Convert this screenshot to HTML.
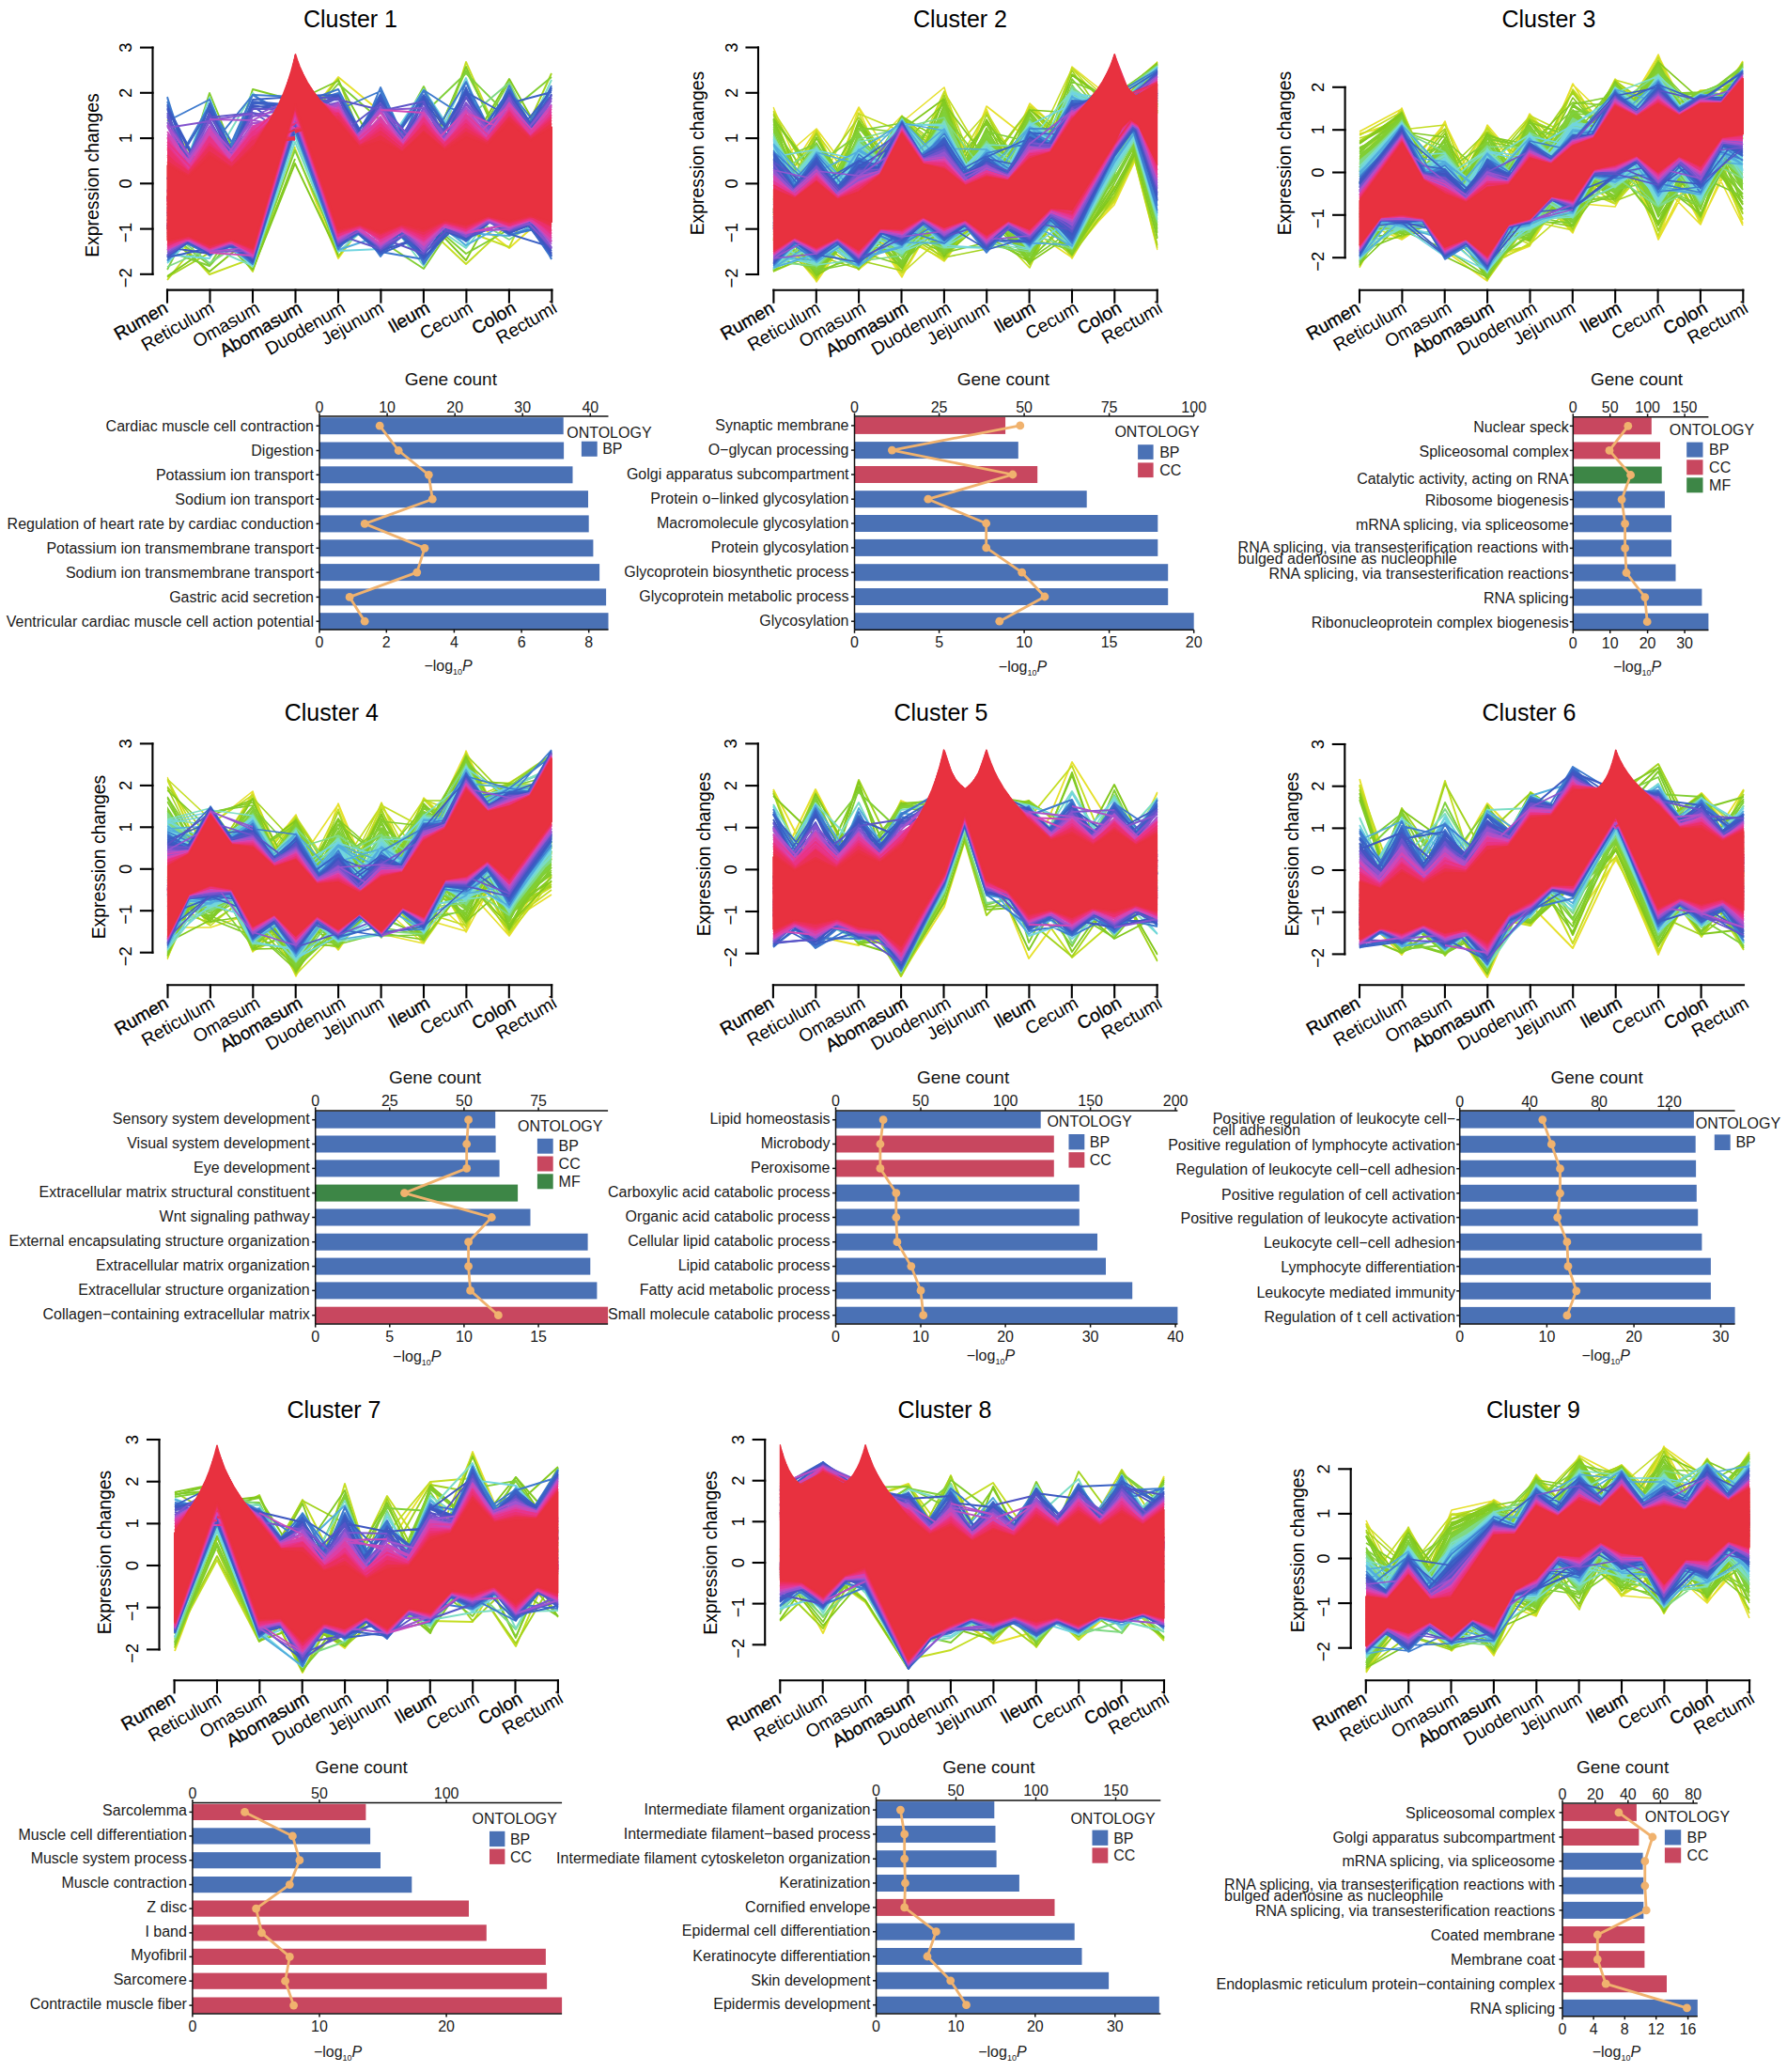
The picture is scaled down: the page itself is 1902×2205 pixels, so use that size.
<!DOCTYPE html>
<html lang="en"><head><meta charset="utf-8"><title>Clusters</title>
<style>html,body{margin:0;padding:0;background:#fff}body{width:1902px;height:2205px;overflow:hidden}svg{display:block}text{font-family:"Liberation Sans", sans-serif}</style></head><body>
<svg width="1902" height="2205" viewBox="0 0 1902 2205">
<rect width="1902" height="2205" fill="#fff"/>
<g id="line1">
<clipPath id="c1"><rect x="177.2" y="36.1" width="411" height="299.1"/></clipPath>
<g clip-path="url(#c1)" fill="none" stroke-width="1.9" stroke-linejoin="round">
<path d="M178 127L223 193M314 141L360 82L405 119M314 158L360 275L405 214M496 229L542 264L587 224" stroke="#e6e02c"/>
<path d="M451 211L496 66L542 170M178 298L223 242M178 243L223 292L269 275M223 228L269 289L314 156M451 239L496 281L542 238M496 246L542 263L587 169" stroke="#c4dd22"/>
<path d="M314 143L360 84L405 199M542 177L587 78M178 295L223 269M314 144L360 273L405 213" stroke="#a3d31e"/>
<path d="M496 162L542 84L587 163M178 294L223 263M178 251L223 289L269 251M269 287L314 174L360 271M451 230L496 277L542 194" stroke="#82c81c"/>
<path d="M223 240L269 95L314 107M314 108L360 86L405 168M451 178L496 71L542 174M223 242L269 287L314 169" stroke="#82ca24"/>
<path d="M178 243L223 99L269 211" stroke="#81cc2c"/>
<path d="M314 142L360 89L405 128M405 175L451 92L496 190M451 173L496 75L542 166M542 119L587 82M178 267L223 283L269 232M405 256L451 286L496 219M451 231L496 270L542 244" stroke="#81ce33"/>
<path d="M451 121L496 78L542 124M496 168L542 87L587 194M178 287L223 199M178 247L223 282L269 211M269 282L314 160L360 265" stroke="#80d03b"/>
<path d="M496 127L542 88L587 178M178 284L223 264M178 243L223 280L269 251M223 216L269 284L314 129M496 228L542 255L587 226" stroke="#7fd984"/>
<path d="M223 177L269 99L314 142M542 182L587 85M223 263L269 283L314 142M269 283L314 151L360 264M314 140L360 268L405 229M405 223L451 283L496 192M451 233L496 264L542 206" stroke="#7bddc4"/>
<path d="M178 228L223 104L269 220M405 164L451 95L496 163M451 178L496 83L542 204M178 280L223 234M178 271L223 275L269 201M223 246L269 283L314 131M269 282L314 145L360 263M314 130L360 267L405 265M451 218L496 262L542 169" stroke="#71d5e0"/>
<path d="M178 278L223 229M223 246L269 281L314 129M314 131L360 266L405 251M451 227L496 261L542 236M496 248L542 251L587 233" stroke="#51acdd"/>
<path d="M178 104L223 237M178 108L223 246M178 103L223 246M178 222L223 112L269 189M178 129L223 106L269 214M178 190L223 112L269 188M223 158L269 101L314 126M223 204L269 101L314 132M223 214L269 101L314 103M314 112L360 95L405 180M314 113L360 99L405 176M314 127L360 100L405 189M360 117L405 97L451 188M360 201L405 93L451 193M360 178L405 100L451 204M405 207L451 96L496 125M405 201L451 96L496 203M405 169L451 96L496 168M451 214L496 87L542 180M451 161L496 87L542 206M451 174L496 95L542 173M496 192L542 91L587 189M496 188L542 95L587 190M496 162L542 96L587 154M542 182L587 91M542 162L587 94M542 196L587 94M178 277L223 229M178 274L223 234M178 277L223 233M178 237L223 272L269 244M178 248L223 271L269 254M178 249L223 271L269 246M223 245L269 279L314 126M223 243L269 281L314 135M223 237L269 279L314 134M269 278L314 134L360 256M269 276L314 134L360 257M269 280L314 139L360 265M314 125L360 263L405 233M314 129L360 263L405 232M314 136L360 265L405 218M360 210L405 273L451 216M360 230L405 270L451 222M360 214L405 272L451 230M405 190L451 281L496 219M405 268L451 276L496 220M405 211L451 279L496 220M451 222L496 256L542 208M451 234L496 256L542 207M451 225L496 257L542 219M496 201L542 249L587 216M496 217L542 250L587 238M496 220L542 250L587 240M542 194L587 273M542 209L587 275M542 191L587 276" stroke="#3d7ace"/>
<path d="M178 112L223 200M178 111L223 224M178 113L223 198M178 191L223 116L269 226M178 244L223 110L269 217M178 241L223 112L269 224M223 231L269 108L314 112M223 233L269 110L314 113M223 217L269 106L314 103M314 130L360 101L405 179M314 129L360 101L405 178M314 102L360 101L405 185M360 187L405 101L451 195M360 199L405 104L451 191M360 193L405 102L451 212M405 207L451 103L496 163M405 169L451 101L496 165M405 170L451 103L496 196M451 180L496 95L542 198M451 200L496 98L542 124M451 211L496 93L542 203M496 166L542 96L587 173M496 176L542 97L587 164M496 189L542 96L587 179M542 152L587 96M542 172L587 93M542 110L587 98M178 274L223 232M178 274L223 264M178 273L223 239M178 241L223 271L269 241M178 247L223 270L269 246M178 243L223 270L269 250M223 236L269 279L314 134M223 237L269 278L314 123M223 246L269 278L314 125M269 275L314 133L360 259M269 274L314 134L360 257M269 277L314 134L360 260M314 131L360 262L405 233M314 124L360 262L405 219M314 131L360 262L405 233M360 228L405 269L451 220M360 229L405 270L451 251M360 217L405 270L451 221M405 225L451 276L496 221M405 229L451 276L496 215M405 224L451 275L496 225M451 227L496 254L542 235M451 236L496 256L542 205M451 218L496 256L542 221M496 216L542 248L587 178M496 218L542 249L587 263M496 215L542 248L587 221M542 214L587 272M542 190L587 273M542 199L587 271" stroke="#3a60c5"/>
<path d="M178 115L223 202M178 116L223 246M178 116L223 246M178 235L223 120L269 214M178 230L223 119L269 197M178 240L223 121L269 196M223 218L269 112L314 120M223 234L269 114L314 111M223 219L269 113L314 144M314 127L360 104L405 176M314 117L360 103L405 172M314 109L360 102L405 175M360 168L405 107L451 203M360 196L405 105L451 202M360 189L405 106L451 172M405 206L451 107L496 164M405 204L451 104L496 203M405 205L451 108L496 185M451 173L496 100L542 166M451 195L496 100L542 174M451 178L496 97L542 178M496 197L542 101L587 165M496 185L542 99L587 171M496 195L542 100L587 166M542 191L587 100M542 161L587 101M542 174L587 101M178 273L223 243M178 272L223 235M178 273L223 233M178 263L223 270L269 229M178 238L223 270L269 253M178 240L223 270L269 243M223 240L269 278L314 128M223 242L269 277L314 130M223 241L269 277L314 124M269 277L314 132L360 255M269 273L314 131L360 254M269 272L314 131L360 254M314 126L360 260L405 232M314 131L360 261L405 185M314 131L360 260L405 220M360 218L405 267L451 251M360 230L405 267L451 218M360 225L405 268L451 234M405 222L451 272L496 210M405 214L451 274L496 231M405 222L451 271L496 220M451 231L496 254L542 220M451 221L496 253L542 217M451 239L496 253L542 222M496 215L542 247L587 228M496 221L542 248L587 231M496 223L542 247L587 221M542 199L587 269M542 210L587 270M542 207L587 267" stroke="#3d56c1"/>
<path d="M178 120L223 225M178 124L223 242M178 122L223 213M178 213L223 121L269 198M178 210L223 123L269 195M178 227L223 127L269 209M223 223L269 116L314 116M223 204L269 120L314 146M223 125L269 120L314 129M314 102L360 105L405 182M314 124L360 104L405 200M314 109L360 106L405 117M360 145L405 110L451 163M360 188L405 110L451 181M360 182L405 111L451 198M405 118L451 108L496 202M405 177L451 110L496 201M405 183L451 110L496 172M451 195L496 104L542 165M451 207L496 103L542 174M451 172L496 104L542 177M496 186L542 104L587 171M496 201L542 101L587 178M496 199L542 102L587 166M542 164L587 102M542 180L587 101M542 183L587 104M178 272L223 240M178 271L223 236M178 272L223 234M178 242L223 269L269 252M178 237L223 269L269 244M178 240L223 269L269 244M223 237L269 275L314 126M223 239L269 275L314 126M223 245L269 274L314 125M269 275L314 129L360 255M269 275L314 131L360 260M269 271L314 128L360 253M314 125L360 257L405 229M314 122L360 260L405 227M314 123L360 259L405 231M360 222L405 266L451 238M360 250L405 265L451 237M360 227L405 265L451 239M405 232L451 267L496 210M405 253L451 270L496 224M405 213L451 268L496 208M451 238L496 252L542 220M451 182L496 252L542 215M451 232L496 252L542 236M496 218L542 246L587 218M496 218L542 246L587 221M496 216L542 246L587 229M542 202L587 264M542 216L587 264M542 214L587 265" stroke="#5d54c8"/>
<path d="M178 130L223 197M178 130L223 232M178 130L223 230M178 214L223 128L269 121M178 136L223 129L269 212M178 203L223 130L269 215M223 202L269 124L314 104M223 196L269 123L314 125M223 197L269 124L314 114M314 119L360 109L405 189M314 126L360 110L405 183M314 141L360 109L405 190M360 192L405 114L451 173M360 178L405 114L451 161M360 169L405 117L451 115M405 185L451 116L496 177M405 203L451 114L496 181M405 199L451 115L496 172M451 198L496 111L542 165M451 187L496 110L542 165M451 194L496 109L542 163M496 171L542 104L587 203M496 177L542 106L587 173M496 195L542 108L587 191M542 163L587 105M542 179L587 107M542 162L587 107M178 269L223 239M178 269L223 242M178 269L223 240M178 238L223 268L269 267M178 237L223 268L269 251M178 238L223 268L269 247M223 240L269 274L314 122M223 242L269 274L314 119M223 242L269 274L314 124M269 270L314 128L360 256M269 273L314 126L360 253M269 271L314 126L360 255M314 127L360 256L405 225M314 125L360 257L405 235M314 126L360 258L405 233M360 230L405 263L451 238M360 231L405 263L451 225M360 221L405 264L451 226M405 225L451 267L496 211M405 221L451 268L496 209M405 216L451 266L496 211M451 224L496 252L542 221M451 230L496 249L542 220M451 230L496 251L542 215M496 227L542 245L587 225M496 223L542 244L587 231M496 224L542 245L587 222M542 204L587 263M542 199L587 264M542 216L587 263" stroke="#8354ce"/>
<path d="M178 133L223 224M178 134L223 227M178 133L223 197M178 204L223 135L269 195M178 212L223 137L269 211M178 210L223 134L269 186M223 127L269 128L314 106M223 198L269 131L314 131M223 191L269 128L314 136M314 114L360 113L405 192M314 120L360 112L405 192M314 131L360 110L405 197M360 168L405 116L451 194M360 166L405 117L451 191M360 167L405 119L451 178M405 196L451 119L496 189M405 191L451 118L496 195M405 195L451 118L496 190M451 189L496 117L542 170M451 195L496 117L542 167M451 180L496 114L542 164M496 189L542 109L587 182M496 178L542 109L587 179M496 191L542 110L587 172M542 169L587 111M542 181L587 111M542 169L587 111M178 267L223 241M178 266L223 239M178 267L223 240M178 245L223 268L269 263M178 240L223 267L269 249M178 242L223 267L269 244M223 238L269 273L314 119M223 242L269 272L314 118M223 245L269 272L314 122M269 270L314 125L360 254M269 272L314 124L360 254M269 272L314 124L360 253M314 119L360 254L405 227M314 120L360 256L405 228M314 121L360 256L405 215M360 229L405 262L451 226M360 225L405 260L451 221M360 229L405 261L451 229M405 219L451 265L496 209M405 200L451 262L496 212M405 222L451 263L496 221M451 234L496 249L542 219M451 229L496 249L542 220M451 225L496 248L542 238M496 246L542 244L587 219M496 225L542 243L587 167M496 222L542 243L587 225M542 211L587 258M542 204L587 260M542 215L587 256" stroke="#aa51cb"/>
<path d="M178 142L201 176L223 140L246 169L269 133L274 133L280 131L285 128L289 124L296 112L302 100L306 87L310 76L312 67L314 58L317 65L319 71L323 79L327 88L333 96L339 105L344 109L349 111L354 113L360 115L383 149L405 125L428 153L451 121L474 151L496 120L519 146L542 113L565 142L587 115L587 254L565 233L542 242L519 233L496 247L474 239L451 260L428 244L405 258L383 242L360 253L314 123L269 271L246 257L223 266L201 254L178 265Z" fill="#d048b7" stroke="none"/>
<path d="M178 143L223 201M178 140L223 202M178 140L223 202M178 218L223 140L269 208M178 205L223 141L269 190M178 227L223 137L269 199M223 209L269 134L314 148M223 214L269 136L314 136M223 200L269 134L314 122M314 126L360 115L405 188M314 141L360 114L405 192M314 128L360 115L405 191M360 165L405 126L451 176M360 170L405 120L451 187M360 175L405 124L451 189M405 117L451 120L496 193M405 189L451 120L496 181M405 178L451 122L496 191M451 163L496 118L542 173M451 186L496 120L542 140M451 180L496 118L542 184M496 174L542 110L587 163M496 154L542 112L587 176M496 185L542 114L587 174M542 170L587 113M542 167L587 112M542 165L587 114M178 265L223 245M178 265L223 239M178 266L223 214M178 244L223 266L269 245M178 239L223 265L269 247M178 224L223 266L269 250M223 240L269 271L314 121M223 269L269 272L314 122M223 245L269 271L314 120M269 268L314 124L360 251M269 269L314 123L360 249M269 269L314 122L360 251M314 117L360 253L405 229M314 123L360 253L405 227M314 119L360 254L405 228M360 231L405 259L451 187M360 226L405 260L451 224M360 227L405 260L451 232M405 223L451 261L496 215M405 233L451 259L496 216M405 221L451 259L496 207M451 225L496 248L542 239M451 227L496 248L542 218M451 236L496 247L542 220M496 180L542 242L587 221M496 225L542 241L587 223M496 224L542 242L587 227M542 170L587 257M542 212L587 254M542 206L587 257" stroke="#d048b7"/>
<path d="M178 148L201 178L223 144L246 171L269 138L274 136L280 133L285 129L289 124L296 112L302 100L306 87L310 76L312 67L314 58L317 65L319 71L323 79L327 88L333 96L339 105L344 109L349 112L354 115L360 117L383 150L405 129L428 155L451 125L474 153L496 124L519 148L542 116L565 143L587 119L587 251L565 233L542 241L519 232L496 246L474 238L451 257L428 243L405 256L383 241L360 251L314 121L269 269L246 257L223 265L201 253L178 264Z" fill="#e03c9d" stroke="none"/>
<path d="M178 147L223 213M178 146L223 213M178 214L223 145L269 204M178 211L223 145L269 209M223 216L269 136L314 109M223 199L269 138L314 122M314 128L360 117L405 183M314 114L360 117L405 180M360 165L405 128L451 188M360 183L405 127L451 180M405 192L451 124L496 191M405 186L451 127L496 187M451 191L496 122L542 165M451 187L496 126L542 171M496 181L542 115L587 165M496 178L542 116L587 167M542 163L587 119M542 175L587 116M178 263L223 241M178 264L223 245M178 243L223 265L269 247M178 240L223 265L269 250M223 243L269 269L314 119M223 242L269 270L314 121M269 270L314 121L360 253M269 267L314 120L360 252M314 116L360 251L405 227M314 116L360 251L405 234M360 221L405 257L451 231M360 224L405 256L451 223M405 231L451 257L496 218M405 229L451 256L496 221M451 230L496 246L542 217M451 232L496 246L542 216M496 223L542 240L587 224M496 224L542 240L587 224M542 214L587 253M542 218L587 251" stroke="#e03c9d"/>
<path d="M178 154L201 180L223 149L246 173L269 142L274 139L280 134L285 130L289 124L296 112L302 100L306 87L310 76L312 67L314 58L317 65L319 71L323 79L327 88L333 96L339 105L344 109L349 113L354 117L360 120L383 152L405 133L428 157L451 128L474 154L496 129L519 149L542 119L565 145L587 122L587 248L565 232L542 239L519 232L496 244L474 237L451 254L428 242L405 254L383 241L360 250L314 119L269 268L246 256L223 264L201 253L178 262Z" fill="#e93384" stroke="none"/>
<path d="M178 154L223 215M178 151L223 199M178 218L223 149L269 205M178 224L223 146L269 203M223 196L269 141L314 101M223 204L269 140L314 149M314 137L360 120L405 181M314 131L360 120L405 187M360 170L405 132L451 175M360 172L405 133L451 187M405 186L451 126L496 187M405 184L451 129L496 176M451 176L496 128L542 177M451 183L496 130L542 169M496 173L542 119L587 172M496 186L542 118L587 174M542 170L587 122M542 167L587 123M178 261L223 243M178 262L223 241M178 241L223 264L269 248M178 241L223 264L269 247M223 243L269 268L314 117M223 246L269 269L314 118M269 266L314 119L360 247M269 267L314 119L360 249M314 116L360 251L405 230M314 117L360 250L405 234M360 229L405 254L451 231M360 227L405 254L451 231M405 231L451 253L496 217M405 230L451 255L496 219M451 230L496 244L542 220M451 230L496 245L542 221M496 222L542 239L587 224M496 222L542 240L587 226M542 210L587 249M542 214L587 248" stroke="#e93384"/>
<path d="M178 160L201 182L223 154L246 175L269 147L274 142L280 136L285 130L289 124L296 112L302 100L306 87L310 76L312 67L314 58L317 65L319 71L323 79L327 88L333 96L339 105L344 110L349 114L354 119L360 123L383 153L405 138L428 158L451 132L474 156L496 133L519 150L542 122L565 146L587 126L587 245L565 231L542 238L519 231L496 243L474 236L451 251L428 241L405 252L383 240L360 248L314 116L269 267L246 256L223 263L201 252L178 260Z" fill="#eb306e" stroke="none"/>
<path d="M178 159L223 211M178 157L223 210M178 215L223 153L269 193M178 211L223 154L269 191M223 205L269 146L314 132M223 202L269 148L314 110M314 140L360 121L405 182M314 111L360 122L405 188M360 174L405 136L451 174M360 165L405 138L451 183M405 182L451 133L496 184M405 189L451 131L496 183M451 174L496 132L542 174M451 179L496 133L542 169M496 185L542 121L587 175M496 180L542 120L587 173M542 171L587 125M542 167L587 125M178 260L223 246M178 261L223 242M178 243L223 263L269 246M178 242L223 263L269 249M223 243L269 266L314 115M223 243L269 267L314 116M269 265L314 116L360 247M269 266L314 116L360 246M314 114L360 248L405 233M314 114L360 248L405 230M360 227L405 253L451 229M360 227L405 252L451 226M405 232L451 251L496 223M405 230L451 252L496 222M451 229L496 242L542 218M451 228L496 243L542 220M496 224L542 238L587 220M496 223L542 239L587 223M542 215L587 246M542 218L587 245" stroke="#eb306e"/>
<path d="M178 166L201 184L223 158L246 177L269 151L274 145L280 137L285 131L289 124L296 112L302 100L306 87L310 76L312 67L314 58L317 65L319 71L323 79L327 88L333 96L339 105L344 110L349 115L354 121L360 126L383 155L405 142L428 160L451 135L474 158L496 138L519 152L542 125L565 147L587 129L587 242L565 230L542 237L519 231L496 241L474 235L451 248L428 240L405 250L383 239L360 246L314 114L269 265L246 255L223 262L201 252L178 259Z" fill="#eb3058" stroke="none"/>
<path d="M178 165L223 208M178 167L223 199M178 212L223 156L269 192M178 210L223 157L269 193M223 204L269 153L314 148M223 200L269 150L314 146M314 141L360 124L405 183M314 139L360 125L405 185M360 171L405 140L451 176M360 169L405 143L451 179M405 183L451 135L496 179M405 182L451 134L496 184M451 178L496 137L542 165M451 179L496 140L542 166M496 182L542 124L587 168M496 181L542 124L587 171M542 165L587 128M542 166L587 131M178 259L223 245M178 259L223 244M178 240L223 263L269 247M178 242L223 262L269 249M223 245L269 265L314 114M223 246L269 265L314 114M269 264L314 114L360 246M269 265L314 114L360 246M314 115L360 247L405 231M314 115L360 247L405 232M360 229L405 250L451 227M360 229L405 250L451 229M405 232L451 249L496 221M405 230L451 249L496 222M451 231L496 242L542 220M451 230L496 241L542 219M496 223L542 237L587 221M496 224L542 237L587 224M542 217L587 241M542 217L587 241" stroke="#eb3058"/>
<path d="M178 172L201 187L223 163L246 178L269 156L274 148L280 139L285 132L289 124L296 112L302 100L306 87L310 76L312 67L314 58L317 65L319 71L323 79L327 88L333 96L339 105L344 111L349 116L354 122L360 128L383 156L405 147L428 161L451 139L474 159L496 142L519 153L542 128L565 149L587 133L587 239L565 229L542 236L519 230L496 240L474 235L451 246L428 239L405 248L383 239L360 245L314 112L269 264L246 255L223 261L201 251L178 257Z" fill="#e93146" stroke="none"/>
<path d="M178 172L223 202M178 173L223 200M178 212L223 162L269 194M178 211L223 163L269 192M223 202L269 156L314 138M223 201L269 158L314 147M314 105L360 129L405 183M314 140L360 128L405 184M360 165L405 146L451 177M360 167L405 145L451 178M405 184L451 140L496 179M405 184L451 140L496 179M451 176L496 142L542 164M451 176L496 141L542 165M496 178L542 126L587 169M496 179L542 129L587 170M542 165L587 132M542 163L587 134M178 257L223 245M178 257L223 245M178 241L223 261L269 248M178 241L223 261L269 248M223 246L269 264L314 112M223 245L269 264L314 113M269 263L314 111L360 244M269 264L314 113L360 245M314 112L360 245L405 233M314 112L360 245L405 231M360 229L405 248L451 229M360 228L405 248L451 229M405 232L451 246L496 223M405 232L451 246L496 224M451 229L496 240L542 220M451 229L496 240L542 220M496 223L542 236L587 223M496 223L542 236L587 223M542 220L587 239M542 219L587 239" stroke="#e93146"/>
<polygon points="178,176 200.7,188.1 223.5,166.4 246.2,179.6 269,159.1 274.4,150 280.4,140.1 284.9,132.4 289.4,124.5 296.3,111.6 301.7,99.5 306.3,87.4 309.9,75.8 312.2,67.4 314.5,57.8 316.7,64.6 319,70.7 322.7,79 327.2,87.6 332.7,96.2 339.5,105.4 344,111.1 348.6,116.6 354.5,123.7 360,130.2 382.7,157 405.4,150 428.2,162.5 450.9,141.3 473.7,160.3 496.4,145.6 519.2,154.6 541.9,129.7 564.7,149.5 587.4,135.5 587.4,236.3 564.7,228.4 541.9,234.9 519.2,229.6 496.4,238.7 473.7,233.9 450.9,243.6 428.2,238 405.4,246.9 382.7,238 360,243.6 314.5,110.9 269,262.9 246.2,254.4 223.5,260.4 200.7,250.8 178,255.6" fill="#e8313f" stroke="#e8313f" stroke-width="1.5"/>
</g>
<g stroke="#000" stroke-width="2.1" fill="none" stroke-linecap="square">
<path d="M162.5 50.6V291.8"/>
<path d="M150 50.6H162.5"/>
<path d="M150 98.8H162.5"/>
<path d="M150 147.1H162.5"/>
<path d="M150 195.3H162.5"/>
<path d="M150 243.6H162.5"/>
<path d="M150 291.8H162.5"/>
<path d="M178 308.6H587.4"/>
<path d="M178 308.6V321.6"/>
<path d="M223.5 308.6V321.6"/>
<path d="M269 308.6V321.6"/>
<path d="M314.5 308.6V321.6"/>
<path d="M360 308.6V321.6"/>
<path d="M405.4 308.6V321.6"/>
<path d="M450.9 308.6V321.6"/>
<path d="M496.4 308.6V321.6"/>
<path d="M541.9 308.6V321.6"/>
<path d="M587.4 308.6V321.6"/>
</g>
<text transform="translate(140 50.6) rotate(-90)" text-anchor="middle" font-size="18.5">3</text>
<text transform="translate(140 98.8) rotate(-90)" text-anchor="middle" font-size="18.5">2</text>
<text transform="translate(140 147.1) rotate(-90)" text-anchor="middle" font-size="18.5">1</text>
<text transform="translate(140 195.3) rotate(-90)" text-anchor="middle" font-size="18.5">0</text>
<text transform="translate(140 247.6) rotate(-90)" text-anchor="middle" font-size="18.5">−1</text>
<text transform="translate(140 295.8) rotate(-90)" text-anchor="middle" font-size="18.5">−2</text>
<text transform="translate(104.7 186.5) rotate(-90)" text-anchor="middle" font-size="19.4">Expression changes</text>
<text x="373" y="29" text-anchor="middle" font-size="25">Cluster 1</text>
<text transform="translate(180.1 331.4) rotate(-30)" text-anchor="end" font-size="19.3" stroke="#000" stroke-width="0.35">Rumen</text>
<text transform="translate(229.4 331.4) rotate(-30)" text-anchor="end" font-size="19.3">Reticulum</text>
<text transform="translate(277.8 331.4) rotate(-30)" text-anchor="end" font-size="19.3">Omasum</text>
<text transform="translate(323 331.4) rotate(-30)" text-anchor="end" font-size="19.3" stroke="#000" stroke-width="0.35">Abomasum</text>
<text transform="translate(369 331.4) rotate(-30)" text-anchor="end" font-size="19.3">Duodenum</text>
<text transform="translate(409.9 331.4) rotate(-30)" text-anchor="end" font-size="19.3">Jejunum</text>
<text transform="translate(458.8 331.4) rotate(-30)" text-anchor="end" font-size="19.3" stroke="#000" stroke-width="0.35">Ileum</text>
<text transform="translate(504.6 331.4) rotate(-30)" text-anchor="end" font-size="19.3">Cecum</text>
<text transform="translate(550.7 331.4) rotate(-30)" text-anchor="end" font-size="19.3" stroke="#000" stroke-width="0.35">Colon</text>
<text transform="translate(594.1 331.4) rotate(-30)" text-anchor="end" font-size="19.3">Rectumi</text>
</g>
<g id="bar1">
<rect x="340" y="444.2" width="259.7" height="18" fill="#4a71b5"/>
<rect x="340" y="470.5" width="260.1" height="18" fill="#4a71b5"/>
<rect x="340" y="496.3" width="269.5" height="18" fill="#4a71b5"/>
<rect x="340" y="522.2" width="286" height="18" fill="#4a71b5"/>
<rect x="340" y="548.4" width="286.7" height="18" fill="#4a71b5"/>
<rect x="340" y="574.3" width="291.4" height="18" fill="#4a71b5"/>
<rect x="340" y="600.1" width="298.1" height="18" fill="#4a71b5"/>
<rect x="340" y="626.4" width="305.1" height="18" fill="#4a71b5"/>
<rect x="340" y="652.2" width="307.5" height="18" fill="#4a71b5"/>
<polyline points="404.2,453.2 424.2,479.5 456.3,505.3 460.3,531.2 388.2,557.4 452,583.3 443.8,609.1 372.1,635.4 388.2,661.2" fill="none" stroke="#f0b26e" stroke-width="2.8" stroke-linejoin="round"/>
<circle cx="404.2" cy="453.2" r="4.4" fill="#f0b26e"/>
<circle cx="424.2" cy="479.5" r="4.4" fill="#f0b26e"/>
<circle cx="456.3" cy="505.3" r="4.4" fill="#f0b26e"/>
<circle cx="460.3" cy="531.2" r="4.4" fill="#f0b26e"/>
<circle cx="388.2" cy="557.4" r="4.4" fill="#f0b26e"/>
<circle cx="452" cy="583.3" r="4.4" fill="#f0b26e"/>
<circle cx="443.8" cy="609.1" r="4.4" fill="#f0b26e"/>
<circle cx="372.1" cy="635.4" r="4.4" fill="#f0b26e"/>
<circle cx="388.2" cy="661.2" r="4.4" fill="#f0b26e"/>
<g stroke="#111" stroke-width="1.5" fill="none">
<path d="M340 443.1V669.9"/>
<path d="M340 443.1H647.5"/>
<path d="M340 669.9H647.5"/>
<path d="M336.5 453.2H340"/>
<path d="M336.5 479.5H340"/>
<path d="M336.5 505.3H340"/>
<path d="M336.5 531.2H340"/>
<path d="M336.5 557.4H340"/>
<path d="M336.5 583.3H340"/>
<path d="M336.5 609.1H340"/>
<path d="M336.5 635.4H340"/>
<path d="M336.5 661.2H340"/>
<path d="M340 439.6V443.1"/>
<path d="M412.1 439.6V443.1"/>
<path d="M484.2 439.6V443.1"/>
<path d="M556.2 439.6V443.1"/>
<path d="M628.3 439.6V443.1"/>
<path d="M340 669.9V673.4"/>
<path d="M411.3 669.9V673.4"/>
<path d="M483.4 669.9V673.4"/>
<path d="M555.1 669.9V673.4"/>
<path d="M626.7 669.9V673.4"/>
</g>
<g font-size="16" fill="#1a1a1a">
<text x="334" y="458.9" text-anchor="end">Cardiac muscle cell contraction</text>
<text x="334" y="485.2" text-anchor="end">Digestion</text>
<text x="334" y="511" text-anchor="end">Potassium ion transport</text>
<text x="334" y="536.9" text-anchor="end">Sodium ion transport</text>
<text x="334" y="563.1" text-anchor="end">Regulation of heart rate by cardiac conduction</text>
<text x="334" y="589" text-anchor="end">Potassium ion transmembrane transport</text>
<text x="334" y="614.8" text-anchor="end">Sodium ion transmembrane transport</text>
<text x="334" y="641.1" text-anchor="end">Gastric acid secretion</text>
<text x="334" y="666.9" text-anchor="end">Ventricular cardiac muscle cell action potential</text>
<text x="340" y="438.6" text-anchor="middle">0</text>
<text x="412.1" y="438.6" text-anchor="middle">10</text>
<text x="484.2" y="438.6" text-anchor="middle">20</text>
<text x="556.2" y="438.6" text-anchor="middle">30</text>
<text x="628.3" y="438.6" text-anchor="middle">40</text>
<text x="340" y="688.9" text-anchor="middle">0</text>
<text x="411.3" y="688.9" text-anchor="middle">2</text>
<text x="483.4" y="688.9" text-anchor="middle">4</text>
<text x="555.1" y="688.9" text-anchor="middle">6</text>
<text x="626.7" y="688.9" text-anchor="middle">8</text>
<text x="603.2" y="465.6">ONTOLOGY</text>
<rect x="618.9" y="469.7" width="16.8" height="16.1" fill="#4a71b5"/>
<text x="641.2" y="483.4">BP</text>
<text x="477.1" y="713.8" text-anchor="middle">−log<tspan font-size="9" dy="4">10</tspan><tspan dy="-4" font-style="italic">P</tspan></text>
</g>
<text x="479.8" y="409.5" text-anchor="middle" font-size="19" fill="#111">Gene count</text>
</g>
<g id="line2">
<clipPath id="c2"><rect x="822.6" y="36" width="409.9" height="299.5"/></clipPath>
<g clip-path="url(#c2)" fill="none" stroke-width="1.6" stroke-linejoin="round">
<path d="M823 114L869 223M823 210L869 137L914 197M823 238L869 137L914 257M823 177L869 137L914 238M869 203L914 114L960 186M869 253L914 115L960 228M914 227L960 123L1005 179M914 170L960 123L1005 215M960 130L1005 93L1050 241M1005 232L1050 113L1096 149M1005 232L1050 116L1096 233M1050 214L1096 110L1141 173M1050 241L1096 110L1141 151M1096 215L1141 71L1186 107M1186 106L1232 66M1186 142L1232 66M1186 116L1232 66M823 289L869 244M823 289L869 237M823 239L869 299L914 234M823 212L869 300L914 235M823 244L869 299L914 219M869 215L914 287L960 238M869 245L914 287L960 250M914 226L960 295L1005 210M914 213L960 294L1005 218M960 232L1005 278L1050 220M960 248L1005 278L1050 197M960 200L1005 277L1050 214M1096 209L1141 275L1186 198M1096 244L1141 274L1186 186M1141 265L1186 218L1232 120M1141 270L1186 215L1232 117M1186 84L1232 266" stroke="#e6e02c"/>
<path d="M823 118L869 189M823 118L869 253M823 229L869 141L914 204M823 256L869 139L914 254M869 232L914 121L960 140M869 253L914 120L960 228M914 236L960 124L1005 165M960 213L1005 98L1050 173M960 198L1005 97L1050 212M1005 171L1050 120L1096 224M1005 198L1050 119L1096 196M1050 241L1096 114L1141 159M1050 241L1096 113L1141 148M1096 231L1141 72L1186 112M1096 168L1141 73L1186 122M1186 121L1232 66M823 289L869 250M823 223L869 298L914 213M869 234L914 287L960 210M914 213L960 291L1005 250M914 224L960 291L1005 218M914 213L960 290L1005 189M960 215L1005 277L1050 218M960 253L1005 276L1050 218M1050 237L1096 285L1141 186M1096 215L1141 273L1186 168M1096 208L1141 273L1186 175M1096 194L1141 273L1186 177M1141 263L1186 214L1232 119M1141 270L1186 212L1232 112M1186 81L1232 263M1186 86L1232 264" stroke="#c4dd22"/>
<path d="M823 121L869 198M823 122L869 232M823 254L869 142L914 250M823 212L869 142L914 231M869 187L914 125L960 191M914 233L960 124L1005 196M914 201L960 124L1005 160M960 228L1005 101L1050 239M960 227L1005 101L1050 221M1005 232L1050 122L1096 200M1050 179L1096 116L1141 160M1050 175L1096 116L1141 166M1096 187L1141 75L1186 140M1186 104L1232 67M1186 109L1232 67M823 289L869 269M823 289L869 236M823 253L869 295L914 234M823 240L869 296L914 231M823 223L869 295L914 226M869 272L914 286L960 220M869 257L914 286L960 230M914 277L960 288L1005 194M960 213L1005 275L1050 214M960 223L1005 274L1050 265M960 247L1005 274L1050 224M1050 214L1096 282L1141 194M1050 219L1096 281L1141 184M1096 235L1141 272L1186 174M1096 218L1141 272L1186 199M1141 272L1186 210L1232 118M1141 263L1186 209L1232 117M1141 261L1186 208L1232 115M1186 87L1232 261M1186 81L1232 261M1186 86L1232 261" stroke="#a3d31e"/>
<path d="M823 127L869 253M823 126L869 230M823 126L869 185M869 253L914 128L960 194M869 253L914 128L960 209M869 251L914 129L960 215M914 207L960 124L1005 184M914 219L960 124L1005 216M960 213L1005 105L1050 241M960 138L1005 105L1050 241M1005 223L1050 127L1096 201M1005 203L1050 128L1096 225M1050 202L1096 117L1141 150M1050 222L1096 117L1141 120M1096 197L1141 80L1186 113M1096 217L1141 79L1186 111M1186 136L1232 68M1186 104L1232 67M823 288L869 225M823 288L869 231M823 225L869 293L914 267M823 222L869 293L914 228M869 229L914 286L960 210M869 233L914 286L960 217M914 234L960 286L1005 202M914 236L960 285L1005 218M960 217L1005 272L1050 209M960 202L1005 273L1050 215M960 214L1005 272L1050 233M1050 222L1096 280L1141 182M1050 225L1096 279L1141 249M1050 251L1096 279L1141 178M1096 220L1141 271L1186 186M1141 264L1186 205L1232 110M1141 266L1186 205L1232 119M1186 83L1232 254" stroke="#82c81c"/>
<path d="M823 129L869 253M823 127L869 188M823 127L869 253M823 256L869 147L914 226M823 229L869 147L914 214M823 241L869 146L914 233M869 253L914 133L960 197M869 247L914 131L960 215M914 225L960 124L1005 151M914 195L960 124L1005 202M960 218L1005 111L1050 241M960 185L1005 108L1050 236M960 154L1005 110L1050 170M1005 212L1050 130L1096 186M1005 188L1050 132L1096 212M1050 233L1096 119L1141 173M1050 193L1096 120L1141 169M1186 136L1232 68M1186 146L1232 68M823 288L869 269M823 288L869 228M823 243L869 291L914 233M823 221L869 292L914 237M823 228L869 292L914 240M869 228L914 286L960 206M869 242L914 285L960 210M869 248L914 286L960 175M914 268L960 282L1005 216M914 237L960 284L1005 215M914 217L960 283L1005 194M1050 215L1096 278L1141 173M1050 206L1096 277L1141 174M1050 219L1096 277L1141 229M1096 215L1141 269L1186 172M1096 183L1141 270L1186 195M1141 269L1186 200L1232 117M1141 266L1186 202L1232 110M1186 85L1232 253" stroke="#82ca24"/>
<path d="M823 132L869 253M869 207L914 136L960 193M869 243L914 136L960 141M914 200L960 125L1005 170M914 222L960 125L1005 176M914 210L960 125L1005 202M960 221L1005 113L1050 241M1005 227L1050 137L1096 184M1005 232L1050 136L1096 221M1050 241L1096 123L1141 171M1050 241L1096 121L1141 188M1096 229L1141 84L1186 136M1186 135L1232 69M1186 115L1232 69M1186 101L1232 69M823 288L869 226M823 288L869 229M823 230L869 290L914 233M823 233L869 291L914 243M823 234L869 289L914 273M869 247L914 285L960 225M869 236L914 285L960 249M869 241L914 285L960 215M914 217L960 279L1005 212M914 219L960 280L1005 237M914 238L960 281L1005 195M960 214L1005 269L1050 258M960 226L1005 270L1050 212M960 248L1005 269L1050 223M1050 232L1096 276L1141 191M1050 256L1096 275L1141 235M1050 215L1096 276L1141 245M1096 212L1141 269L1186 171M1096 205L1141 268L1186 176M1141 262L1186 195L1232 110M1186 79L1232 248M1186 82L1232 247M1186 80L1232 248" stroke="#81cc2c"/>
<path d="M823 137L846 190L869 152L891 192L914 142L937 171L960 126L982 159L1005 120L1028 176L1050 141L1073 174L1096 125L1118 146L1141 89L1146 96L1152 101L1157 103L1161 103L1168 95L1174 87L1178 78L1182 70L1184 64L1186 58L1187 62L1189 66L1190 72L1193 79L1195 85L1199 91L1201 94L1203 97L1206 100L1209 102L1232 70L1232 243L1212 158L1203 151L1194 161L1186 190L1141 267L1118 236L1096 272L1073 244L1050 269L1028 243L1005 267L982 242L960 275L937 253L914 285L891 261L869 287L846 261L823 287Z" fill="#81ce33" stroke="none"/>
<path d="M823 137L869 232M823 135L869 202M823 137L869 222M823 233L869 152L914 228M869 253L914 141L960 216M869 222L914 139L960 131M914 221L960 125L1005 178M914 234L960 125L1005 200M914 207L960 125L1005 184M960 205L1005 116L1050 241M960 212L1005 119L1050 241M1005 208L1050 140L1096 151M1005 213L1050 139L1096 213M1005 222L1050 139L1096 205M1050 239L1096 123L1141 184M1050 209L1096 123L1141 162M1096 168L1141 87L1186 105M1186 143L1232 69M1186 140L1232 69M823 287L869 228M823 287L869 236M823 226L869 288L914 228M823 246L869 288L914 279M823 222L869 288L914 238M869 233L914 285L960 210M869 242L914 285L960 215M914 254L960 277L1005 190M960 203L1005 268L1050 211M960 224L1005 268L1050 219M1050 253L1096 273L1141 184M1050 213L1096 273L1141 177M1096 191L1141 268L1186 185M1096 209L1141 267L1186 169M1141 264L1186 190L1232 107M1141 254L1186 192L1232 113M1186 77L1232 243M1186 78L1232 244" stroke="#81ce33"/>
<path d="M823 172L869 153L914 214M823 226L869 153L914 240M823 250L869 153L914 216M869 242L914 144L960 204M869 221L914 146L960 189M869 176L914 143L960 215M914 220L960 126L1005 203M914 219L960 126L1005 187M914 208L960 126L1005 203M960 215L1005 123L1050 241M960 213L1005 120L1050 241M960 166L1005 122L1050 179M1005 227L1050 145L1096 194M1005 200L1050 142L1096 217M1005 232L1050 144L1096 227M1186 103L1232 70M823 287L869 225M823 287L869 238M823 287L869 247M823 274L869 286L914 238M869 219L914 284L960 229M869 229L914 284L960 222M869 252L914 284L960 226M914 217L960 274L1005 223M960 218L1005 266L1050 218M960 228L1005 267L1050 224M1050 223L1096 272L1141 189M1050 223L1096 271L1141 202M1096 254L1141 266L1186 166M1096 194L1141 267L1186 167M1141 250L1186 189L1232 113M1186 78L1232 240M1186 77L1232 240" stroke="#80d03b"/>
<path d="M823 144L846 192L869 156L891 194L914 150L937 173L960 126L982 161L1005 128L1028 179L1050 149L1073 176L1096 129L1118 147L1141 95L1146 99L1152 103L1157 104L1161 103L1168 95L1174 87L1178 78L1182 70L1184 64L1186 58L1187 62L1189 66L1190 72L1193 79L1195 85L1199 91L1201 94L1203 97L1206 100L1209 102L1232 71L1232 236L1212 154L1203 147L1194 158L1186 183L1141 265L1118 234L1096 268L1073 243L1050 269L1028 242L1005 264L982 240L960 270L937 252L914 284L891 260L869 283L846 261L823 286Z" fill="#7fd984" stroke="none"/>
<path d="M823 142L869 243M823 213L869 156L914 233M823 212L869 155L914 233M823 189L869 156L914 216M869 246L914 148L960 191M869 237L914 148L960 136M914 211L960 126L1005 210M914 224L960 126L1005 202M960 136L1005 125L1050 212M960 208L1005 127L1050 186M960 191L1005 128L1050 220M1050 241L1096 129L1141 158M1050 217L1096 128L1141 174M1096 215L1141 92L1186 129M1096 218L1141 93L1186 129M1186 103L1232 70M1186 136L1232 71M1186 124L1232 70M823 286L869 223M823 286L869 258M823 286L869 249M823 223L869 284L914 243M823 279L869 283L914 232M869 242L914 284L960 227M869 267L914 284L960 219M869 228L914 284L960 224M914 278L960 272L1005 197M914 237L960 272L1005 203M914 235L960 272L1005 209M960 180L1005 264L1050 220M960 210L1005 264L1050 262M960 249L1005 264L1050 211M1050 261L1096 268L1141 194M1096 208L1141 265L1186 164M1096 248L1141 265L1186 179M1141 264L1186 184L1232 111M1141 264L1186 184L1232 106M1186 76L1232 237M1186 79L1232 237" stroke="#7fd984"/>
<path d="M823 147L869 233M823 145L869 253M823 146L869 218M823 234L869 157L914 253M823 215L869 157L914 214M823 218L869 159L914 216M869 253L914 152L960 190M869 253L914 154L960 185M869 236L914 151L960 141M914 207L960 127L1005 205M914 231L960 127L1005 202M914 225L960 127L1005 198M960 133L1005 132L1050 241M960 195L1005 129L1050 241M960 189L1005 132L1050 224M1005 206L1050 154L1096 156M1005 207L1050 154L1096 184M1005 201L1050 153L1096 211M1050 232L1096 131L1141 180M1050 226L1096 130L1141 183M1050 192L1096 131L1141 156M1096 150L1141 96L1186 116M1096 201L1141 96L1186 141M1096 174L1141 95L1186 144M1186 120L1232 71M1186 116L1232 71M1186 139L1232 71M823 286L869 223M823 286L869 260M823 286L869 238M823 240L869 282L914 239M823 271L869 282L914 276M823 258L869 282L914 229M869 230L914 283L960 226M869 238L914 283L960 212M869 225L914 284L960 247M914 250L960 270L1005 228M914 258L960 268L1005 250M914 232L960 268L1005 205M960 214L1005 263L1050 264M960 180L1005 263L1050 237M960 211L1005 263L1050 222M1050 211L1096 267L1141 184M1050 258L1096 266L1141 212M1050 209L1096 267L1141 189M1096 223L1141 264L1186 178M1096 194L1141 264L1186 164M1096 209L1141 264L1186 169M1141 249L1186 182L1232 109M1141 254L1186 181L1232 108M1141 262L1186 180L1232 104M1186 77L1232 233M1186 77L1232 234M1186 75L1232 233" stroke="#7bddc4"/>
<path d="M823 150L846 194L869 160L891 196L914 157L937 174L960 127L982 163L1005 135L1028 182L1050 157L1073 179L1096 134L1118 149L1141 100L1146 103L1152 105L1157 105L1161 103L1168 95L1174 87L1178 78L1182 70L1184 64L1186 58L1187 62L1189 66L1190 72L1193 79L1195 85L1199 91L1201 94L1203 97L1206 100L1209 102L1232 72L1232 229L1212 151L1203 144L1194 154L1186 175L1141 263L1118 233L1096 264L1073 243L1050 269L1028 241L1005 261L982 239L960 265L937 250L914 283L891 259L869 280L846 260L823 285Z" fill="#71d5e0" stroke="none"/>
<path d="M823 149L869 228M823 150L869 224M823 148L869 230M823 235L869 161L914 224M823 216L869 160L914 170M823 167L869 159L914 233M869 253L914 157L960 209M869 235L914 155L960 211M869 240L914 156L960 200M914 232L960 127L1005 209M914 224L960 127L1005 186M914 193L960 127L1005 184M960 187L1005 135L1050 223M960 202L1005 135L1050 230M960 132L1005 134L1050 215M1005 213L1050 157L1096 195M1005 196L1050 156L1096 199M1005 202L1050 156L1096 217M1050 225L1096 133L1141 159M1050 241L1096 133L1141 157M1050 232L1096 133L1141 111M1096 207L1141 100L1186 104M1096 211L1141 98L1186 114M1096 203L1141 99L1186 120M1186 143L1232 71M1186 107L1232 71M1186 149L1232 72M823 285L869 271M823 285L869 235M823 286L869 240M823 237L869 279L914 233M823 275L869 279L914 230M823 235L869 280L914 245M869 231L914 283L960 213M869 252L914 283L960 179M869 247L914 283L960 209M914 227L960 266L1005 245M914 247L960 265L1005 208M914 232L960 266L1005 204M960 212L1005 261L1050 264M960 214L1005 261L1050 214M960 203L1005 261L1050 229M1050 220L1096 264L1141 232M1050 215L1096 264L1141 211M1050 253L1096 265L1141 167M1096 204L1141 263L1186 165M1096 194L1141 262L1186 170M1096 197L1141 262L1186 171M1141 248L1186 174L1232 107M1141 260L1186 178L1232 107M1141 250L1186 175L1232 103M1186 74L1232 228M1186 72L1232 229M1186 77L1232 230" stroke="#71d5e0"/>
<path d="M823 154L869 235M823 153L869 202M823 154L869 218M823 233L869 162L914 208M823 238L869 162L914 175M823 238L869 162L914 249M869 183L914 161L960 184M869 227L914 160L960 131M869 228L914 159L960 185M914 174L960 128L1005 205M914 218L960 128L1005 192M914 235L960 128L1005 175M960 195L1005 139L1050 221M960 174L1005 137L1050 223M960 131L1005 139L1050 239M1005 226L1050 162L1096 201M1005 214L1050 160L1096 215M1005 158L1050 159L1096 193M1050 183L1096 135L1141 179M1050 238L1096 135L1141 156M1050 202L1096 135L1141 160M1096 201L1141 103L1186 140M1096 195L1141 103L1186 123M1096 200L1141 102L1186 148M1186 136L1232 72M1186 142L1232 72M1186 118L1232 72M823 285L869 230M823 285L869 270M823 285L869 256M823 237L869 279L914 249M823 242L869 279L914 230M823 273L869 277L914 243M869 266L914 283L960 219M869 235L914 283L960 193M869 233L914 283L960 250M914 242L960 262L1005 217M914 276L960 263L1005 204M914 274L960 262L1005 225M960 258L1005 259L1050 227M960 219L1005 259L1050 229M960 203L1005 259L1050 217M1050 218L1096 262L1141 213M1050 215L1096 263L1141 186M1050 216L1096 262L1141 204M1096 237L1141 262L1186 167M1096 258L1141 261L1186 168M1096 214L1141 262L1186 170M1141 253L1186 171L1232 107M1141 257L1186 173L1232 106M1141 254L1186 171L1232 106M1186 71L1232 227M1186 73L1232 226M1186 75L1232 225" stroke="#51acdd"/>
<path d="M823 160L846 197L869 167L891 200L914 168L937 177L960 129L982 165L1005 146L1028 186L1050 166L1073 182L1096 140L1118 152L1141 107L1146 108L1152 107L1157 106L1161 103L1168 95L1174 87L1178 78L1182 70L1184 64L1186 58L1187 62L1189 66L1190 72L1193 79L1195 85L1199 91L1201 94L1203 97L1206 100L1209 102L1232 74L1232 219L1212 146L1203 140L1194 150L1186 167L1141 257L1118 231L1096 259L1073 241L1050 267L1028 240L1005 257L982 237L960 259L937 249L914 281L891 258L869 275L846 258L823 283Z" fill="#3e7dd0" stroke="none"/>
<path d="M823 160L869 234M823 161L869 203M823 218L869 165L914 252M823 237L869 164L914 217M869 251L914 164L960 201M869 240L914 168L960 189M914 231L960 129L1005 211M914 216L960 129L1005 210M960 180L1005 146L1050 230M960 191L1005 142L1050 213M1005 208L1050 163L1096 152M1005 223L1050 164L1096 194M1050 236L1096 137L1141 137M1050 223L1096 140L1141 162M1096 174L1141 108L1186 127M1096 201L1141 107L1186 148M1186 127L1232 74M1186 101L1232 74M823 283L869 232M823 283L869 237M823 240L869 276L914 238M823 246L869 277L914 241M869 237L914 280L960 213M869 226L914 282L960 213M914 242L960 260L1005 234M914 241L960 261L1005 206M960 221L1005 256L1050 219M960 244L1005 259L1050 220M1005 213L1050 269L1096 218M1005 204L1050 269L1096 208M1050 215L1096 259L1141 192M1050 225L1096 261L1141 208M1096 208L1141 257L1186 167M1096 204L1141 259L1186 163M1141 243L1186 167L1232 102M1141 254L1186 166L1232 104M1186 73L1232 219M1186 73L1232 224" stroke="#3e7dd0"/>
<path d="M823 163L869 244M823 162L869 223M823 244L869 170L914 233M823 227L869 167L914 227M869 224L914 172L960 140M869 197L914 171L960 189M914 232L960 131L1005 205M914 237L960 130L1005 214M960 193L1005 147L1050 219M960 194L1005 149L1050 225M1005 212L1050 167L1096 147M1005 190L1050 166L1096 208M1050 229L1096 140L1141 172M1050 229L1096 141L1141 144M1096 195L1141 109L1186 127M1096 199L1141 107L1186 109M1186 105L1232 76M1186 133L1232 75M823 281L869 234M823 281L869 235M823 241L869 275L914 237M823 241L869 275L914 246M869 236L914 280L960 223M869 233L914 280L960 220M914 236L960 258L1005 217M914 233L960 260L1005 213M960 208L1005 256L1050 223M960 210L1005 255L1050 222M1005 211L1050 266L1096 252M1005 209L1050 266L1096 214M1050 256L1096 258L1141 199M1050 230L1096 259L1141 204M1096 214L1141 256L1186 164M1096 207L1141 255L1186 161M1141 245L1186 166L1232 104M1141 248L1186 165L1232 104M1186 71L1232 213M1186 71L1232 214" stroke="#3964c6"/>
<path d="M823 167L846 200L869 171L891 202L914 174L937 178L960 131L982 167L1005 152L1028 188L1050 170L1073 184L1096 145L1118 154L1141 111L1146 110L1152 109L1157 106L1161 103L1168 95L1174 87L1178 78L1182 70L1184 64L1186 58L1187 62L1189 66L1190 72L1193 79L1195 85L1199 91L1201 94L1203 97L1206 100L1209 102L1232 77L1232 211L1212 144L1203 137L1194 147L1186 164L1141 251L1118 229L1096 256L1073 240L1050 264L1028 239L1005 254L982 236L960 256L937 248L914 278L891 257L869 273L846 257L823 280Z" fill="#3b5dc3" stroke="none"/>
<path d="M823 164L869 213M823 165L869 236M823 243L869 172L914 224M823 232L869 169L914 246M869 233L914 172L960 178M869 204L914 171L960 195M914 228L960 131L1005 205M914 218L960 131L1005 213M960 179L1005 151L1050 236M960 186L1005 149L1050 212M1005 196L1050 169L1096 178M1005 215L1050 169L1096 206M1050 230L1096 147L1141 159M1050 233L1096 146L1141 165M1096 207L1141 110L1186 106M1096 189L1141 111L1186 148M1186 139L1232 76M1186 149L1232 76M823 280L869 229M823 281L869 227M823 237L869 274L914 235M823 241L869 274L914 238M869 271L914 279L960 247M869 240L914 279L960 212M914 237L960 257L1005 220M914 236L960 257L1005 217M960 218L1005 254L1050 223M960 216L1005 254L1050 219M1005 209L1050 265L1096 221M1005 238L1050 265L1096 218M1050 218L1096 257L1141 207M1050 254L1096 257L1141 183M1096 204L1141 254L1186 163M1096 205L1141 252L1186 159M1141 248L1186 164L1232 101M1141 250L1186 165L1232 99M1186 69L1232 211M1186 68L1232 213" stroke="#3b5dc3"/>
<path d="M823 169L869 247M823 170L869 243M823 227L869 171L914 246M823 240L869 172L914 229M869 219L914 179L960 176M869 235L914 177L960 150M914 222L960 132L1005 205M914 214L960 132L1005 203M960 180L1005 153L1050 227M960 187L1005 155L1050 226M1005 197L1050 172L1096 193M1005 200L1050 172L1096 207M1050 220L1096 146L1141 170M1050 216L1096 147L1141 163M1096 197L1141 112L1186 102M1096 190L1141 113L1186 133M1186 115L1232 78M1186 130L1232 77M823 279L869 234M823 280L869 232M823 243L869 272L914 241M823 243L869 272L914 240M869 234L914 277L960 221M869 230L914 278L960 211M914 236L960 256L1005 219M914 233L960 255L1005 216M960 217L1005 253L1050 228M960 219L1005 252L1050 218M1005 213L1050 263L1096 211M1005 217L1050 263L1096 219M1050 229L1096 257L1141 202M1050 225L1096 256L1141 197M1096 202L1141 250L1186 164M1096 201L1141 247L1186 163M1141 248L1186 163L1232 99M1141 243L1186 163L1232 101M1186 68L1232 208M1186 68L1232 206" stroke="#3e55c1"/>
<path d="M823 174L846 202L869 176L891 204L914 180L937 180L960 134L982 168L1005 157L1028 190L1050 174L1073 186L1096 150L1118 156L1141 114L1146 112L1152 110L1157 107L1161 103L1168 95L1174 87L1178 78L1182 70L1184 64L1186 58L1187 62L1189 66L1190 72L1193 79L1195 85L1199 91L1201 94L1203 97L1206 100L1209 102L1232 79L1232 204L1212 141L1203 135L1194 145L1186 162L1141 245L1118 228L1096 254L1073 239L1050 261L1028 238L1005 252L982 235L960 254L937 247L914 276L891 256L869 271L846 256L823 277Z" fill="#5654c6" stroke="none"/>
<path d="M823 172L869 203M823 173L869 240M823 231L869 176L914 236M823 237L869 176L914 221M869 232L914 180L960 185M869 234L914 180L960 183M914 227L960 133L1005 201M914 198L960 134L1005 201M960 186L1005 156L1050 232M960 176L1005 156L1050 227M1005 216L1050 173L1096 191M1005 218L1050 173L1096 201M1050 229L1096 150L1141 162M1050 215L1096 148L1141 172M1096 197L1141 114L1186 131M1096 186L1141 114L1186 107M1186 144L1232 78M1186 115L1232 79M823 278L869 235M823 277L869 235M823 239L869 271L914 238M823 242L869 271L914 225M869 235L914 276L960 200M869 240L914 276L960 216M914 234L960 254L1005 211M914 275L960 254L1005 220M960 206L1005 252L1050 218M960 216L1005 252L1050 238M1005 215L1050 261L1096 221M1005 218L1050 262L1096 219M1050 229L1096 254L1141 198M1050 227L1096 255L1141 199M1096 214L1141 247L1186 158M1096 236L1141 245L1186 161M1141 244L1186 161L1232 99M1141 242L1186 162L1232 100M1186 67L1232 205M1186 66L1232 205" stroke="#5654c6"/>
<path d="M823 175L869 231M823 179L869 237M823 223L869 177L914 226M823 225L869 179L914 237M869 234L914 182L960 178M869 238L914 183L960 184M914 235L960 134L1005 210M914 187L960 134L1005 207M960 179L1005 159L1050 217M960 176L1005 161L1050 217M1005 204L1050 175L1096 205M1005 202L1050 176L1096 195M1050 223L1096 152L1141 161M1050 227L1096 152L1141 156M1096 205L1141 115L1186 147M1096 202L1141 117L1186 138M1186 118L1232 81M1186 118L1232 81M823 276L869 238M823 276L869 235M823 238L869 270L914 241M823 244L869 270L914 242M869 235L914 275L960 218M869 232L914 274L960 218M914 239L960 253L1005 211M914 237L960 253L1005 213M960 219L1005 251L1050 224M960 214L1005 250L1050 224M1005 216L1050 260L1096 197M1005 218L1050 260L1096 228M1050 228L1096 253L1141 208M1050 225L1096 253L1141 200M1096 215L1141 243L1186 161M1096 210L1141 244L1186 160M1141 242L1186 160L1232 96M1141 236L1186 160L1232 98M1186 66L1232 200M1186 67L1232 201" stroke="#7354cc"/>
<path d="M823 181L846 204L869 180L891 206L914 186L937 182L960 136L982 170L1005 163L1028 192L1050 177L1073 187L1096 155L1118 157L1141 118L1146 115L1152 111L1157 108L1161 104L1168 95L1174 87L1178 78L1182 70L1184 64L1186 58L1187 62L1189 66L1190 72L1193 79L1195 85L1199 91L1201 94L1203 97L1206 100L1209 102L1232 82L1232 196L1212 139L1203 133L1194 142L1186 159L1141 240L1118 226L1096 251L1073 238L1050 258L1028 237L1005 249L982 234L960 251L937 246L914 273L891 255L869 269L846 255L823 274Z" fill="#9454cf" stroke="none"/>
<path d="M823 181L869 228M823 181L869 191M823 226L869 180L914 229M823 238L869 180L914 230M869 223L914 187L960 182M869 182L914 187L960 156M914 228L960 135L1005 203M914 223L960 135L1005 206M960 176L1005 163L1050 215M960 183L1005 162L1050 218M1005 194L1050 176L1096 200M1005 202L1050 177L1096 201M1050 215L1096 156L1141 188M1050 224L1096 153L1141 118M1096 195L1141 118L1186 109M1096 167L1141 118L1186 140M1186 140L1232 82M1186 116L1232 81M823 275L869 250M823 275L869 270M823 239L869 269L914 239M823 242L869 270L914 232M869 238L914 274L960 216M869 220L914 273L960 215M914 239L960 252L1005 217M914 241L960 252L1005 246M960 221L1005 249L1050 223M960 218L1005 250L1050 223M1005 211L1050 259L1096 216M1005 218L1050 258L1096 219M1050 255L1096 251L1141 200M1050 222L1096 251L1141 198M1096 216L1141 239L1186 157M1096 208L1141 240L1186 158M1141 235L1186 159L1232 97M1141 232L1186 159L1232 97M1186 65L1232 198M1186 63L1232 195" stroke="#9454cf"/>
<path d="M823 185L869 232M823 222L869 181L914 239M869 223L914 189L960 174M914 227L960 137L1005 203M960 173L1005 167L1050 224M1005 210L1050 179L1096 195M1050 218L1096 157L1141 165M1096 198L1141 118L1186 133M1186 126L1232 82M823 273L869 236M823 239L869 268L914 242M869 234L914 273L960 219M914 243L960 250L1005 217M960 217L1005 248L1050 226M1005 212L1050 258L1096 218M1050 226L1096 250L1141 202M1096 214L1141 236L1186 158M1141 230L1186 158L1232 95M1186 63L1232 192" stroke="#b64ec5"/>
<path d="M823 188L846 207L869 185L891 208L914 193L937 184L960 138L982 172L1005 169L1028 194L1050 181L1073 189L1096 160L1118 159L1141 121L1146 117L1152 112L1157 108L1161 104L1168 95L1174 87L1178 78L1182 70L1184 64L1186 58L1187 62L1189 66L1190 72L1193 79L1195 85L1199 91L1201 94L1203 97L1206 100L1209 102L1232 84L1232 189L1212 137L1203 131L1194 140L1186 157L1141 234L1118 224L1096 249L1073 237L1050 255L1028 236L1005 246L982 233L960 249L937 245L914 271L891 254L869 267L846 254L823 271Z" fill="#d745b2" stroke="none"/>
<path d="M823 187L869 227M823 224L869 184L914 236M869 222L914 194L960 174M914 234L960 137L1005 210M960 176L1005 169L1050 219M1005 208L1050 182L1096 197M1050 222L1096 160L1141 158M1096 197L1141 120L1186 119M1186 130L1232 84M823 271L869 236M823 244L869 267L914 241M869 236L914 271L960 216M914 239L960 249L1005 217M960 220L1005 246L1050 225M1005 218L1050 256L1096 219M1050 222L1096 249L1141 201M1096 218L1141 234L1186 155M1141 234L1186 157L1232 94M1186 61L1232 189" stroke="#d745b2"/>
<path d="M823 192L846 208L869 187L891 209L914 196L937 184L960 139L982 172L1005 172L1028 195L1050 183L1073 190L1096 163L1118 160L1141 123L1146 118L1152 113L1157 109L1161 104L1168 95L1174 87L1178 78L1182 70L1184 64L1186 58L1187 62L1189 66L1190 72L1193 79L1195 85L1199 91L1201 94L1203 97L1206 100L1209 102L1232 86L1232 185L1212 136L1203 130L1194 139L1186 155L1141 231L1118 224L1096 247L1073 236L1050 254L1028 235L1005 245L982 232L960 247L937 244L914 269L891 254L869 266L846 254L823 270Z" fill="#e43896" stroke="none"/>
<path d="M823 193L869 221M823 226L869 187L914 231M869 225L914 196L960 176M914 230L960 139L1005 203M960 173L1005 172L1050 221M1005 204L1050 182L1096 196M1050 220L1096 163L1141 154M1096 199L1141 123L1186 131M1186 132L1232 86M823 270L869 238M823 241L869 266L914 241M869 239L914 270L960 218M914 240L960 248L1005 216M960 218L1005 245L1050 223M1005 218L1050 254L1096 217M1050 224L1096 248L1141 198M1096 214L1141 232L1186 156M1141 230L1186 155L1232 92M1186 61L1232 186" stroke="#e43896"/>
<path d="M823 196L846 209L869 190L891 210L914 199L937 185L960 140L982 173L1005 175L1028 196L1050 185L1073 191L1096 165L1118 161L1141 125L1146 119L1152 114L1157 109L1161 104L1168 95L1174 87L1178 78L1182 70L1184 64L1186 58L1187 62L1189 66L1190 72L1193 79L1195 85L1199 91L1201 94L1203 97L1206 100L1209 102L1232 87L1232 181L1212 135L1203 129L1194 138L1186 154L1141 228L1118 223L1096 246L1073 236L1050 252L1028 235L1005 244L982 232L960 246L937 244L914 268L891 253L869 265L846 253L823 268Z" fill="#ea3279" stroke="none"/>
<path d="M823 197L869 222M823 231L869 189L914 230M869 224L914 198L960 173M914 229L960 140L1005 207M960 172L1005 174L1050 217M1005 205L1050 185L1096 197M1050 219L1096 164L1141 159M1096 195L1141 124L1186 131M1186 112L1232 87M823 268L869 237M823 242L869 265L914 242M869 238L914 269L960 220M914 240L960 246L1005 217M960 219L1005 244L1050 226M1005 216L1050 253L1096 218M1050 224L1096 246L1141 200M1096 215L1141 229L1186 153M1141 226L1186 154L1232 90M1186 59L1232 181" stroke="#ea3279"/>
<path d="M823 199L846 210L869 192L891 212L914 202L937 186L960 141L982 174L1005 178L1028 197L1050 187L1073 192L1096 168L1118 161L1141 127L1146 121L1152 114L1157 109L1161 104L1168 95L1174 87L1178 78L1182 70L1184 64L1186 58L1187 62L1189 66L1190 72L1193 79L1195 85L1199 91L1201 94L1203 97L1206 100L1209 102L1232 88L1232 177L1212 133L1203 128L1194 136L1186 153L1141 225L1118 222L1096 245L1073 235L1050 251L1028 234L1005 243L982 231L960 245L937 243L914 267L891 253L869 264L846 253L823 267Z" fill="#eb305b" stroke="none"/>
<path d="M823 197L869 222M823 229L869 192L914 231M869 222L914 201L960 170M914 231L960 141L1005 208M960 171L1005 178L1050 216M1005 207L1050 187L1096 197M1050 216L1096 167L1141 157M1096 197L1141 126L1186 103M1186 106L1232 88M823 268L869 237M823 242L869 264L914 242M869 239L914 267L960 219M914 242L960 245L1005 218M960 220L1005 242L1050 226M1005 217L1050 251L1096 219M1050 225L1096 244L1141 199M1096 217L1141 227L1186 153M1141 225L1186 153L1232 90M1186 58L1232 176" stroke="#eb305b"/>
<polygon points="823.4,201.7 846.1,211.1 868.8,193.5 891.5,212.3 914.1,204.1 936.8,186.7 959.5,142.3 982.2,174.6 1004.9,179.9 1027.5,197.6 1050.2,188.2 1072.9,192.3 1095.6,169.3 1118.3,162.1 1141,127.8 1146.4,121.5 1152.3,114.6 1156.8,109.3 1161.4,103.8 1168.2,94.9 1173.6,86.6 1178.2,78.2 1181.8,70.2 1184.1,64.3 1186.3,57.7 1187.5,62.2 1188.6,66.4 1190.4,72.3 1192.7,78.7 1195.4,84.9 1198.8,91 1201.1,94.1 1203.3,96.8 1206.3,99.7 1209,102.2 1231.7,89.1 1231.7,174.6 1211.7,132.6 1203.1,126.8 1194,135.5 1186.3,151.9 1141,222.9 1118.3,221.2 1095.6,243.7 1072.9,234.8 1050.2,250 1027.5,233.8 1004.9,241.8 982.2,230.7 959.5,243.7 936.8,242.7 914.1,265.9 891.5,252.4 868.8,263 846.1,252.4 823.4,265.9" fill="#e8313f" stroke="#e8313f" stroke-width="1.5"/>
</g>
<g stroke="#000" stroke-width="2.1" fill="none" stroke-linecap="square">
<path d="M807 50.5V292"/>
<path d="M794.5 50.5H807"/>
<path d="M794.5 98.8H807"/>
<path d="M794.5 147.1H807"/>
<path d="M794.5 195.4H807"/>
<path d="M794.5 243.7H807"/>
<path d="M794.5 292H807"/>
<path d="M823.4 308.7H1231.7"/>
<path d="M823.4 308.7V321.7"/>
<path d="M868.8 308.7V321.7"/>
<path d="M914.1 308.7V321.7"/>
<path d="M959.5 308.7V321.7"/>
<path d="M1004.9 308.7V321.7"/>
<path d="M1050.2 308.7V321.7"/>
<path d="M1095.6 308.7V321.7"/>
<path d="M1141 308.7V321.7"/>
<path d="M1186.3 308.7V321.7"/>
<path d="M1231.7 308.7V321.7"/>
</g>
<text transform="translate(784.5 50.5) rotate(-90)" text-anchor="middle" font-size="18.5">3</text>
<text transform="translate(784.5 98.8) rotate(-90)" text-anchor="middle" font-size="18.5">2</text>
<text transform="translate(784.5 147.1) rotate(-90)" text-anchor="middle" font-size="18.5">1</text>
<text transform="translate(784.5 195.4) rotate(-90)" text-anchor="middle" font-size="18.5">0</text>
<text transform="translate(784.5 247.7) rotate(-90)" text-anchor="middle" font-size="18.5">−1</text>
<text transform="translate(784.5 296) rotate(-90)" text-anchor="middle" font-size="18.5">−2</text>
<text transform="translate(749 163) rotate(-90)" text-anchor="middle" font-size="19.4">Expression changes</text>
<text x="1022" y="29" text-anchor="middle" font-size="25">Cluster 2</text>
<text transform="translate(825.5 331.5) rotate(-30)" text-anchor="end" font-size="19.3" stroke="#000" stroke-width="0.35">Rumen</text>
<text transform="translate(874.7 331.5) rotate(-30)" text-anchor="end" font-size="19.3">Reticulum</text>
<text transform="translate(922.9 331.5) rotate(-30)" text-anchor="end" font-size="19.3">Omasum</text>
<text transform="translate(968 331.5) rotate(-30)" text-anchor="end" font-size="19.3" stroke="#000" stroke-width="0.35">Abomasum</text>
<text transform="translate(1013.9 331.5) rotate(-30)" text-anchor="end" font-size="19.3">Duodenum</text>
<text transform="translate(1054.7 331.5) rotate(-30)" text-anchor="end" font-size="19.3">Jejunum</text>
<text transform="translate(1103.5 331.5) rotate(-30)" text-anchor="end" font-size="19.3" stroke="#000" stroke-width="0.35">Ileum</text>
<text transform="translate(1149.2 331.5) rotate(-30)" text-anchor="end" font-size="19.3">Cecum</text>
<text transform="translate(1195.1 331.5) rotate(-30)" text-anchor="end" font-size="19.3" stroke="#000" stroke-width="0.35">Colon</text>
<text transform="translate(1238.4 331.5) rotate(-30)" text-anchor="end" font-size="19.3">Rectumi</text>
</g>
<g id="bar2">
<rect x="909.5" y="443.9" width="160.6" height="18" fill="#c8475f"/>
<rect x="909.5" y="470.1" width="174.3" height="18" fill="#4a71b5"/>
<rect x="909.5" y="496" width="194.7" height="18" fill="#c8475f"/>
<rect x="909.5" y="522.2" width="247.2" height="18" fill="#4a71b5"/>
<rect x="909.5" y="548" width="322.8" height="18" fill="#4a71b5"/>
<rect x="909.5" y="573.9" width="322.8" height="18" fill="#4a71b5"/>
<rect x="909.5" y="600.2" width="333.7" height="18" fill="#4a71b5"/>
<rect x="909.5" y="626" width="333.7" height="18" fill="#4a71b5"/>
<rect x="909.5" y="652.2" width="361.2" height="18" fill="#4a71b5"/>
<polyline points="1085.8,452.9 949.4,479.1 1077.9,505 987.8,531.2 1049.7,557 1049.7,582.9 1087.7,609.2 1112,635 1063.8,661.2" fill="none" stroke="#f0b26e" stroke-width="2.8" stroke-linejoin="round"/>
<circle cx="1085.8" cy="452.9" r="4.4" fill="#f0b26e"/>
<circle cx="949.4" cy="479.1" r="4.4" fill="#f0b26e"/>
<circle cx="1077.9" cy="505" r="4.4" fill="#f0b26e"/>
<circle cx="987.8" cy="531.2" r="4.4" fill="#f0b26e"/>
<circle cx="1049.7" cy="557" r="4.4" fill="#f0b26e"/>
<circle cx="1049.7" cy="582.9" r="4.4" fill="#f0b26e"/>
<circle cx="1087.7" cy="609.2" r="4.4" fill="#f0b26e"/>
<circle cx="1112" cy="635" r="4.4" fill="#f0b26e"/>
<circle cx="1063.8" cy="661.2" r="4.4" fill="#f0b26e"/>
<g stroke="#111" stroke-width="1.5" fill="none">
<path d="M909.5 443V670.3"/>
<path d="M909.5 443H1270.7"/>
<path d="M909.5 670.3H1270.7"/>
<path d="M906 452.9H909.5"/>
<path d="M906 479.1H909.5"/>
<path d="M906 505H909.5"/>
<path d="M906 531.2H909.5"/>
<path d="M906 557H909.5"/>
<path d="M906 582.9H909.5"/>
<path d="M906 609.2H909.5"/>
<path d="M906 635H909.5"/>
<path d="M906 661.2H909.5"/>
<path d="M909.5 439.5V443"/>
<path d="M999.6 439.5V443"/>
<path d="M1090.1 439.5V443"/>
<path d="M1180.6 439.5V443"/>
<path d="M1270.7 439.5V443"/>
<path d="M909.5 670.3V673.8"/>
<path d="M999.6 670.3V673.8"/>
<path d="M1090.1 670.3V673.8"/>
<path d="M1180.6 670.3V673.8"/>
<path d="M1270.7 670.3V673.8"/>
</g>
<g font-size="16" fill="#1a1a1a">
<text x="903.5" y="457.6" text-anchor="end">Synaptic membrane</text>
<text x="903.5" y="483.8" text-anchor="end">O−glycan processing</text>
<text x="903.5" y="509.7" text-anchor="end">Golgi apparatus subcompartment</text>
<text x="903.5" y="535.9" text-anchor="end">Protein o−linked glycosylation</text>
<text x="903.5" y="561.7" text-anchor="end">Macromolecule glycosylation</text>
<text x="903.5" y="587.6" text-anchor="end">Protein glycosylation</text>
<text x="903.5" y="613.9" text-anchor="end">Glycoprotein biosynthetic process</text>
<text x="903.5" y="639.7" text-anchor="end">Glycoprotein metabolic process</text>
<text x="903.5" y="665.9" text-anchor="end">Glycosylation</text>
<text x="909.5" y="438.5" text-anchor="middle">0</text>
<text x="999.6" y="438.5" text-anchor="middle">25</text>
<text x="1090.1" y="438.5" text-anchor="middle">50</text>
<text x="1180.6" y="438.5" text-anchor="middle">75</text>
<text x="1270.7" y="438.5" text-anchor="middle">100</text>
<text x="909.5" y="689.3" text-anchor="middle">0</text>
<text x="999.6" y="689.3" text-anchor="middle">5</text>
<text x="1090.1" y="689.3" text-anchor="middle">10</text>
<text x="1180.6" y="689.3" text-anchor="middle">15</text>
<text x="1270.7" y="689.3" text-anchor="middle">20</text>
<text x="1186.4" y="465.2">ONTOLOGY</text>
<rect x="1211.1" y="473.2" width="16.5" height="15.7" fill="#4a71b5"/>
<text x="1234.2" y="486.8">BP</text>
<rect x="1211.1" y="492.4" width="16.5" height="15.7" fill="#c8475f"/>
<text x="1234.2" y="505.9">CC</text>
<text x="1088.5" y="714.5" text-anchor="middle">−log<tspan font-size="9" dy="4">10</tspan><tspan dy="-4" font-style="italic">P</tspan></text>
</g>
<text x="1067.8" y="409.5" text-anchor="middle" font-size="19" fill="#111">Gene count</text>
</g>
<g id="line3">
<clipPath id="c3"><rect x="1446.2" y="33.8" width="409.9" height="281.2"/></clipPath>
<g clip-path="url(#c3)" fill="none" stroke-width="1.6" stroke-linejoin="round">
<path d="M1447 143L1492 128M1447 140L1492 116M1447 142L1492 132M1447 181L1492 115L1538 235M1492 205L1538 129L1583 261M1492 217L1538 131L1583 223M1492 187L1538 131L1583 226M1538 229L1583 135L1628 201M1538 254L1583 133L1628 186M1538 210L1583 136L1628 200M1583 229L1628 121L1674 189M1583 220L1628 121L1674 172M1628 204L1674 90L1719 134M1628 196L1674 89L1719 161M1674 191L1719 84L1765 148M1674 175L1719 85L1765 131M1674 172L1719 84L1765 134M1719 136L1765 59L1810 148M1719 149L1765 58L1810 166M1765 131L1810 96L1855 114M1765 141L1810 96L1855 107M1765 155L1810 96L1855 95M1810 141L1855 65M1810 128L1855 66M1447 285L1492 200M1447 285L1492 199M1447 235L1492 255L1538 225M1447 227L1492 254L1538 216M1538 267L1583 299L1628 194M1583 280L1628 262L1674 184M1583 276L1628 261L1674 191M1628 198L1674 247L1719 136M1628 199L1674 248L1719 134M1628 196L1674 247L1719 160M1674 216L1719 220L1765 138M1719 134L1765 253L1810 165M1719 122L1765 255L1810 125M1719 122L1765 255L1810 171M1765 193L1810 239L1855 93M1765 159L1810 237L1855 146M1765 146L1810 239L1855 134M1810 120L1855 238M1810 149L1855 240" stroke="#e6e02c"/>
<path d="M1447 144L1492 119M1447 147L1492 133M1447 169L1492 117L1538 218M1492 138L1538 133L1583 239M1538 223L1583 137L1628 218M1538 201L1583 136L1628 185M1583 254L1628 123L1674 145M1583 174L1628 124L1674 180M1583 206L1628 124L1674 165M1628 210L1674 95L1719 147M1628 189L1674 96L1719 158M1674 162L1719 86L1765 143M1674 171L1719 86L1765 125M1674 183L1719 85L1765 98M1719 166L1765 61L1810 156M1719 151L1765 61L1810 166M1765 154L1810 97L1855 113M1765 124L1810 97L1855 88M1810 156L1855 66M1810 143L1855 66M1447 284L1492 190M1447 255L1492 253L1538 227M1447 228L1492 253L1538 229M1538 222L1583 298L1628 236M1583 273L1628 261L1674 182M1583 238L1628 260L1674 220M1583 284L1628 259L1674 180M1628 197L1674 245L1719 129M1628 235L1674 245L1719 123M1628 204L1674 246L1719 159M1674 183L1719 217L1765 165M1674 198L1719 217L1765 156M1719 148L1765 251L1810 121M1765 154L1810 235L1855 93M1810 139L1855 233M1810 120L1855 234" stroke="#c4dd22"/>
<path d="M1447 150L1492 122M1447 151L1492 125M1447 175L1492 119L1538 232M1447 188L1492 119L1538 216M1447 182L1492 119L1538 231M1492 176L1538 137L1583 261M1492 193L1538 139L1583 261M1538 184L1583 140L1628 176M1538 238L1583 140L1628 223M1583 219L1628 127L1674 148M1583 180L1628 126L1674 190M1628 164L1674 99L1719 157M1628 182L1674 97L1719 166M1674 165L1719 86L1765 119M1674 197L1719 87L1765 150M1719 166L1765 64L1810 166M1765 144L1810 97L1855 104M1765 141L1810 97L1855 103M1765 146L1810 97L1855 119M1810 144L1855 67M1810 134L1855 67M1810 129L1855 67M1447 283L1492 206M1447 283L1492 178M1447 283L1492 197M1447 221L1492 252L1538 225M1447 230L1492 252L1538 228M1447 230L1492 252L1538 225M1538 229L1583 297L1628 219M1538 231L1583 297L1628 188M1538 223L1583 297L1628 232M1583 239L1628 257L1674 186M1628 180L1674 244L1719 154M1674 171L1719 215L1765 157M1674 176L1719 214L1765 143M1674 172L1719 214L1765 196M1719 122L1765 245L1810 143M1719 131L1765 246L1810 155M1765 164L1810 232L1855 93M1765 170L1810 231L1855 125M1810 136L1855 228M1810 120L1855 227" stroke="#a3d31e"/>
<path d="M1447 152L1492 126M1447 153L1492 122M1447 153L1492 120L1538 246M1447 178L1492 121L1538 242M1492 202L1538 142L1583 261M1538 218L1583 143L1628 208M1538 237L1583 143L1628 160M1538 217L1583 142L1628 221M1583 234L1628 129L1674 174M1583 228L1628 128L1674 194M1628 194L1674 104L1719 155M1674 183L1719 87L1765 150M1674 170L1719 88L1765 129M1674 162L1719 88L1765 135M1719 166L1765 67L1810 166M1719 137L1765 66L1810 106M1765 121L1810 98L1855 114M1810 139L1855 68M1447 282L1492 187M1447 282L1492 204M1447 268L1492 250L1538 245M1538 273L1583 295L1628 223M1538 230L1583 296L1628 192M1583 231L1628 256L1674 178M1583 232L1628 255L1674 179M1628 233L1674 241L1719 139M1628 233L1674 241L1719 151M1628 203L1674 241L1719 140M1674 179L1719 212L1765 135M1674 212L1719 212L1765 154M1719 122L1765 240L1810 160M1719 122L1765 239L1810 134M1719 149L1765 240L1810 150M1765 151L1810 228L1855 133M1765 136L1810 230L1855 130M1765 146L1810 230L1855 134M1810 150L1855 223M1810 149L1855 218" stroke="#82c81c"/>
<path d="M1447 157L1492 134M1447 158L1492 128M1447 183L1492 123L1538 242M1447 175L1492 123L1538 218M1492 212L1538 147L1583 219M1492 140L1538 146L1583 261M1492 214L1538 147L1583 261M1538 233L1583 147L1628 222M1538 243L1583 144L1628 204M1538 249L1583 145L1628 154M1583 240L1628 130L1674 146M1583 224L1628 130L1674 188M1628 154L1674 109L1719 113M1674 179L1719 89L1765 160M1674 185L1719 88L1765 140M1719 163L1765 69L1810 151M1719 146L1765 70L1810 154M1719 146L1765 67L1810 155M1765 100L1810 98L1855 82M1765 129L1810 98L1855 113M1765 129L1810 98L1855 82M1810 133L1855 69M1810 139L1855 69M1447 281L1492 237M1447 231L1492 249L1538 235M1538 224L1583 295L1628 233M1583 244L1628 253L1674 179M1583 248L1628 254L1674 183M1628 197L1674 240L1719 136M1628 196L1674 240L1719 181M1628 205L1674 240L1719 143M1674 175L1719 210L1765 132M1674 179L1719 209L1765 142M1719 179L1765 237L1810 146M1719 178L1765 236L1810 143M1765 193L1810 228L1855 122M1765 121L1810 228L1855 124M1810 120L1855 212M1810 163L1855 215M1810 120L1855 217" stroke="#82ca24"/>
<path d="M1447 162L1492 125M1447 159L1492 124M1447 161L1492 125M1447 186L1492 123L1538 215M1447 163L1492 124L1538 230M1492 217L1538 149L1583 189M1492 186L1538 151L1583 259M1538 231L1583 147L1628 157M1538 244L1583 148L1628 157M1538 227L1583 147L1628 202M1583 218L1628 134L1674 204M1583 177L1628 133L1674 197M1628 199L1674 113L1719 142M1628 207L1674 111L1719 102M1628 210L1674 111L1719 142M1674 147L1719 89L1765 141M1674 189L1719 90L1765 130M1674 180L1719 89L1765 137M1719 122L1765 70L1810 134M1765 106L1810 98L1855 115M1765 118L1810 98L1855 124M1765 108L1810 98L1855 110M1810 137L1855 70M1810 105L1855 70M1447 280L1492 193M1447 280L1492 189M1447 280L1492 188M1447 227L1492 248L1538 226M1538 265L1583 294L1628 205M1538 220L1583 294L1628 198M1538 221L1583 294L1628 225M1583 283L1628 251L1674 180M1583 250L1628 253L1674 177M1583 283L1628 251L1674 179M1628 203L1674 237L1719 146M1628 196L1674 237L1719 151M1628 229L1674 239L1719 130M1674 221L1719 208L1765 132M1674 217L1719 207L1765 165M1719 122L1765 231L1810 165M1765 132L1810 223L1855 98M1810 162L1855 207M1810 149L1855 210M1810 188L1855 209" stroke="#81cc2c"/>
<path d="M1447 165L1492 125L1515 176L1538 154L1560 195L1583 151L1606 180L1628 136L1651 160L1674 116L1697 135L1719 90L1742 113L1765 73L1787 113L1810 99L1833 105L1855 71L1855 203L1833 167L1810 221L1787 184L1765 229L1742 181L1719 205L1697 191L1674 236L1651 217L1628 250L1606 246L1583 293L1560 260L1538 276L1515 238L1492 247L1470 238L1447 279Z" fill="#81ce33" stroke="none"/>
<path d="M1447 167L1492 135M1447 164L1492 135M1447 194L1492 125L1538 242M1492 217L1538 154L1583 229M1492 217L1538 153L1583 242M1492 169L1538 155L1583 232M1538 254L1583 151L1628 159M1538 183L1583 151L1628 217M1538 217L1583 151L1628 223M1583 237L1628 136L1674 186M1583 243L1628 136L1674 181M1628 160L1674 117L1719 166M1628 190L1674 118L1719 122M1674 184L1719 90L1765 127M1674 192L1719 90L1765 130M1719 166L1765 72L1810 154M1719 146L1765 73L1810 150M1719 133L1765 73L1810 120M1765 139L1810 99L1855 106M1765 105L1810 99L1855 117M1765 100L1810 99L1855 91M1810 145L1855 71M1447 278L1492 229M1447 279L1492 197M1447 254L1492 247L1538 223M1447 224L1492 247L1538 226M1447 230L1492 247L1538 235M1538 231L1583 293L1628 236M1538 236L1583 292L1628 200M1583 243L1628 251L1674 190M1583 281L1628 250L1674 179M1583 246L1628 249L1674 214M1628 190L1674 236L1719 133M1628 237L1674 236L1719 140M1674 175L1719 206L1765 161M1674 181L1719 205L1765 165M1674 186L1719 205L1765 148M1719 143L1765 228L1810 151M1719 133L1765 229L1810 120M1765 201L1810 220L1855 129M1810 146L1855 202M1810 157L1855 206M1810 120L1855 202" stroke="#81ce33"/>
<path d="M1447 170L1492 137M1447 178L1492 127L1538 227M1447 173L1492 127L1538 242M1492 139L1538 156L1583 228M1538 235L1583 152L1628 197M1538 204L1583 154L1628 223M1583 211L1628 138L1674 187M1583 215L1628 138L1674 196M1583 242L1628 138L1674 147M1628 172L1674 120L1719 127M1628 188L1674 121L1719 104M1674 175L1719 91L1765 135M1719 150L1765 76L1810 122M1765 141L1810 99L1855 101M1765 135L1810 99L1855 79M1810 107L1855 71M1447 278L1492 197M1447 278L1492 204M1447 278L1492 202M1447 225L1492 245L1538 265M1447 233L1492 245L1538 229M1447 227L1492 245L1538 234M1538 223L1583 292L1628 194M1538 249L1583 291L1628 197M1538 229L1583 292L1628 199M1583 245L1628 247L1674 191M1628 187L1674 235L1719 136M1674 183L1719 202L1765 192M1674 213L1719 202L1765 157M1719 150L1765 225L1810 127M1719 141L1765 224L1810 161M1719 155L1765 223L1810 123M1765 199L1810 218L1855 118M1765 153L1810 218L1855 100M1765 159L1810 218L1855 103M1810 123L1855 196" stroke="#80d03b"/>
<path d="M1447 173L1492 128L1515 178L1538 161L1560 198L1583 156L1606 182L1628 140L1651 163L1674 125L1697 137L1719 92L1742 114L1765 78L1787 115L1810 99L1833 105L1855 72L1855 192L1833 163L1810 215L1787 181L1765 220L1742 178L1719 200L1697 189L1674 233L1651 215L1628 246L1606 245L1583 291L1560 260L1538 276L1515 238L1492 244L1470 237L1447 277Z" fill="#7fd984" stroke="none"/>
<path d="M1447 173L1492 133M1447 171L1492 134M1447 179L1492 129L1538 187M1447 194L1492 128L1538 229M1447 195L1492 128L1538 237M1492 213L1538 162L1583 254M1492 139L1538 162L1583 218M1538 202L1583 155L1628 207M1538 229L1583 156L1628 157M1583 214L1628 141L1674 164M1628 209L1674 126L1719 153M1719 152L1765 79L1810 147M1719 112L1765 79L1810 134M1765 158L1810 100L1855 113M1765 127L1810 99L1855 84M1810 142L1855 72M1447 277L1492 201M1447 277L1492 233M1447 277L1492 191M1447 233L1492 245L1538 232M1447 234L1492 244L1538 237M1447 234L1492 244L1538 251M1538 226L1583 290L1628 204M1583 242L1628 245L1674 220M1583 273L1628 246L1674 183M1583 262L1628 247L1674 191M1628 198L1674 232L1719 185M1628 199L1674 232L1719 186M1628 200L1674 232L1719 135M1674 180L1719 200L1765 161M1719 188L1765 220L1810 148M1719 176L1765 220L1810 197M1719 128L1765 220L1810 187M1765 140L1810 217L1855 147M1765 162L1810 214L1855 109M1810 167L1855 190M1810 147L1855 189" stroke="#7fd984"/>
<path d="M1447 177L1492 141M1447 177L1492 139M1447 177L1492 131M1447 188L1492 130L1538 245M1447 183L1492 131L1538 190M1447 195L1492 130L1538 217M1492 166L1538 163L1583 248M1492 190L1538 165L1583 218M1492 186L1538 166L1583 251M1538 197L1583 160L1628 206M1538 240L1583 158L1628 216M1538 188L1583 160L1628 205M1583 172L1628 143L1674 191M1583 234L1628 143L1674 190M1583 235L1628 142L1674 196M1628 213L1674 131L1719 148M1628 191L1674 132L1719 108M1628 181L1674 131L1719 143M1674 176L1719 93L1765 130M1674 186L1719 93L1765 128M1674 188L1719 94L1765 131M1719 99L1765 81L1810 119M1719 142L1765 80L1810 124M1719 149L1765 81L1810 155M1765 160L1810 100L1855 115M1765 131L1810 100L1855 111M1765 136L1810 100L1855 114M1810 141L1855 73M1810 140L1855 73M1810 141L1855 73M1447 276L1492 219M1447 276L1492 190M1447 276L1492 198M1447 263L1492 242L1538 229M1447 266L1492 243L1538 228M1447 247L1492 243L1538 227M1538 226L1583 289L1628 235M1538 235L1583 289L1628 196M1538 224L1583 290L1628 193M1583 247L1628 244L1674 218M1583 249L1628 243L1674 181M1583 244L1628 243L1674 180M1628 234L1674 231L1719 137M1628 204L1674 231L1719 140M1628 195L1674 230L1719 147M1674 167L1719 199L1765 151M1674 220L1719 198L1765 169M1674 166L1719 198L1765 161M1719 132L1765 218L1810 155M1719 143L1765 215L1810 129M1719 125L1765 215L1810 155M1765 153L1810 212L1855 117M1765 150L1810 214L1855 123M1765 137L1810 213L1855 131M1810 128L1855 184M1810 128L1855 184M1810 120L1855 189" stroke="#7bddc4"/>
<path d="M1447 181L1492 132L1515 180L1538 169L1560 201L1583 162L1606 184L1628 145L1651 166L1674 134L1697 139L1719 94L1742 115L1765 83L1787 116L1810 100L1833 106L1855 74L1855 180L1833 160L1810 210L1787 179L1765 212L1742 175L1719 196L1697 187L1674 229L1651 214L1628 242L1606 244L1583 288L1560 260L1538 276L1515 237L1492 242L1470 236L1447 275Z" fill="#71d5e0" stroke="none"/>
<path d="M1447 182L1492 137M1447 181L1492 139M1447 180L1492 137M1447 195L1492 131L1538 246M1447 199L1492 132L1538 231M1447 180L1492 131L1538 210M1492 194L1538 168L1583 245M1492 182L1538 170L1583 207M1492 204L1538 170L1583 249M1538 228L1583 162L1628 216M1538 235L1583 161L1628 167M1538 232L1583 162L1628 172M1583 234L1628 145L1674 186M1583 245L1628 145L1674 186M1583 193L1628 145L1674 155M1628 192L1674 132L1719 132M1628 160L1674 133L1719 103M1628 196L1674 133L1719 140M1674 176L1719 94L1765 140M1674 159L1719 95L1765 147M1674 178L1719 94L1765 137M1719 151L1765 84L1810 158M1719 157L1765 83L1810 142M1719 150L1765 82L1810 151M1765 129L1810 100L1855 111M1765 135L1810 100L1855 114M1765 126L1810 100L1855 107M1810 144L1855 74M1810 137L1855 74M1810 137L1855 74M1447 275L1492 200M1447 275L1492 197M1447 275L1492 234M1447 230L1492 241L1538 252M1447 236L1492 241L1538 273M1447 241L1492 242L1538 230M1538 252L1583 289L1628 196M1538 236L1583 289L1628 196M1538 266L1583 288L1628 229M1583 259L1628 242L1674 180M1583 274L1628 242L1674 216M1583 233L1628 243L1674 222M1628 189L1674 228L1719 153M1628 234L1674 229L1719 137M1628 192L1674 229L1719 146M1674 173L1719 195L1765 170M1674 170L1719 195L1765 161M1674 182L1719 195L1765 174M1719 160L1765 211L1810 155M1719 139L1765 213L1810 150M1719 145L1765 212L1810 149M1765 192L1810 209L1855 115M1765 138L1810 211L1855 127M1765 145L1810 211L1855 115M1810 147L1855 180M1810 124L1855 181M1810 129L1855 182" stroke="#71d5e0"/>
<path d="M1447 184L1492 134M1447 186L1492 135M1447 183L1492 140M1447 195L1492 133L1538 182M1447 185L1492 133L1538 232M1447 195L1492 134L1538 220M1492 166L1538 172L1583 230M1492 194L1538 174L1583 206M1492 192L1538 172L1583 210M1538 214L1583 164L1628 223M1538 216L1583 163L1628 203M1538 254L1583 163L1628 212M1583 240L1628 148L1674 188M1583 234L1628 147L1674 197M1583 195L1628 147L1674 195M1628 205L1674 140L1719 142M1628 203L1674 138L1719 142M1628 202L1674 138L1719 149M1674 180L1719 95L1765 134M1674 183L1719 95L1765 109M1674 183L1719 95L1765 142M1719 127L1765 87L1810 142M1719 129L1765 85L1810 148M1719 141L1765 87L1810 155M1765 131L1810 101L1855 113M1765 137L1810 101L1855 99M1765 142L1810 101L1855 109M1810 134L1855 75M1810 141L1855 75M1810 142L1855 75M1447 274L1492 234M1447 274L1492 220M1447 273L1492 202M1447 231L1492 241L1538 232M1447 229L1492 241L1538 244M1447 231L1492 241L1538 255M1538 225L1583 288L1628 202M1538 245L1583 287L1628 218M1538 231L1583 287L1628 200M1583 237L1628 239L1674 188M1583 247L1628 239L1674 219M1583 249L1628 240L1674 186M1628 196L1674 227L1719 145M1628 236L1674 226L1719 138M1628 195L1674 227L1719 146M1674 183L1719 194L1765 166M1674 179L1719 193L1765 143M1674 171L1719 194L1765 146M1719 130L1765 209L1810 146M1719 133L1765 207L1810 168M1719 148L1765 206L1810 167M1765 137L1810 205L1855 144M1765 198L1810 207L1855 134M1765 201L1810 207L1855 114M1810 144L1855 175M1810 170L1855 175M1810 152L1855 175" stroke="#51acdd"/>
<path d="M1447 190L1492 136L1515 183L1538 179L1560 204L1583 170L1606 187L1628 151L1651 169L1674 144L1697 142L1719 98L1742 117L1765 90L1787 117L1810 102L1833 107L1855 76L1855 167L1833 156L1810 202L1787 175L1765 202L1742 172L1719 190L1697 185L1674 224L1651 212L1628 237L1606 242L1583 285L1560 259L1538 274L1515 236L1492 238L1470 235L1447 272Z" fill="#3e7dd0" stroke="none"/>
<path d="M1447 188L1492 141M1447 190L1492 140M1447 196L1492 135L1538 206M1447 199L1492 134L1538 222M1492 196L1538 176L1583 223M1492 187L1538 180L1583 228M1538 253L1583 169L1628 196M1538 250L1583 169L1628 210M1583 219L1628 150L1674 160M1583 233L1628 152L1674 190M1628 191L1674 144L1719 135M1628 190L1674 143L1719 146M1674 149L1719 97L1765 139M1674 186L1719 96L1765 160M1719 137L1765 89L1810 148M1719 153L1765 87L1810 151M1765 128L1810 101L1855 109M1765 156L1810 102L1855 112M1810 109L1855 75M1810 138L1855 75M1447 273L1492 199M1447 272L1492 197M1447 227L1492 239L1538 239M1447 226L1492 238L1538 231M1492 194L1538 276L1583 248M1492 194L1538 276L1583 243M1538 236L1583 285L1628 200M1538 230L1583 287L1628 193M1583 245L1628 238L1674 186M1583 246L1628 238L1674 188M1628 195L1674 225L1719 138M1628 196L1674 225L1719 143M1674 175L1719 190L1765 150M1674 185L1719 190L1765 184M1719 134L1765 205L1810 136M1719 132L1765 204L1810 199M1765 195L1810 205L1855 105M1765 152L1810 205L1855 103M1810 154L1855 170M1810 139L1855 171" stroke="#3e7dd0"/>
<path d="M1447 191L1492 139M1447 193L1492 143M1447 194L1492 136L1538 229M1447 196L1492 138L1538 233M1492 196L1538 180L1583 229M1492 173L1538 180L1583 237M1538 232L1583 172L1628 207M1538 249L1583 170L1628 205M1583 234L1628 153L1674 188M1583 235L1628 152L1674 181M1628 199L1674 144L1719 144M1628 191L1674 145L1719 146M1674 193L1719 98L1765 145M1674 180L1719 99L1765 132M1719 111L1765 90L1810 108M1719 150L1765 92L1810 140M1765 141L1810 102L1855 110M1765 132L1810 102L1855 116M1810 141L1855 76M1810 134L1855 77M1447 271L1492 200M1447 272L1492 199M1447 230L1492 237L1538 230M1447 232L1492 237L1538 272M1492 200L1538 274L1583 237M1492 194L1538 274L1583 244M1538 233L1583 285L1628 196M1538 229L1583 285L1628 199M1583 245L1628 237L1674 186M1583 243L1628 237L1674 185M1628 201L1674 224L1719 151M1628 202L1674 223L1719 146M1674 222L1719 188L1765 151M1674 177L1719 189L1765 145M1719 136L1765 202L1810 138M1719 142L1765 200L1810 138M1765 143L1810 200L1855 153M1765 156L1810 200L1855 107M1810 136L1855 166M1810 131L1855 166" stroke="#3964c6"/>
<path d="M1447 194L1492 139L1515 185L1538 184L1560 206L1583 175L1606 189L1628 154L1651 170L1674 146L1697 142L1719 100L1742 119L1765 93L1787 118L1810 103L1833 107L1855 78L1855 163L1833 154L1810 197L1787 173L1765 199L1742 171L1719 187L1697 184L1674 222L1651 212L1628 237L1606 242L1583 283L1560 258L1538 272L1515 235L1492 236L1470 234L1447 270Z" fill="#3b5dc3" stroke="none"/>
<path d="M1447 195L1492 144M1447 192L1492 142M1447 197L1492 138L1538 224M1447 195L1492 138L1538 232M1492 192L1538 182L1583 238M1492 143L1538 182L1583 218M1538 227L1583 174L1628 195M1538 232L1583 174L1628 199M1583 216L1628 153L1674 185M1583 233L1628 153L1674 190M1628 199L1674 146L1719 142M1628 199L1674 145L1719 140M1674 166L1719 99L1765 142M1674 180L1719 99L1765 140M1719 148L1765 91L1810 142M1719 102L1765 93L1810 142M1765 140L1810 103L1855 113M1765 129L1810 103L1855 112M1810 106L1855 77M1810 134L1855 77M1447 270L1492 193M1447 270L1492 200M1447 227L1492 237L1538 229M1447 242L1492 237L1538 230M1492 195L1538 273L1583 247M1492 193L1538 272L1583 244M1538 230L1583 283L1628 197M1538 230L1583 283L1628 203M1583 249L1628 236L1674 183M1583 245L1628 236L1674 188M1628 203L1674 222L1719 142M1628 198L1674 222L1719 150M1674 185L1719 188L1765 155M1674 206L1719 188L1765 159M1719 142L1765 200L1810 140M1719 138L1765 201L1810 154M1765 139L1810 198L1855 138M1765 139L1810 198L1855 119M1810 140L1855 163M1810 142L1855 165" stroke="#3b5dc3"/>
<path d="M1447 196L1492 144M1447 194L1492 139M1447 200L1492 139L1538 239M1447 195L1492 140L1538 232M1492 191L1538 185L1583 231M1492 187L1538 184L1583 224M1538 234L1583 178L1628 198M1538 229L1583 176L1628 197M1583 222L1628 156L1674 190M1583 230L1628 155L1674 185M1628 194L1674 147L1719 139M1628 197L1674 147L1719 141M1674 187L1719 101L1765 140M1674 150L1719 101L1765 141M1719 149L1765 95L1810 142M1719 145L1765 95L1810 142M1765 134L1810 104L1855 103M1765 131L1810 104L1855 114M1810 134L1855 78M1810 136L1855 78M1447 269L1492 196M1447 269L1492 200M1447 231L1492 236L1538 247M1447 228L1492 236L1538 229M1492 232L1538 271L1583 240M1492 195L1538 271L1583 246M1538 234L1583 283L1628 215M1538 232L1583 282L1628 228M1583 245L1628 236L1674 184M1583 244L1628 236L1674 185M1628 226L1674 222L1719 146M1628 201L1674 221L1719 146M1674 221L1719 186L1765 149M1674 180L1719 186L1765 149M1719 142L1765 197L1810 152M1719 147L1765 199L1810 167M1765 191L1810 196L1855 108M1765 152L1810 196L1855 103M1810 138L1855 161M1810 148L1855 162" stroke="#3e55c1"/>
<path d="M1447 198L1492 142L1515 186L1538 188L1560 208L1583 180L1606 190L1628 157L1651 171L1674 148L1697 143L1719 103L1742 120L1765 97L1787 119L1810 105L1833 108L1855 79L1855 159L1833 152L1810 193L1787 172L1765 196L1742 170L1719 185L1697 183L1674 220L1651 211L1628 236L1606 241L1583 281L1560 257L1538 270L1515 235L1492 235L1470 233L1447 268Z" fill="#5654c6" stroke="none"/>
<path d="M1447 198L1492 142M1447 198L1492 146M1447 198L1492 141L1538 238M1447 204L1492 142L1538 239M1492 178L1538 189L1583 249M1492 179L1538 189L1583 226M1538 235L1583 179L1628 204M1538 247L1583 180L1628 195M1583 230L1628 158L1674 182M1583 230L1628 156L1674 186M1628 197L1674 147L1719 142M1628 190L1674 148L1719 108M1674 182L1719 102L1765 139M1674 187L1719 102L1765 138M1719 139L1765 96L1810 107M1719 149L1765 96L1810 143M1765 132L1810 104L1855 111M1765 138L1810 104L1855 113M1810 138L1855 78M1810 135L1855 78M1447 268L1492 202M1447 268L1492 201M1447 235L1492 235L1538 232M1447 229L1492 235L1538 231M1492 201L1538 271L1583 245M1492 195L1538 270L1583 245M1538 229L1583 281L1628 203M1538 232L1583 281L1628 200M1583 245L1628 236L1674 184M1583 245L1628 236L1674 216M1628 203L1674 220L1719 143M1628 202L1674 220L1719 145M1674 184L1719 184L1765 176M1674 186L1719 185L1765 151M1719 176L1765 195L1810 147M1719 185L1765 197L1810 151M1765 149L1810 193L1855 105M1765 157L1810 193L1855 113M1810 195L1855 158M1810 146L1855 159" stroke="#5654c6"/>
<path d="M1447 200L1492 143M1447 199L1492 144M1447 202L1492 143L1538 236M1447 203L1492 143L1538 233M1492 183L1538 189L1583 227M1492 179L1538 191L1583 229M1538 238L1583 182L1628 207M1538 229L1583 183L1628 161M1583 222L1628 158L1674 188M1583 225L1628 159L1674 183M1628 198L1674 149L1719 140M1628 196L1674 149L1719 143M1674 152L1719 103L1765 154M1674 186L1719 104L1765 140M1719 155L1765 98L1810 141M1719 141L1765 98L1810 141M1765 138L1810 105L1855 113M1765 138L1810 106L1855 113M1810 138L1855 79M1810 135L1855 79M1447 267L1492 197M1447 267L1492 197M1447 233L1492 234L1538 235M1447 229L1492 234L1538 231M1492 201L1538 270L1583 246M1492 198L1538 270L1583 243M1538 236L1583 279L1628 203M1538 233L1583 281L1628 203M1583 236L1628 236L1674 217M1583 246L1628 235L1674 194M1628 202L1674 219L1719 146M1628 203L1674 220L1719 142M1674 179L1719 183L1765 153M1674 181L1719 183L1765 156M1719 148L1765 195L1810 146M1719 144L1765 194L1810 152M1765 152L1810 192L1855 110M1765 155L1810 192L1855 118M1810 162L1855 157M1810 146L1855 156" stroke="#7354cc"/>
<path d="M1447 202L1492 144L1515 188L1538 193L1560 210L1583 185L1606 192L1628 160L1651 172L1674 150L1697 144L1719 106L1742 121L1765 100L1787 120L1810 106L1833 108L1855 80L1855 155L1833 151L1810 189L1787 170L1765 192L1742 169L1719 182L1697 183L1674 218L1651 210L1628 235L1606 240L1583 278L1560 256L1538 268L1515 234L1492 233L1470 233L1447 266Z" fill="#9454cf" stroke="none"/>
<path d="M1447 202L1492 146M1447 202L1492 146M1447 205L1492 144L1538 229M1447 207L1492 144L1538 237M1492 187L1538 193L1583 233M1492 157L1538 193L1583 222M1538 236L1583 184L1628 202M1538 236L1583 183L1628 196M1583 221L1628 160L1674 185M1583 228L1628 160L1674 182M1628 193L1674 149L1719 138M1628 195L1674 149L1719 141M1674 182L1719 105L1765 140M1674 185L1719 105L1765 134M1719 141L1765 100L1810 143M1719 138L1765 100L1810 141M1765 136L1810 106L1855 92M1765 138L1810 106L1855 112M1810 138L1855 80M1810 140L1855 80M1447 266L1492 201M1447 267L1492 198M1447 230L1492 233L1538 234M1447 233L1492 233L1538 237M1492 200L1538 269L1583 240M1492 196L1538 269L1583 243M1538 236L1583 278L1628 202M1538 233L1583 279L1628 201M1583 246L1628 235L1674 223M1583 247L1628 235L1674 188M1628 235L1674 218L1719 149M1628 202L1674 218L1719 148M1674 181L1719 182L1765 153M1674 183L1719 182L1765 157M1719 143L1765 192L1810 147M1719 139L1765 194L1810 150M1765 179L1810 190L1855 111M1765 145L1810 191L1855 106M1810 141L1855 154M1810 150L1855 154" stroke="#9454cf"/>
<path d="M1447 204L1492 146M1447 203L1492 145L1538 235M1492 179L1538 193L1583 232M1538 239L1583 187L1628 203M1583 221L1628 161L1674 182M1628 192L1674 150L1719 141M1674 184L1719 106L1765 141M1719 144L1765 102L1810 143M1765 135L1810 107L1855 109M1810 138L1855 81M1447 265L1492 198M1447 235L1492 233L1538 235M1492 198L1538 268L1583 243M1538 235L1583 278L1628 201M1583 244L1628 234L1674 185M1628 202L1674 217L1719 149M1674 185L1719 181L1765 157M1719 146L1765 191L1810 152M1765 154L1810 186L1855 116M1810 147L1855 153" stroke="#b64ec5"/>
<path d="M1447 206L1492 147L1515 189L1538 198L1560 212L1583 190L1606 194L1628 163L1651 173L1674 152L1697 145L1719 108L1742 122L1765 104L1787 121L1810 108L1833 109L1855 81L1855 150L1833 149L1810 184L1787 169L1765 189L1742 168L1719 180L1697 182L1674 216L1651 210L1628 234L1606 240L1583 276L1560 255L1538 267L1515 233L1492 231L1470 232L1447 264Z" fill="#d745b2" stroke="none"/>
<path d="M1447 207L1492 150M1447 209L1492 147L1538 230M1492 179L1538 196L1583 229M1538 236L1583 189L1628 198M1583 228L1628 163L1674 184M1628 194L1674 151L1719 138M1674 184L1719 108L1765 135M1719 144L1765 103L1810 140M1765 134L1810 107L1855 111M1810 136L1855 81M1447 264L1492 200M1447 233L1492 231L1538 234M1492 197L1538 267L1583 243M1538 233L1583 276L1628 203M1583 246L1628 234L1674 185M1628 204L1674 216L1719 148M1674 183L1719 180L1765 155M1719 145L1765 190L1810 145M1765 152L1810 184L1855 113M1810 146L1855 150" stroke="#d745b2"/>
<path d="M1447 208L1492 148L1515 190L1538 200L1560 213L1583 193L1606 194L1628 165L1651 173L1674 153L1697 146L1719 110L1742 123L1765 106L1787 122L1810 108L1833 109L1855 82L1855 148L1833 148L1810 182L1787 168L1765 188L1742 167L1719 178L1697 181L1674 215L1651 209L1628 234L1606 239L1583 275L1560 255L1538 266L1515 233L1492 230L1470 232L1447 263Z" fill="#e43896" stroke="none"/>
<path d="M1447 207L1492 149M1447 208L1492 148L1538 234M1492 182L1538 200L1583 225M1538 232L1583 193L1628 195M1583 224L1628 164L1674 184M1628 194L1674 152L1719 140M1674 181L1719 110L1765 138M1719 142L1765 106L1810 138M1765 135L1810 109L1855 110M1810 135L1855 82M1447 263L1492 200M1447 233L1492 230L1538 235M1492 201L1538 266L1583 243M1538 234L1583 275L1628 204M1583 245L1628 234L1674 186M1628 203L1674 215L1719 146M1674 184L1719 178L1765 156M1719 147L1765 187L1810 151M1765 154L1810 181L1855 114M1810 148L1855 149" stroke="#e43896"/>
<path d="M1447 210L1492 150L1515 191L1538 202L1560 214L1583 195L1606 195L1628 166L1651 174L1674 154L1697 146L1719 111L1742 123L1765 107L1787 122L1810 109L1833 109L1855 83L1855 146L1833 147L1810 180L1787 167L1765 186L1742 166L1719 177L1697 181L1674 214L1651 209L1628 233L1606 239L1583 274L1560 255L1538 265L1515 232L1492 229L1470 231L1447 262Z" fill="#ea3279" stroke="none"/>
<path d="M1447 210L1492 150M1447 211L1492 150L1538 231M1492 180L1538 201L1583 227M1538 231L1583 194L1628 194M1583 225L1628 166L1674 181M1628 193L1674 154L1719 139M1674 181L1719 111L1765 136M1719 139L1765 107L1810 138M1765 136L1810 110L1855 109M1810 136L1855 83M1447 262L1492 200M1447 233L1492 230L1538 236M1492 201L1538 265L1583 245M1538 234L1583 274L1628 204M1583 245L1628 233L1674 186M1628 204L1674 214L1719 146M1674 185L1719 177L1765 155M1719 147L1765 185L1810 147M1765 154L1810 181L1855 114M1810 147L1855 147" stroke="#ea3279"/>
<path d="M1447 212L1492 151L1515 191L1538 205L1560 215L1583 198L1606 196L1628 167L1651 174L1674 155L1697 147L1719 112L1742 124L1765 109L1787 123L1810 110L1833 110L1855 83L1855 144L1833 146L1810 178L1787 167L1765 184L1742 166L1719 176L1697 180L1674 213L1651 209L1628 233L1606 239L1583 273L1560 254L1538 264L1515 232L1492 229L1470 231L1447 261Z" fill="#eb305b" stroke="none"/>
<path d="M1447 212L1492 151M1447 212L1492 151L1538 232M1492 179L1538 204L1583 225M1538 233L1583 196L1628 196M1583 225L1628 168L1674 181M1628 194L1674 155L1719 139M1674 181L1719 112L1765 136M1719 139L1765 109L1810 137M1765 136L1810 110L1855 109M1810 136L1855 83M1447 261L1492 201M1447 233L1492 229L1538 236M1492 200L1538 263L1583 245M1538 236L1583 273L1628 204M1583 245L1628 233L1674 185M1628 205L1674 213L1719 148M1674 184L1719 176L1765 156M1719 147L1765 184L1810 149M1765 154L1810 178L1855 115M1810 149L1855 144" stroke="#eb305b"/>
<polygon points="1447,213.4 1492.4,152.2 1515,191.9 1537.7,206.2 1560.4,215.5 1583.1,199.4 1605.8,196.7 1628.5,168.5 1651.2,174.7 1673.8,155.4 1696.5,147 1719.2,113.2 1741.9,124.5 1764.6,110.5 1787.2,123.2 1809.9,110.5 1832.6,109.8 1855.3,83.7 1855.3,142.7 1832.6,145.9 1809.9,176.2 1787.2,166 1764.6,183 1741.9,165.4 1719.2,174.9 1696.5,179.9 1673.8,212.1 1651.2,208.7 1628.5,232.5 1605.8,238.6 1583.1,271.9 1560.4,253.8 1537.7,262.9 1515,231.8 1492.4,227.9 1469.7,230.7 1447,260.6" fill="#e8313f" stroke="#e8313f" stroke-width="1.5"/>
</g>
<g stroke="#000" stroke-width="2.1" fill="none" stroke-linecap="square">
<path d="M1431.6 92.8V274.2"/>
<path d="M1419.1 92.8H1431.6"/>
<path d="M1419.1 138.2H1431.6"/>
<path d="M1419.1 183.5H1431.6"/>
<path d="M1419.1 228.8H1431.6"/>
<path d="M1419.1 274.2H1431.6"/>
<path d="M1447 308.7H1855.3"/>
<path d="M1447 308.7V321.7"/>
<path d="M1492.4 308.7V321.7"/>
<path d="M1537.7 308.7V321.7"/>
<path d="M1583.1 308.7V321.7"/>
<path d="M1628.5 308.7V321.7"/>
<path d="M1673.8 308.7V321.7"/>
<path d="M1719.2 308.7V321.7"/>
<path d="M1764.6 308.7V321.7"/>
<path d="M1809.9 308.7V321.7"/>
<path d="M1855.3 308.7V321.7"/>
</g>
<text transform="translate(1409.1 92.8) rotate(-90)" text-anchor="middle" font-size="18.5">2</text>
<text transform="translate(1409.1 138.2) rotate(-90)" text-anchor="middle" font-size="18.5">1</text>
<text transform="translate(1409.1 183.5) rotate(-90)" text-anchor="middle" font-size="18.5">0</text>
<text transform="translate(1409.1 232.8) rotate(-90)" text-anchor="middle" font-size="18.5">−1</text>
<text transform="translate(1409.1 278.2) rotate(-90)" text-anchor="middle" font-size="18.5">−2</text>
<text transform="translate(1374 163) rotate(-90)" text-anchor="middle" font-size="19.4">Expression changes</text>
<text x="1648.5" y="29" text-anchor="middle" font-size="25">Cluster 3</text>
<text transform="translate(1449.1 331.5) rotate(-30)" text-anchor="end" font-size="19.3" stroke="#000" stroke-width="0.35">Rumen</text>
<text transform="translate(1498.3 331.5) rotate(-30)" text-anchor="end" font-size="19.3">Reticulum</text>
<text transform="translate(1546.5 331.5) rotate(-30)" text-anchor="end" font-size="19.3">Omasum</text>
<text transform="translate(1591.6 331.5) rotate(-30)" text-anchor="end" font-size="19.3" stroke="#000" stroke-width="0.35">Abomasum</text>
<text transform="translate(1637.5 331.5) rotate(-30)" text-anchor="end" font-size="19.3">Duodenum</text>
<text transform="translate(1678.3 331.5) rotate(-30)" text-anchor="end" font-size="19.3">Jejunum</text>
<text transform="translate(1727.1 331.5) rotate(-30)" text-anchor="end" font-size="19.3" stroke="#000" stroke-width="0.35">Ileum</text>
<text transform="translate(1772.8 331.5) rotate(-30)" text-anchor="end" font-size="19.3">Cecum</text>
<text transform="translate(1818.7 331.5) rotate(-30)" text-anchor="end" font-size="19.3" stroke="#000" stroke-width="0.35">Colon</text>
<text transform="translate(1862 331.5) rotate(-30)" text-anchor="end" font-size="19.3">Rectumi</text>
</g>
<g id="bar3">
<rect x="1674.3" y="444.3" width="83.5" height="18" fill="#c8475f"/>
<rect x="1674.3" y="470.4" width="92.7" height="18" fill="#c8475f"/>
<rect x="1674.3" y="496.5" width="94.4" height="18" fill="#3d8646"/>
<rect x="1674.3" y="522.6" width="97.6" height="18" fill="#4a71b5"/>
<rect x="1674.3" y="548.3" width="104.7" height="18" fill="#4a71b5"/>
<rect x="1674.3" y="574.4" width="104.7" height="18" fill="#4a71b5"/>
<rect x="1674.3" y="600.5" width="109.2" height="18" fill="#4a71b5"/>
<rect x="1674.3" y="626.6" width="137.1" height="18" fill="#4a71b5"/>
<rect x="1674.3" y="652.7" width="144.1" height="18" fill="#4a71b5"/>
<polyline points="1732.8,453.3 1713,479.4 1735.6,505.5 1726.1,531.6 1729.6,557.3 1729.6,583.4 1731,609.5 1750.8,635.6 1753.2,661.7" fill="none" stroke="#f0b26e" stroke-width="2.8" stroke-linejoin="round"/>
<circle cx="1732.8" cy="453.3" r="4.4" fill="#f0b26e"/>
<circle cx="1713" cy="479.4" r="4.4" fill="#f0b26e"/>
<circle cx="1735.6" cy="505.5" r="4.4" fill="#f0b26e"/>
<circle cx="1726.1" cy="531.6" r="4.4" fill="#f0b26e"/>
<circle cx="1729.6" cy="557.3" r="4.4" fill="#f0b26e"/>
<circle cx="1729.6" cy="583.4" r="4.4" fill="#f0b26e"/>
<circle cx="1731" cy="609.5" r="4.4" fill="#f0b26e"/>
<circle cx="1750.8" cy="635.6" r="4.4" fill="#f0b26e"/>
<circle cx="1753.2" cy="661.7" r="4.4" fill="#f0b26e"/>
<g stroke="#111" stroke-width="1.5" fill="none">
<path d="M1674.3 443.8V670.5"/>
<path d="M1674.3 443.8H1818.4"/>
<path d="M1674.3 670.5H1818.4"/>
<path d="M1670.8 453.3H1674.3"/>
<path d="M1670.8 479.4H1674.3"/>
<path d="M1670.8 505.5H1674.3"/>
<path d="M1670.8 531.6H1674.3"/>
<path d="M1670.8 557.3H1674.3"/>
<path d="M1670.8 583.4H1674.3"/>
<path d="M1670.8 609.5H1674.3"/>
<path d="M1670.8 635.6H1674.3"/>
<path d="M1670.8 661.7H1674.3"/>
<path d="M1674.3 440.3V443.8"/>
<path d="M1713.7 440.3V443.8"/>
<path d="M1753.6 440.3V443.8"/>
<path d="M1793.1 440.3V443.8"/>
<path d="M1674.3 670.5V674"/>
<path d="M1713.7 670.5V674"/>
<path d="M1753.6 670.5V674"/>
<path d="M1793.1 670.5V674"/>
</g>
<g font-size="16" fill="#1a1a1a">
<text x="1669.7" y="460" text-anchor="end">Nuclear speck</text>
<text x="1669.7" y="486.1" text-anchor="end">Spliceosomal complex</text>
<text x="1669.7" y="515.4" text-anchor="end">Catalytic activity, acting on RNA</text>
<text x="1669.7" y="538.3" text-anchor="end">Ribosome biogenesis</text>
<text x="1669.7" y="564" text-anchor="end">mRNA splicing, via spliceosome</text>
<text x="1317.6" y="587.6">RNA splicing, via transesterification reactions with</text>
<text x="1317.6" y="599.9">bulged adenosine as nucleophile</text>
<text x="1669.7" y="616.2" text-anchor="end">RNA splicing, via transesterification reactions</text>
<text x="1669.7" y="642.3" text-anchor="end">RNA splicing</text>
<text x="1669.7" y="668.4" text-anchor="end">Ribonucleoprotein complex biogenesis</text>
<text x="1674.3" y="439.3" text-anchor="middle">0</text>
<text x="1713.7" y="439.3" text-anchor="middle">50</text>
<text x="1753.6" y="439.3" text-anchor="middle">100</text>
<text x="1793.1" y="439.3" text-anchor="middle">150</text>
<text x="1674.3" y="689.5" text-anchor="middle">0</text>
<text x="1713.7" y="689.5" text-anchor="middle">10</text>
<text x="1753.6" y="689.5" text-anchor="middle">20</text>
<text x="1793.1" y="689.5" text-anchor="middle">30</text>
<text x="1776.8" y="462.6">ONTOLOGY</text>
<rect x="1795.2" y="470.6" width="17.3" height="16" fill="#4a71b5"/>
<text x="1819.1" y="484.3">BP</text>
<rect x="1795.2" y="489.3" width="17.3" height="16" fill="#c8475f"/>
<text x="1819.1" y="503">CC</text>
<rect x="1795.2" y="508.3" width="17.3" height="16" fill="#3d8646"/>
<text x="1819.1" y="522">MF</text>
<text x="1742.6" y="715.1" text-anchor="middle">−log<tspan font-size="9" dy="4">10</tspan><tspan dy="-4" font-style="italic">P</tspan></text>
</g>
<text x="1742" y="409.7" text-anchor="middle" font-size="19" fill="#111">Gene count</text>
</g>
<g id="line4">
<clipPath id="c4"><rect x="177.7" y="778.1" width="410.3" height="275.7"/></clipPath>
<g clip-path="url(#c4)" fill="none" stroke-width="1.6" stroke-linejoin="round">
<path d="M178 827L224 931M224 918L269 844L315 967M224 931L269 843L315 955M224 878L269 842L315 984M269 925L315 867L360 981M269 917L315 869L360 969M315 984L360 855L406 966M315 922L360 856L406 982M360 981L406 854L451 963M406 960L451 849L496 895M406 964L451 849L496 889M451 894L496 800L542 891M451 946L496 799L542 922M451 956L496 799L542 901M496 877L542 833L587 806M178 1021L224 892M178 987L224 987L269 972M224 897L269 1013L315 963M269 938L315 1039L360 946M315 956L360 1011L406 942M315 953L360 1011L406 945M406 965L451 1004L496 919M406 994L451 1004L496 889M451 948L496 990L542 870M451 978L496 991L542 870M451 907L496 992L542 906M496 945L542 996L587 931M496 892L542 996L587 913M496 921L542 995L587 932M542 981L587 952" stroke="#e6e02c"/>
<path d="M178 829L224 872M178 829L224 915M178 830L224 931M224 877L269 846L315 944M224 931L269 846L315 984M269 954L315 870L360 969M269 937L315 869L360 946M269 927L315 869L360 937M315 953L360 861L406 982M360 926L406 857L451 881M360 954L406 859L451 914M360 946L406 855L451 942M406 945L451 851L496 868M406 971L451 850L496 893M406 918L451 851L496 896M451 910L496 802L542 902M451 948L496 801L542 901M496 883L542 833L587 841M496 852L542 833L587 840M496 834L542 833L587 836M178 1020L224 917M178 1020L224 899M178 1019L224 894M178 956L224 985L269 948M178 933L224 985L269 947M224 903L269 1012L315 970M224 916L269 1012L315 991M269 959L315 1037L360 946M269 944L315 1037L360 991M315 952L360 1010L406 942M406 945L451 1003L496 940M451 921L496 986L542 902M451 913L496 987L542 884M451 971L496 985L542 871M496 906L542 993L587 902M496 872L542 992L587 906M496 901L542 993L587 938M542 981L587 947M542 972L587 944" stroke="#c4dd22"/>
<path d="M178 837L224 894M178 838L224 931M224 912L269 849L315 898M269 960L315 871L360 958M269 943L315 871L360 963M269 945L315 871L360 941M315 968L360 864L406 982M360 981L406 861L451 963M360 956L406 863L451 943M360 970L406 862L451 963M406 942L451 852L496 852M451 916L496 803L542 851M451 927L496 804L542 909M451 907L496 803L542 908M496 859L542 834L587 846M496 866L542 834L587 842M496 857L542 834L587 803M178 1018L224 912M178 966L224 982L269 952M224 918L269 1011L315 976M224 889L269 1011L315 946M269 952L315 1035L360 960M269 935L315 1036L360 946M269 945L315 1035L360 946M315 1000L360 1008L406 951M315 973L360 1008L406 949M406 942L451 1001L496 940M451 925L496 982L542 898M451 907L496 982L542 892M451 916L496 983L542 912M496 936L542 990L587 933M496 904L542 990L587 914M496 885L542 989L587 908M542 965L587 943M542 973L587 941M542 972L587 941" stroke="#a3d31e"/>
<path d="M178 841L224 883M224 868L269 851L315 970M224 923L269 850L315 968M269 908L315 873L360 967M269 962L315 873L360 961M315 959L360 871L406 944M315 948L360 871L406 963M360 963L406 868L451 945M360 955L406 866L451 962M406 978L451 855L496 900M451 889L496 806L542 887M451 923L496 805L542 905M496 886L542 834L587 855M496 830L542 834L587 850M178 1017L224 920M178 947L224 981L269 974M178 933L224 980L269 927M178 1003L224 979L269 920M224 905L269 1010L315 943M224 892L269 1010L315 1009M224 904L269 1010L315 991M269 943L315 1033L360 975M269 946L315 1034L360 975M315 973L360 1008L406 942M406 942L451 1000L496 904M406 993L451 1000L496 897M406 942L451 999L496 889M451 920L496 981L542 940M451 920L496 980L542 894M496 871L542 987L587 900M496 855L542 989L587 906M542 984L587 937M542 965L587 938" stroke="#82c81c"/>
<path d="M178 848L224 919M224 865L269 854L315 936M269 949L315 875L360 960M269 958L315 874L360 962M315 950L360 872L406 912M315 971L360 873L406 982M360 981L406 872L451 930M360 974L406 871L451 942M406 975L451 858L496 890M406 942L451 858L496 890M406 965L451 857L496 888M451 923L496 808L542 904M451 884L496 807L542 888M496 861L542 835L587 844M496 882L542 835L587 840M178 1016L224 912M178 1017L224 916M178 1016L224 898M178 937L224 978L269 940M178 951L224 978L269 996M178 936L224 977L269 923M224 893L269 1009L315 967M224 904L269 1009L315 956M269 990L315 1032L360 946M269 979L315 1031L360 946M315 942L360 1007L406 948M315 965L360 1006L406 957M315 1006L360 1006L406 943M406 955L451 999L496 943M451 912L496 978L542 870M451 929L496 976L542 909M496 937L542 985L587 911M496 875L542 984L587 923M542 971L587 934M542 974L587 934M542 962L587 931" stroke="#82ca24"/>
<path d="M178 853L224 931M178 849L224 931M224 909L269 858L315 946M224 864L269 857L315 969M269 947L315 876L360 979M315 983L360 877L406 912M315 960L360 877L406 980M360 964L406 874L451 879M360 951L406 877L451 963M360 965L406 874L451 963M406 913L451 860L496 869M406 971L451 860L496 897M451 938L496 808L542 907M451 920L496 809L542 910M496 876L542 836L587 847M496 882L542 836L587 847M178 1015L224 900M178 1015L224 902M178 1015L224 912M178 951L224 975L269 992M178 957L224 975L269 950M178 962L224 974L269 926M269 928L315 1030L360 946M269 959L315 1030L360 989M269 932L315 1029L360 959M315 966L360 1006L406 947M315 961L360 1005L406 950M406 975L451 998L496 898M451 941L496 974L542 870M451 942L496 972L542 890M496 897L542 981L587 895M496 867L542 980L587 896M542 967L587 930M542 968L587 928M542 970L587 926" stroke="#81cc2c"/>
<path d="M178 858L201 894L224 858L247 889L269 861L292 907L315 879L337 923L360 883L383 929L406 882L428 912L451 863L474 870L496 811L519 854L542 836L564 841L587 798L587 922L542 977L519 931L496 968L474 947L451 996L428 971L406 999L383 977L360 1004L337 984L315 1027L292 983L269 1006L247 956L224 971L201 961L178 1014Z" fill="#81ce33" stroke="none"/>
<path d="M224 909L269 860L315 972M224 919L269 859L315 909M269 947L315 878L360 981M269 908L315 877L360 973M315 949L360 881L406 982M360 949L406 882L451 933M360 915L406 881L451 911M406 945L451 861L496 868M451 919L496 810L542 904M451 941L496 810L542 854M496 836L542 836L587 850M496 879L542 836L587 841M178 1014L224 938M178 938L224 972L269 944M178 951L224 972L269 943M224 950L269 1007L315 967M224 900L269 1006L315 956M224 917L269 1007L315 950M269 990L315 1028L360 946M269 943L315 1027L360 990M269 943L315 1028L360 986M315 968L360 1005L406 993M315 943L360 1004L406 951M315 1001L360 1004L406 953M406 977L451 996L496 884M406 943L451 997L496 896M406 948L451 996L496 904M451 976L496 970L542 879M451 937L496 968L542 874M451 981L496 968L542 893M496 896L542 978L587 902M496 884L542 980L587 896M496 884L542 979L587 898M542 965L587 923M542 960L587 923" stroke="#81ce33"/>
<path d="M178 863L224 928M224 913L269 864L315 945M224 919L269 863L315 948M269 943L315 880L360 944M269 946L315 880L360 953M315 949L360 885L406 921M360 936L406 886L451 957M360 981L406 885L451 940M406 976L451 864L496 883M406 923L451 864L496 892M451 892L496 812L542 894M451 891L496 812L542 892M496 865L542 837L587 803M496 880L542 837L587 826M178 1013L224 912M178 1013L224 901M178 944L224 969L269 948M224 895L269 1006L315 956M224 914L269 1005L315 1008M269 943L315 1026L360 946M269 932L315 1026L360 946M315 1000L360 1004L406 950M406 987L451 995L496 910M406 996L451 995L496 910M451 926L496 966L542 880M451 918L496 965L542 904M496 894L542 975L587 907M496 873L542 976L587 900M542 965L587 920" stroke="#80d03b"/>
<path d="M178 867L201 896L224 858L247 890L269 866L292 909L315 882L337 925L360 891L383 932L406 891L428 914L451 867L474 871L496 815L519 854L542 837L564 841L587 798L587 914L542 972L519 929L496 961L474 945L451 993L428 970L406 998L383 976L360 1002L337 983L315 1023L292 982L269 1004L247 955L224 967L201 959L178 1011Z" fill="#7fd984" stroke="none"/>
<path d="M178 865L224 921M178 867L224 927M178 866L224 927M224 920L269 866L315 944M269 935L315 881L360 928M315 967L360 889L406 920M315 903L360 889L406 982M360 981L406 890L451 895M360 912L406 888L451 947M360 946L406 890L451 917M406 945L451 867L496 874M406 972L451 867L496 884M451 936L496 813L542 909M451 887L496 814L542 895M451 931L496 814L542 910M496 899L542 837L587 818M496 891L542 837L587 820M178 1012L224 896M178 1012L224 891M178 1011L224 899M178 956L224 968L269 936M178 990L224 969L269 950M224 913L269 1005L315 955M224 918L269 1004L315 949M224 926L269 1005L315 964M269 941L315 1023L360 946M269 974L315 1024L360 972M315 964L360 1002L406 949M315 964L360 1003L406 953M315 957L360 1003L406 950M406 991L451 994L496 904M451 941L496 962L542 879M451 920L496 963L542 896M451 966L496 961L542 890M496 898L542 972L587 891M496 942L542 974L587 900M496 877L542 972L587 905M542 971L587 914M542 955L587 917M542 963L587 915" stroke="#7fd984"/>
<path d="M178 872L224 860M178 872L224 878M178 873L224 903M224 920L269 870L315 943M224 905L269 869L315 949M224 862L269 868L315 944M269 941L315 884L360 981M269 930L315 884L360 981M269 960L315 883L360 977M315 976L360 893L406 963M315 960L360 895L406 942M315 933L360 892L406 971M360 960L406 892L451 944M360 981L406 894L451 943M360 919L406 893L451 894M406 921L451 868L496 890M406 963L451 868L496 831M406 969L451 869L496 877M451 937L496 817L542 899M451 918L496 816L542 904M451 924L496 815L542 896M496 887L542 838L587 819M496 863L542 838L587 817M496 877L542 838L587 832M178 1011L224 909M178 1011L224 953M178 1011L224 906M178 950L224 965L269 942M178 989L224 966L269 947M178 955L224 965L269 935M224 893L269 1004L315 1009M224 899L269 1003L315 956M224 911L269 1003L315 959M269 942L315 1022L360 946M269 977L315 1022L360 960M269 942L315 1023L360 946M315 962L360 1002L406 994M315 961L360 1002L406 951M315 967L360 1002L406 995M406 946L451 993L496 943M406 947L451 993L496 870M406 962L451 992L496 887M451 963L496 959L542 903M451 934L496 957L542 951M451 928L496 959L542 889M496 913L542 970L587 901M496 876L542 971L587 890M496 898L542 971L587 891M542 958L587 912M542 956L587 910M542 968L587 909" stroke="#7bddc4"/>
<path d="M178 876L201 898L224 858L247 891L269 872L292 911L315 885L337 927L360 898L383 935L406 899L428 917L451 871L474 873L496 818L519 855L542 838L564 841L587 798L587 906L542 967L519 927L496 955L474 944L451 991L428 970L406 998L383 976L360 1001L337 982L315 1019L292 981L269 1002L247 954L224 963L201 958L178 1009Z" fill="#71d5e0" stroke="none"/>
<path d="M178 874L224 895M178 874L224 864M178 876L224 868M224 909L269 872L315 965M224 905L269 872L315 957M224 897L269 871L315 967M269 944L315 885L360 959M269 940L315 885L360 967M269 945L315 886L360 964M315 938L360 897L406 912M315 923L360 896L406 982M315 955L360 896L406 961M360 956L406 898L451 952M360 981L406 899L451 942M360 969L406 896L451 940M406 954L451 870L496 885M406 962L451 871L496 900M406 913L451 870L496 887M451 924L496 818L542 900M451 937L496 818L542 897M451 914L496 817L542 849M496 883L542 838L587 839M496 851L542 839L587 848M496 853L542 838L587 845M178 1009L224 946M178 1010L224 899M178 1010L224 898M178 954L224 962L269 948M178 946L224 964L269 948M178 1003L224 963L269 977M224 928L269 1003L315 945M224 900L269 1002L315 965M224 899L269 1002L315 1011M269 939L315 1019L360 946M269 948L315 1020L360 986M269 948L315 1020L360 996M315 963L360 1001L406 966M315 962L360 1000L406 974M315 940L360 1001L406 978M406 943L451 992L496 903M406 945L451 991L496 900M406 950L451 991L496 888M451 927L496 956L542 885M451 965L496 955L542 939M451 934L496 957L542 893M496 936L542 967L587 895M496 884L542 966L587 892M496 893L542 966L587 898M542 953L587 905M542 952L587 907M542 956L587 906" stroke="#71d5e0"/>
<path d="M178 883L224 896M178 879L224 908M178 882L224 879M224 907L269 874L315 950M224 903L269 874L315 946M224 915L269 873L315 953M269 943L315 887L360 957M269 930L315 887L360 973M269 950L315 887L360 935M315 975L360 900L406 925M315 947L360 899L406 917M315 952L360 901L406 933M360 971L406 901L451 949M360 917L406 903L451 925M360 959L406 901L451 932M406 956L451 873L496 867M406 968L451 872L496 877M406 950L451 873L496 875M451 928L496 820L542 893M451 934L496 820L542 898M451 902L496 819L542 893M496 833L542 839L587 839M496 874L542 839L587 850M496 859L542 839L587 847M178 1009L224 913M178 1008L224 898M178 1008L224 910M178 986L224 960L269 956M178 954L224 961L269 942M178 955L224 962L269 936M224 897L269 1002L315 951M224 906L269 1001L315 958M224 902L269 1001L315 972M269 944L315 1018L360 961M269 943L315 1018L360 955M269 946L315 1017L360 946M315 961L360 1000L406 948M315 962L360 1000L406 993M315 957L360 1000L406 952M406 963L451 990L496 892M406 953L451 990L496 900M406 952L451 989L496 907M451 934L496 951L542 943M451 940L496 952L542 888M451 977L496 953L542 902M496 874L542 965L587 893M496 923L542 966L587 895M496 938L542 964L587 900M542 954L587 902M542 953L587 901M542 964L587 901" stroke="#51acdd"/>
<path d="M178 888L201 901L224 859L247 893L269 879L292 913L315 891L337 930L360 908L383 939L406 909L428 920L451 876L474 875L496 823L519 857L542 841L564 842L587 799L587 896L542 960L519 924L496 947L474 941L451 988L428 969L406 997L383 975L360 998L337 980L315 1014L292 979L269 999L247 952L224 957L201 956L178 1006Z" fill="#3e7dd0" stroke="none"/>
<path d="M178 887L224 917M178 885L224 906M178 940L224 859L269 935M178 965L224 858L269 930M224 914L269 876L315 959M224 907L269 877L315 961M269 947L315 891L360 961M269 882L315 888L360 964M315 963L360 905L406 982M315 942L360 908L406 965M360 981L406 907L451 943M360 981L406 906L451 881M406 955L451 876L496 877M406 960L451 877L496 868M451 928L496 822L542 905M451 890L496 823L542 890M496 866L542 839L587 805M496 826L542 839L587 846M542 848L587 798M542 883L587 798M178 1007L224 900M178 1006L224 900M178 954L224 958L269 950M178 946L224 958L269 939M224 900L269 999L315 946M224 904L269 1000L315 954M269 967L315 1015L360 949M269 949L315 1014L360 946M315 965L360 998L406 985M315 941L360 999L406 958M360 953L406 997L451 942M360 950L406 997L451 937M406 991L451 989L496 886M406 954L451 987L496 892M451 939L496 947L542 903M451 944L496 949L542 919M496 878L542 960L587 889M496 885L542 963L587 890M542 957L587 899M542 952L587 896" stroke="#3e7dd0"/>
<path d="M178 889L224 912M178 891L224 908M178 954L224 859L269 929M178 906L224 859L269 924M224 903L269 880L315 952M224 913L269 879L315 966M269 932L315 893L360 966M269 944L315 891L360 963M315 941L360 909L406 952M315 965L360 910L406 973M360 981L406 911L451 936M360 963L406 911L451 931M406 962L451 877L496 877M406 957L451 877L496 878M451 922L496 824L542 896M451 936L496 823L542 886M496 848L542 843L587 843M496 881L542 843L587 841M542 888L587 799M542 886L587 799M178 1006L224 907M178 1006L224 900M178 973L224 956L269 928M178 974L224 955L269 940M224 908L269 998L315 965M224 906L269 999L315 966M269 948L315 1012L360 946M269 951L315 1013L360 946M315 959L360 997L406 985M315 959L360 998L406 949M360 955L406 996L451 944M360 989L406 996L451 939M406 953L451 988L496 899M406 949L451 986L496 889M451 938L496 947L542 904M451 941L496 946L542 901M496 883L542 957L587 888M496 894L542 959L587 892M542 959L587 895M542 955L587 895" stroke="#3964c6"/>
<path d="M178 894L201 902L224 861L247 894L269 883L292 915L315 895L337 932L360 913L383 941L406 913L428 921L451 880L474 876L496 826L519 858L542 844L564 843L587 800L587 892L542 955L519 922L496 945L474 940L451 986L428 968L406 996L383 974L360 997L337 979L315 1011L292 978L269 997L247 951L224 955L201 955L178 1005Z" fill="#3b5dc3" stroke="none"/>
<path d="M178 894L224 875M178 893L224 914M178 952L224 860L269 923M178 947L224 860L269 932M224 912L269 882L315 951M224 904L269 882L315 945M269 933L315 896L360 960M269 930L315 893L360 980M315 951L360 913L406 931M315 950L360 914L406 969M360 944L406 910L451 936M360 976L406 911L451 934M406 969L451 880L496 880M406 963L451 879L496 877M451 913L496 826L542 894M451 922L496 827L542 891M496 875L542 844L587 827M496 874L542 843L587 846M542 876L587 800M542 888L587 800M178 1005L224 903M178 1004L224 903M178 956L224 955L269 928M178 953L224 954L269 971M224 909L269 997L315 963M224 901L269 997L315 962M269 931L315 1011L360 948M269 938L315 1011L360 946M315 959L360 997L406 950M315 967L360 997L406 955M360 951L406 996L451 938M360 955L406 996L451 943M406 948L451 986L496 897M406 993L451 986L496 900M451 941L496 945L542 904M451 986L496 945L542 884M496 892L542 957L587 887M496 883L542 955L587 887M542 953L587 893M542 956L587 894" stroke="#3b5dc3"/>
<path d="M178 896L224 917M178 897L224 917M178 943L224 861L269 933M178 937L224 860L269 929M224 887L269 884L315 951M224 917L269 885L315 940M269 945L315 896L360 971M269 939L315 896L360 969M315 954L360 916L406 963M315 962L360 913L406 963M360 948L406 914L451 935M360 961L406 915L451 936M406 958L451 881L496 830M406 972L451 882L496 878M451 939L496 828L542 884M451 924L496 826L542 901M496 869L542 845L587 842M496 871L542 845L587 845M542 889L587 801M542 891L587 801M178 1004L224 902M178 1004L224 901M178 960L224 953L269 943M178 990L224 953L269 960M224 905L269 995L315 954M224 913L269 996L315 962M269 944L315 1010L360 946M269 948L315 1010L360 957M315 956L360 995L406 952M315 956L360 996L406 952M360 954L406 995L451 937M360 955L406 995L451 943M406 955L451 985L496 894M406 949L451 984L496 898M451 940L496 945L542 897M451 939L496 943L542 897M496 922L542 955L587 888M496 887L542 954L587 889M542 953L587 892M542 945L587 891" stroke="#3e55c1"/>
<path d="M178 900L201 903L224 862L247 895L269 886L292 916L315 899L337 934L360 918L383 943L406 917L428 923L451 883L474 877L496 829L519 859L542 847L564 844L587 802L587 889L542 951L519 921L496 942L474 940L451 983L428 968L406 995L383 974L360 995L337 978L315 1008L292 977L269 994L247 950L224 952L201 955L178 1003Z" fill="#5654c6" stroke="none"/>
<path d="M178 899L224 865M178 900L224 905M178 953L224 862L269 929M178 943L224 862L269 929M224 900L269 886L315 942M224 905L269 887L315 922M269 943L315 897L360 981M269 935L315 899L360 978M315 961L360 916L406 973M315 957L360 918L406 966M360 962L406 916L451 944M360 975L406 916L451 937M406 929L451 883L496 874M406 971L451 882L496 867M451 933L496 828L542 885M451 911L496 829L542 892M496 871L542 846L587 845M496 868L542 847L587 841M542 886L587 801M542 883L587 802M178 1004L224 901M178 1003L224 903M178 999L224 953L269 949M178 953L224 952L269 951M224 905L269 995L315 953M224 895L269 994L315 959M269 951L315 1008L360 993M269 946L315 1009L360 949M315 975L360 995L406 952M315 961L360 995L406 950M360 954L406 995L451 938M360 955L406 995L451 942M406 954L451 983L496 899M406 949L451 984L496 892M451 938L496 942L542 897M451 941L496 943L542 954M496 892L542 952L587 885M496 889L542 953L587 884M542 950L587 888M542 952L587 890" stroke="#5654c6"/>
<path d="M178 903L224 906M178 901L224 902M178 945L224 863L269 932M178 947L224 863L269 928M224 904L269 889L315 941M224 875L269 889L315 952M269 928L315 901L360 968M269 933L315 901L360 962M315 965L360 921L406 965M315 950L360 921L406 975M360 961L406 919L451 893M360 973L406 919L451 929M406 960L451 884L496 877M406 968L451 884L496 875M451 927L496 830L542 893M451 929L496 831L542 887M496 871L542 849L587 841M496 871L542 847L587 845M542 888L587 803M542 882L587 802M178 1002L224 908M178 1002L224 893M178 961L224 951L269 947M178 959L224 952L269 946M224 902L269 994L315 959M224 907L269 994L315 963M269 950L315 1007L360 950M269 947L315 1006L360 948M315 964L360 995L406 977M315 957L360 994L406 951M360 951L406 994L451 942M360 955L406 994L451 983M406 952L451 982L496 899M406 949L451 982L496 896M451 940L496 941L542 894M451 938L496 941L542 899M496 933L542 951L587 885M496 896L542 949L587 882M542 947L587 887M542 945L587 886" stroke="#7354cc"/>
<path d="M178 905L201 905L224 864L247 896L269 890L292 918L315 903L337 936L360 924L383 945L406 922L428 924L451 886L474 879L496 832L519 860L542 850L564 844L587 803L587 885L542 947L519 920L496 939L474 939L451 981L428 967L406 994L383 973L360 993L337 977L315 1005L292 976L269 992L247 949L224 949L201 954L178 1001Z" fill="#9454cf" stroke="none"/>
<path d="M178 904L224 912M178 905L224 880M178 946L224 864L269 880M178 949L224 863L269 883M224 901L269 890L315 947M224 905L269 891L315 946M269 936L315 903L360 970M269 929L315 903L360 964M315 954L360 922L406 949M315 946L360 924L406 970M360 923L406 920L451 931M360 971L406 921L451 923M406 968L451 886L496 868M406 958L451 885L496 870M451 924L496 832L542 885M451 930L496 831L542 893M496 869L542 850L587 846M496 839L542 849L587 838M542 886L587 803M542 885L587 803M178 1001L224 907M178 1001L224 906M178 956L224 950L269 945M178 956L224 949L269 949M224 907L269 993L315 959M224 935L269 993L315 963M269 943L315 1006L360 946M269 992L315 1006L360 950M315 959L360 993L406 952M315 957L360 993L406 952M360 952L406 993L451 940M360 953L406 994L451 942M406 950L451 982L496 896M406 996L451 982L496 895M451 936L496 940L542 900M451 939L496 940L542 898M496 894L542 947L587 885M496 892L542 948L587 882M542 945L587 886M542 943L587 885" stroke="#9454cf"/>
<path d="M178 907L224 903M178 946L224 864L269 930M224 899L269 892L315 947M269 932L315 905L360 972M315 946L360 927L406 970M360 965L406 923L451 926M406 964L451 887L496 872M451 922L496 834L542 889M496 874L542 851L587 841M542 885L587 804M178 1000L224 904M178 958L224 949L269 945M224 904L269 991L315 961M269 945L315 1003L360 949M315 959L360 993L406 952M360 954L406 993L451 941M406 954L451 980L496 895M451 937L496 939L542 896M496 893L542 945L587 879M542 943L587 884" stroke="#b64ec5"/>
<path d="M178 911L201 906L224 865L247 897L269 894L292 920L315 907L337 938L360 929L383 947L406 926L428 926L451 889L474 880L496 835L519 862L542 853L564 845L587 805L587 881L542 943L519 918L496 937L474 938L451 979L428 966L406 993L383 973L360 992L337 976L315 1002L292 975L269 990L247 948L224 947L201 953L178 999Z" fill="#d745b2" stroke="none"/>
<path d="M178 909L224 902M178 947L224 865L269 929M224 900L269 894L315 948M269 933L315 907L360 969M315 948L360 929L406 970M360 972L406 926L451 925M406 962L451 890L496 871M451 929L496 834L542 887M496 871L542 853L587 837M542 886L587 805M178 1000L224 906M178 956L224 948L269 948M224 906L269 990L315 961M269 949L315 1002L360 950M315 963L360 992L406 953M360 954L406 993L451 941M406 954L451 980L496 894M451 936L496 937L542 901M496 892L542 942L587 878M542 941L587 881" stroke="#d745b2"/>
<path d="M178 914L201 907L224 866L247 898L269 896L292 920L315 909L337 938L360 931L383 948L406 928L428 927L451 891L474 881L496 837L519 862L542 854L564 846L587 805L587 879L542 941L519 918L496 935L474 937L451 978L428 966L406 992L383 973L360 991L337 976L315 1000L292 974L269 989L247 947L224 946L201 952L178 998Z" fill="#e43896" stroke="none"/>
<path d="M178 915L224 902M178 948L224 866L269 928M224 899L269 896L315 943M269 929L315 909L360 971M315 948L360 931L406 965M360 972L406 927L451 927M406 963L451 891L496 873M451 923L496 837L542 890M496 872L542 855L587 838M542 885L587 805M178 999L224 907M178 960L224 945L269 949M224 905L269 989L315 959M269 947L315 1000L360 951M315 962L360 991L406 954M360 952L406 992L451 940M406 953L451 978L496 895M451 938L496 936L542 898M496 895L542 940L587 878M542 940L587 879" stroke="#e43896"/>
<path d="M178 917L201 908L224 867L247 898L269 898L292 921L315 911L337 939L360 934L383 949L406 930L428 927L451 892L474 881L496 839L519 863L542 856L564 846L587 806L587 878L542 939L519 917L496 934L474 937L451 977L428 966L406 991L383 972L360 990L337 975L315 999L292 974L269 988L247 947L224 944L201 952L178 997Z" fill="#ea3279" stroke="none"/>
<path d="M178 916L224 899M178 948L224 866L269 931M224 899L269 898L315 945M269 930L315 912L360 967M315 945L360 934L406 962M360 969L406 931L451 925M406 963L451 892L496 869M451 924L496 838L542 889M496 871L542 855L587 837M542 886L587 806M178 998L224 906M178 959L224 945L269 950M224 906L269 987L315 960M269 949L315 999L360 953M315 961L360 990L406 954M360 953L406 992L451 940M406 955L451 977L496 897M451 939L496 934L542 900M496 895L542 940L587 877M542 938L587 877" stroke="#ea3279"/>
<path d="M178 920L201 908L224 867L247 899L269 900L292 922L315 914L337 940L360 937L383 950L406 932L428 928L451 894L474 882L496 840L519 863L542 857L564 847L587 807L587 876L542 937L519 916L496 933L474 936L451 976L428 965L406 991L383 972L360 989L337 975L315 997L292 973L269 987L247 946L224 943L201 952L178 997Z" fill="#eb305b" stroke="none"/>
<path d="M178 919L224 899M178 950L224 867L269 930M224 897L269 900L315 944M269 930L315 914L360 967M315 944L360 936L406 962M360 967L406 932L451 924M406 962L451 894L496 870M451 925L496 839L542 888M496 870L542 858L587 836M542 886L587 807M178 997L224 906M178 960L224 943L269 950M224 906L269 986L315 961M269 950L315 996L360 953M315 960L360 989L406 955M360 953L406 991L451 940M406 955L451 976L496 897M451 939L496 933L542 899M496 896L542 937L587 876M542 937L587 877" stroke="#eb305b"/>
<polygon points="178.5,921.7 201.2,909 223.9,867.9 246.6,899 269.3,901.7 292,922.6 314.7,915 337.4,941 360.1,938.6 382.9,950.3 405.6,933.7 428.3,928.6 451,895 473.7,882.3 496.4,841.2 519.1,863.9 541.8,858.1 564.5,847 587.2,807.4 587.2,874.5 541.8,935 519.1,915.7 496.4,931.9 473.7,935.9 451,975.5 428.3,965.2 405.6,990.6 382.9,971.9 360.1,988.8 337.4,974.6 314.7,995.9 292,973 269.3,985.7 246.6,946.1 223.9,942.1 201.2,951.2 178.5,995.9" fill="#e8313f" stroke="#e8313f" stroke-width="1.5"/>
</g>
<g stroke="#000" stroke-width="2.1" fill="none" stroke-linecap="square">
<path d="M162.4 791.4V1013.7"/>
<path d="M149.9 791.4H162.4"/>
<path d="M149.9 835.9H162.4"/>
<path d="M149.9 880.3H162.4"/>
<path d="M149.9 924.8H162.4"/>
<path d="M149.9 969.2H162.4"/>
<path d="M149.9 1013.7H162.4"/>
<path d="M178.5 1048.3H587.2"/>
<path d="M178.5 1048.3V1061.3"/>
<path d="M223.9 1048.3V1061.3"/>
<path d="M269.3 1048.3V1061.3"/>
<path d="M314.7 1048.3V1061.3"/>
<path d="M360.1 1048.3V1061.3"/>
<path d="M405.6 1048.3V1061.3"/>
<path d="M451 1048.3V1061.3"/>
<path d="M496.4 1048.3V1061.3"/>
<path d="M541.8 1048.3V1061.3"/>
<path d="M587.2 1048.3V1061.3"/>
</g>
<text transform="translate(139.9 791.4) rotate(-90)" text-anchor="middle" font-size="18.5">3</text>
<text transform="translate(139.9 835.9) rotate(-90)" text-anchor="middle" font-size="18.5">2</text>
<text transform="translate(139.9 880.3) rotate(-90)" text-anchor="middle" font-size="18.5">1</text>
<text transform="translate(139.9 924.8) rotate(-90)" text-anchor="middle" font-size="18.5">0</text>
<text transform="translate(139.9 973.2) rotate(-90)" text-anchor="middle" font-size="18.5">−1</text>
<text transform="translate(139.9 1017.7) rotate(-90)" text-anchor="middle" font-size="18.5">−2</text>
<text transform="translate(112 912) rotate(-90)" text-anchor="middle" font-size="19.4">Expression changes</text>
<text x="352.8" y="767" text-anchor="middle" font-size="25">Cluster 4</text>
<text transform="translate(180.6 1071.1) rotate(-30)" text-anchor="end" font-size="19.3" stroke="#000" stroke-width="0.35">Rumen</text>
<text transform="translate(229.8 1071.1) rotate(-30)" text-anchor="end" font-size="19.3">Reticulum</text>
<text transform="translate(278.1 1071.1) rotate(-30)" text-anchor="end" font-size="19.3">Omasum</text>
<text transform="translate(323.2 1071.1) rotate(-30)" text-anchor="end" font-size="19.3" stroke="#000" stroke-width="0.35">Abomasum</text>
<text transform="translate(369.1 1071.1) rotate(-30)" text-anchor="end" font-size="19.3">Duodenum</text>
<text transform="translate(410.1 1071.1) rotate(-30)" text-anchor="end" font-size="19.3">Jejunum</text>
<text transform="translate(458.9 1071.1) rotate(-30)" text-anchor="end" font-size="19.3" stroke="#000" stroke-width="0.35">Ileum</text>
<text transform="translate(504.6 1071.1) rotate(-30)" text-anchor="end" font-size="19.3">Cecum</text>
<text transform="translate(550.6 1071.1) rotate(-30)" text-anchor="end" font-size="19.3" stroke="#000" stroke-width="0.35">Colon</text>
<text transform="translate(593.9 1071.1) rotate(-30)" text-anchor="end" font-size="19.3">Rectumi</text>
</g>
<g id="bar4">
<rect x="335.7" y="1182.7" width="191.5" height="18" fill="#4a71b5"/>
<rect x="335.7" y="1208.5" width="191.9" height="18" fill="#4a71b5"/>
<rect x="335.7" y="1234.4" width="195.9" height="18" fill="#4a71b5"/>
<rect x="335.7" y="1260.6" width="215.4" height="18" fill="#3d8646"/>
<rect x="335.7" y="1286.5" width="228.8" height="18" fill="#4a71b5"/>
<rect x="335.7" y="1312.7" width="289.9" height="18" fill="#4a71b5"/>
<rect x="335.7" y="1338.6" width="292.6" height="18" fill="#4a71b5"/>
<rect x="335.7" y="1364.4" width="299.7" height="18" fill="#4a71b5"/>
<rect x="335.7" y="1390.7" width="311.4" height="18" fill="#c8475f"/>
<polyline points="498.6,1191.7 496.7,1217.5 496.7,1243.4 430.5,1269.6 523.3,1295.5 498.6,1321.7 498.6,1347.6 500.6,1373.4 530.4,1399.7" fill="none" stroke="#f0b26e" stroke-width="2.8" stroke-linejoin="round"/>
<circle cx="498.6" cy="1191.7" r="4.4" fill="#f0b26e"/>
<circle cx="496.7" cy="1217.5" r="4.4" fill="#f0b26e"/>
<circle cx="496.7" cy="1243.4" r="4.4" fill="#f0b26e"/>
<circle cx="430.5" cy="1269.6" r="4.4" fill="#f0b26e"/>
<circle cx="523.3" cy="1295.5" r="4.4" fill="#f0b26e"/>
<circle cx="498.6" cy="1321.7" r="4.4" fill="#f0b26e"/>
<circle cx="498.6" cy="1347.6" r="4.4" fill="#f0b26e"/>
<circle cx="500.6" cy="1373.4" r="4.4" fill="#f0b26e"/>
<circle cx="530.4" cy="1399.7" r="4.4" fill="#f0b26e"/>
<g stroke="#111" stroke-width="1.5" fill="none">
<path d="M335.7 1181.9V1409.1"/>
<path d="M335.7 1181.9H647.1"/>
<path d="M335.7 1409.1H647.1"/>
<path d="M332.2 1191.7H335.7"/>
<path d="M332.2 1217.5H335.7"/>
<path d="M332.2 1243.4H335.7"/>
<path d="M332.2 1269.6H335.7"/>
<path d="M332.2 1295.5H335.7"/>
<path d="M332.2 1321.7H335.7"/>
<path d="M332.2 1347.6H335.7"/>
<path d="M332.2 1373.4H335.7"/>
<path d="M332.2 1399.7H335.7"/>
<path d="M335.7 1178.4V1181.9"/>
<path d="M414.8 1178.4V1181.9"/>
<path d="M493.9 1178.4V1181.9"/>
<path d="M573.1 1178.4V1181.9"/>
<path d="M335.7 1409.1V1412.6"/>
<path d="M414.8 1409.1V1412.6"/>
<path d="M493.9 1409.1V1412.6"/>
<path d="M573.1 1409.1V1412.6"/>
</g>
<g font-size="16" fill="#1a1a1a">
<text x="329.7" y="1196.4" text-anchor="end">Sensory system development</text>
<text x="329.7" y="1222.2" text-anchor="end">Visual system development</text>
<text x="329.7" y="1248.1" text-anchor="end">Eye development</text>
<text x="329.7" y="1274.3" text-anchor="end">Extracellular matrix structural constituent</text>
<text x="329.7" y="1300.2" text-anchor="end">Wnt signaling pathway</text>
<text x="329.7" y="1326.4" text-anchor="end">External encapsulating structure organization</text>
<text x="329.7" y="1352.3" text-anchor="end">Extracellular matrix organization</text>
<text x="329.7" y="1378.1" text-anchor="end">Extracellular structure organization</text>
<text x="329.7" y="1404.4" text-anchor="end">Collagen−containing extracellular matrix</text>
<text x="335.7" y="1177.4" text-anchor="middle">0</text>
<text x="414.8" y="1177.4" text-anchor="middle">25</text>
<text x="493.9" y="1177.4" text-anchor="middle">50</text>
<text x="573.1" y="1177.4" text-anchor="middle">75</text>
<text x="335.7" y="1428.1" text-anchor="middle">0</text>
<text x="414.8" y="1428.1" text-anchor="middle">5</text>
<text x="493.9" y="1428.1" text-anchor="middle">10</text>
<text x="573.1" y="1428.1" text-anchor="middle">15</text>
<text x="551.1" y="1204.4">ONTOLOGY</text>
<rect x="571.9" y="1211.7" width="16.8" height="16" fill="#4a71b5"/>
<text x="594.6" y="1225.4">BP</text>
<rect x="571.9" y="1230.5" width="16.8" height="16" fill="#c8475f"/>
<text x="594.6" y="1244.2">CC</text>
<rect x="571.9" y="1249.3" width="16.8" height="16" fill="#3d8646"/>
<text x="594.6" y="1263">MF</text>
<text x="443.8" y="1448.7" text-anchor="middle">−log<tspan font-size="9" dy="4">10</tspan><tspan dy="-4" font-style="italic">P</tspan></text>
</g>
<text x="463" y="1153.4" text-anchor="middle" font-size="19" fill="#111">Gene count</text>
</g>
<g id="line5">
<clipPath id="c5"><rect x="822.1" y="778" width="410.3" height="276.9"/></clipPath>
<g clip-path="url(#c5)" fill="none" stroke-width="1.9" stroke-linejoin="round">
<path d="M823 840L868 927M823 933L868 840L914 929M914 951L959 852L1005 872M1095 922L1141 811L1186 883M1186 940L1232 843M868 996L914 1006L959 959M914 961L959 1039L1005 945M959 1037L1005 965L1050 821M1050 910L1095 1020L1141 958" stroke="#e6e02c"/>
<path d="M823 842L868 954M823 951L868 843L914 933M1050 863L1095 852L1141 940M1095 871L1141 815L1186 925M868 942L914 1005L959 996M914 949L959 1039L1005 957M1095 954L1141 1019L1186 980" stroke="#c4dd22"/>
<path d="M823 844L868 963M868 972L914 830L959 922M914 928L959 854L1005 871M1050 878L1095 852L1141 887M914 966L959 1038L1005 952M959 1033L1005 961L1050 823M1005 821L1050 974L1095 927M1095 980L1141 1018L1186 953M1186 937L1232 1023" stroke="#a3d31e"/>
<path d="M823 847L868 890M823 969L868 845L914 926M868 972L914 832L959 972M914 961L959 855L1005 852M1050 868L1095 853L1141 928M1095 939L1141 822L1186 955M1141 919L1186 835L1232 928M868 956L914 1004L959 1018M959 1035L1005 960L1050 822M1141 960L1186 999L1232 975M1186 937L1232 1016" stroke="#82c81c"/>
<path d="M868 938L914 837L959 942M914 944L959 856L1005 864M1050 847L1095 854L1141 880M1095 933L1141 825L1186 951M1050 916L1095 1011L1141 932M1095 916L1141 1013L1186 948" stroke="#82ca24"/>
<path d="M823 938L868 848L914 950M868 972L914 840L959 940M914 947L959 857L1005 871M868 961L914 1003L959 1003M1005 818L1050 968L1095 965M1141 970L1186 998L1232 944" stroke="#81cc2c"/>
<path d="M823 946L868 850L914 942M868 901L914 843L959 885M914 914L959 859L1005 847M1050 872L1095 855L1141 877M1141 948L1186 841L1232 938M914 934L959 1036L1005 954M959 1028L1005 954L1050 816M1005 820L1050 965L1095 962" stroke="#81ce33"/>
<path d="M823 934L868 851L914 974M914 920L959 860L1005 852M868 974L914 1002L959 995M914 949L959 1035L1005 942M959 1030L1005 951L1050 815M1005 820L1050 963L1095 949M1050 846L1095 1003L1141 916M1095 943L1141 1007L1186 929M1141 943L1186 996L1232 928" stroke="#80d03b"/>
<path d="M1141 934L1186 846L1232 922M914 967L959 1035L1005 947M959 1029L1005 950L1050 817M1005 817L1050 961L1095 955M1095 907L1141 1004L1186 940M1141 947L1186 995L1232 942" stroke="#7fd984"/>
<path d="M823 856L868 934M823 946L868 855L914 903M868 932L914 854L959 948M914 940L959 862L1005 855M1050 847L1095 857L1141 907M1095 913L1141 842L1186 915M1141 917L1186 848L1232 931M1186 901L1232 849M868 978L914 1001L959 950M914 932L959 1034L1005 940M959 1025L1005 948L1050 814M1141 955L1186 994L1232 944M1186 950L1232 994" stroke="#7bddc4"/>
<path d="M823 858L868 958M823 930L868 856L914 962M1050 858L1095 857L1141 875M1095 939L1141 844L1186 919M1141 899L1186 851L1232 916M1186 917L1232 850M959 1030L1005 945L1050 812M1050 919L1095 996L1141 980M1095 959L1141 999L1186 959M1186 938L1232 994" stroke="#71d5e0"/>
<path d="M823 961L868 857L914 926M868 972L914 860L959 930M914 923L959 865L1005 873M1186 940L1232 851M914 956L959 1033L1005 938M959 1033L1005 944L1050 810M1005 810L1050 953L1095 959M1050 939L1095 994L1141 965M1141 946L1186 993L1232 945" stroke="#51acdd"/>
<path d="M823 864L868 935M823 866L868 954M823 861L868 972M823 960L868 860L914 935M823 950L868 864L914 943M823 967L868 860L914 949M868 958L914 868L959 925M868 931L914 869L959 959M868 962L914 864L959 946M914 960L959 869L1005 881M914 936L959 868L1005 839M914 951L959 866L1005 842M1050 883L1095 860L1141 910M1050 880L1095 858L1141 920M1050 883L1095 858L1141 926M1095 868L1141 851L1186 939M1095 908L1141 852L1186 938M1095 918L1141 853L1186 937M1141 922L1186 855L1232 886M1141 926L1186 854L1232 906M1141 930L1186 856L1232 912M1186 929L1232 852M1186 922L1232 851M1186 926L1232 851M823 1008L868 969M823 1007L868 974M823 1007L868 972M823 958L868 1009L914 982M823 969L868 1008L914 969M823 960L868 1009L914 938M868 962L914 999L959 960M868 998L914 999L959 999M868 978L914 999L959 990M914 959L959 1030L1005 937M914 964L959 1033L1005 938M914 967L959 1033L1005 940M959 1031L1005 942L1050 813M959 1022L1005 941L1050 812M959 1033L1005 941L1050 812M1005 811L1050 950L1095 957M1005 809L1050 952L1095 985M1005 812L1050 951L1095 960M1050 914L1095 991L1141 983M1050 909L1095 989L1141 956M1050 914L1095 990L1141 966M1095 975L1141 996L1186 951M1095 949L1141 995L1186 948M1095 960L1141 996L1186 973M1141 962L1186 992L1232 947M1141 953L1186 992L1232 955M1141 965L1186 990L1232 945M1186 976L1232 986M1186 955L1232 984M1186 946L1232 985" stroke="#3d7ace"/>
<path d="M823 867L868 921M823 867L868 940M823 866L868 968M823 974L868 863L914 968M823 933L868 865L914 950M823 946L868 868L914 941M868 965L914 870L959 933M868 953L914 873L959 925M868 947L914 869L959 956M914 915L959 872L1005 860M914 942L959 873L1005 853M914 938L959 872L1005 845M1050 877L1095 862L1141 904M1050 858L1095 860L1141 912M1050 859L1095 860L1141 905M1095 907L1141 856L1186 928M1095 908L1141 857L1186 912M1095 920L1141 855L1186 921M1141 929L1186 858L1232 931M1141 929L1186 857L1232 916M1141 924L1186 858L1232 930M1186 918L1232 857M1186 920L1232 855M1186 926L1232 858M823 1006L868 958M823 1006L868 957M823 1007L868 971M823 964L868 1006L914 967M823 969L868 1005L914 992M823 982L868 1006L914 952M868 976L914 997L959 1000M868 973L914 997L959 1001M868 965L914 998L959 995M914 953L959 1030L1005 940M914 960L959 1028L1005 940M914 968L959 1027L1005 935M959 1028L1005 940L1050 810M959 1027L1005 940L1050 810M959 1022L1005 940L1050 811M1005 811L1050 951L1095 952M1005 808L1050 951L1095 956M1005 810L1050 950L1095 963M1050 911L1095 989L1141 963M1050 911L1095 988L1141 963M1050 920L1095 988L1141 967M1095 951L1141 993L1186 961M1095 953L1141 994L1186 944M1095 954L1141 992L1186 959M1141 951L1186 988L1232 939M1141 957L1186 988L1232 939M1141 954L1186 989L1232 943M1186 951L1232 983M1186 959L1232 983M1186 941L1232 984" stroke="#3a60c5"/>
<path d="M823 872L868 953M823 872L868 961M823 872L868 954M823 946L868 869L914 933M823 975L868 867L914 963M823 949L868 868L914 952M868 943L914 874L959 927M868 944L914 872L959 891M868 931L914 876L959 932M914 951L959 875L1005 870M914 930L959 874L1005 870M914 925L959 874L1005 867M1050 865L1095 862L1141 911M1050 862L1095 862L1141 904M1050 839L1095 861L1141 923M1095 918L1141 859L1186 913M1095 918L1141 859L1186 919M1095 921L1141 860L1186 893M1141 926L1186 860L1232 910M1141 920L1186 861L1232 925M1141 928L1186 861L1232 930M1186 927L1232 861M1186 885L1232 860M1186 925L1232 861M823 1004L868 967M823 1004L868 999M823 1005L868 958M823 972L868 1003L914 959M823 972L868 1003L914 962M823 965L868 1002L914 967M868 966L914 997L959 987M868 971L914 997L959 995M868 977L914 996L959 997M914 962L959 1026L1005 934M914 969L959 1026L1005 935M914 965L959 1027L1005 935M959 1020L1005 939L1050 811M959 1028L1005 939L1050 809M959 1027L1005 938L1050 807M1005 808L1050 949L1095 960M1005 809L1050 948L1095 909M1005 808L1050 949L1095 954M1050 917L1095 987L1141 955M1050 913L1095 987L1141 954M1050 924L1095 985L1141 954M1095 960L1141 991L1186 931M1095 952L1141 991L1186 956M1095 956L1141 991L1186 950M1141 979L1186 987L1232 947M1141 957L1186 986L1232 962M1141 950L1186 986L1232 976M1186 956L1232 981M1186 954L1232 981M1186 978L1232 982" stroke="#3d56c1"/>
<path d="M823 875L868 959M823 876L868 960M823 879L868 942M823 941L868 875L914 966M823 934L868 875L914 964M823 935L868 876L914 955M868 947L914 877L959 950M868 949L914 879L959 872M868 914L914 878L959 940M914 934L959 877L1005 844M914 949L959 878L1005 843M914 947L959 878L1005 867M1050 860L1095 863L1141 915M1050 842L1095 864L1141 910M1050 861L1095 863L1141 908M1095 911L1141 865L1186 916M1095 916L1141 864L1186 912M1095 909L1141 861L1186 925M1141 909L1186 862L1232 916M1141 922L1186 863L1232 923M1141 908L1186 864L1232 912M1186 902L1232 861M1186 914L1232 863M1186 925L1232 863M823 1003L868 961M823 1003L868 967M823 1002L868 961M823 963L868 1000L914 962M823 969L868 999L914 968M823 1003L868 1000L914 962M868 973L914 996L959 997M868 968L914 994L959 992M868 971L914 994L959 1025M914 967L959 1024L1005 936M914 958L959 1024L1005 935M914 961L959 1025L1005 935M959 1024L1005 937L1050 807M959 1023L1005 938L1050 808M959 1021L1005 938L1050 807M1005 808L1050 947L1095 958M1005 806L1050 947L1095 957M1005 807L1050 947L1095 950M1050 912L1095 985L1141 962M1050 919L1095 985L1141 963M1050 938L1095 985L1141 954M1095 956L1141 989L1186 959M1095 959L1141 989L1186 959M1095 961L1141 990L1186 954M1141 963L1186 986L1232 952M1141 948L1186 986L1232 955M1141 955L1186 984L1232 952M1186 949L1232 981M1186 961L1232 981M1186 911L1232 980" stroke="#5d54c8"/>
<path d="M823 884L868 944M823 881L868 952M823 880L868 945M823 935L868 878L914 933M823 945L868 881L914 942M823 963L868 880L914 961M868 958L914 883L959 928M868 951L914 881L959 947M868 954L914 881L959 938M914 950L959 878L1005 874M914 936L959 880L1005 864M914 939L959 880L1005 848M1050 849L1095 865L1141 909M1050 860L1095 864L1141 916M1050 851L1095 864L1141 910M1095 919L1141 867L1186 922M1095 917L1141 866L1186 919M1095 911L1141 864L1186 862M1141 909L1186 867L1232 923M1141 915L1186 866L1232 930M1141 928L1186 866L1232 923M1186 884L1232 867M1186 911L1232 866M1186 928L1232 864M823 1002L868 971M823 1001L868 966M823 1001L868 960M823 970L868 998L914 964M823 963L868 998L914 968M823 968L868 998L914 961M868 975L914 995L959 995M868 963L914 994L959 994M868 974L914 994L959 1014M914 968L959 1022L1005 936M914 969L959 1022L1005 936M914 965L959 1021L1005 937M959 1019L1005 936L1050 805M959 1021L1005 937L1050 806M959 1017L1005 937L1050 806M1005 808L1050 946L1095 961M1005 805L1050 945L1095 953M1005 806L1050 946L1095 961M1050 912L1095 984L1141 963M1050 913L1095 984L1141 954M1050 913L1095 984L1141 953M1095 953L1141 989L1186 951M1095 959L1141 988L1186 954M1095 950L1141 989L1186 956M1141 957L1186 984L1232 950M1141 959L1186 983L1232 947M1141 958L1186 983L1232 952M1186 987L1232 978M1186 948L1232 979M1186 948L1232 979" stroke="#8354ce"/>
<path d="M823 882L868 958M823 881L868 953M823 883L868 934M823 938L868 884L914 933M823 958L868 884L914 952M823 963L868 884L914 956M868 942L914 885L959 942M868 944L914 885L959 939M868 949L914 886L959 935M914 945L959 883L1005 839M914 941L959 883L1005 843M914 938L959 883L1005 842M1050 874L1095 865L1141 906M1050 878L1095 866L1141 919M1050 869L1095 865L1141 920M1095 906L1141 869L1186 881M1095 864L1141 869L1186 923M1095 920L1141 869L1186 897M1141 858L1186 869L1232 929M1141 912L1186 867L1232 921M1141 912L1186 867L1232 910M1186 920L1232 870M1186 917L1232 870M1186 923L1232 869M823 999L868 969M823 1000L868 962M823 1000L868 969M823 973L868 996L914 962M823 967L868 995L914 969M823 973L868 998L914 967M868 964L914 992L959 997M868 969L914 993L959 989M868 969L914 993L959 996M914 961L959 1022L1005 934M914 976L959 1020L1005 933M914 965L959 1019L1005 935M959 1016L1005 936L1050 805M959 1016L1005 936L1050 806M959 1018L1005 936L1050 806M1005 805L1050 944L1095 954M1005 806L1050 944L1095 954M1005 805L1050 944L1095 953M1050 917L1095 982L1141 963M1050 919L1095 982L1141 956M1050 919L1095 981L1141 958M1095 955L1141 987L1186 954M1095 958L1141 986L1186 932M1095 960L1141 987L1186 957M1141 958L1186 981L1232 949M1141 962L1186 981L1232 956M1141 952L1186 982L1232 951M1186 951L1232 978M1186 952L1232 978M1186 958L1232 977" stroke="#aa51cb"/>
<path d="M823 889L846 917L868 890L891 916L914 889L936 911L959 886L965 882L970 877L975 872L980 866L986 853L992 841L996 828L1000 816L1002 808L1005 798L1006 802L1007 806L1009 812L1011 818L1014 823L1017 829L1019 832L1022 835L1025 837L1027 840L1030 837L1033 835L1035 832L1037 829L1041 823L1044 818L1046 812L1048 806L1049 802L1050 798L1052 805L1054 812L1058 820L1063 830L1068 839L1075 848L1079 853L1084 858L1090 863L1095 867L1118 890L1141 872L1163 894L1186 871L1209 894L1232 872L1232 976L1209 966L1186 979L1163 969L1141 984L1118 971L1095 980L1073 950L1050 943L1027 872L1005 934L959 1018L936 993L914 992L891 981L868 994L846 983L823 998Z" fill="#d048b7" stroke="none"/>
<path d="M823 888L868 950M823 889L868 960M823 887L868 940M823 949L868 887L914 954M823 951L868 886L914 959M823 952L868 890L914 935M868 936L914 887L959 941M868 956L914 889L959 941M868 939L914 890L959 932M914 944L959 887L1005 862M914 933L959 886L1005 855M914 932L959 885L1005 869M1050 881L1095 867L1141 885M1050 880L1095 867L1141 908M1050 853L1095 867L1141 909M1095 870L1141 872L1186 925M1095 912L1141 871L1186 912M1095 906L1141 873L1186 922M1141 923L1186 871L1232 911M1141 913L1186 871L1232 921M1141 918L1186 871L1232 917M1186 924L1232 872M1186 922L1232 873M1186 915L1232 872M823 999L868 972M823 998L868 968M823 998L868 969M823 973L868 995L914 970M823 990L868 995L914 962M823 939L868 994L914 963M868 973L914 992L959 995M868 984L914 992L959 995M868 971L914 992L959 982M914 968L959 1018L1005 933M914 969L959 1018L1005 932M914 964L959 1018L1005 934M959 1016L1005 935L1050 804M959 1013L1005 935L1050 804M959 1017L1005 935L1050 805M1005 804L1050 943L1095 966M1005 804L1050 943L1095 959M1005 805L1050 943L1095 955M1050 919L1095 980L1141 964M1050 896L1095 980L1141 962M1050 921L1095 981L1141 963M1095 957L1141 984L1186 955M1095 984L1141 985L1186 955M1095 953L1141 984L1186 955M1141 953L1186 980L1232 950M1141 960L1186 980L1232 955M1141 956L1186 980L1232 953M1186 954L1232 976M1186 959L1232 977M1186 956L1232 977" stroke="#d048b7"/>
<path d="M823 893L846 919L868 894L891 918L914 892L936 913L959 889L965 884L970 878L975 872L980 866L986 853L992 841L996 828L1000 816L1002 808L1005 798L1006 802L1007 806L1009 812L1011 818L1014 823L1017 829L1019 832L1022 835L1025 837L1027 840L1030 837L1033 835L1035 832L1037 829L1041 823L1044 818L1046 812L1048 806L1049 802L1050 798L1052 805L1054 812L1058 820L1063 830L1068 839L1075 848L1079 853L1084 858L1090 864L1095 869L1118 891L1141 875L1163 895L1186 874L1209 895L1232 875L1232 975L1209 965L1186 977L1163 969L1141 983L1118 970L1095 979L1073 950L1050 941L1027 871L1005 933L959 1016L936 992L914 991L891 980L868 992L846 982L823 996Z" fill="#e03c9d" stroke="none"/>
<path d="M823 891L868 937M823 893L868 947M823 938L868 892L914 935M823 942L868 892L914 950M868 955L914 891L959 927M868 941L914 892L959 932M914 940L959 890L1005 867M914 935L959 890L1005 843M1050 848L1095 868L1141 920M1050 874L1095 868L1141 917M1095 910L1141 873L1186 914M1095 908L1141 875L1186 918M1141 920L1186 874L1232 918M1141 919L1186 875L1232 918M1186 921L1232 874M1186 913L1232 874M823 997L868 971M823 996L868 971M823 971L868 993L914 969M823 971L868 993L914 964M868 969L914 990L959 996M868 973L914 991L959 993M914 966L959 1015L1005 931M914 963L959 1017L1005 932M959 1014L1005 934L1050 803M959 1014L1005 933L1050 803M1005 803L1050 942L1095 955M1005 802L1050 941L1095 957M1050 922L1095 979L1141 962M1050 923L1095 979L1141 957M1095 956L1141 983L1186 950M1095 953L1141 983L1186 953M1141 956L1186 977L1232 952M1141 959L1186 977L1232 952M1186 951L1232 975M1186 951L1232 975" stroke="#e03c9d"/>
<path d="M823 897L846 921L868 899L891 919L914 896L936 914L959 892L965 886L970 879L975 873L980 866L986 853L992 841L996 828L1000 816L1002 808L1005 798L1006 802L1007 806L1009 812L1011 818L1014 823L1017 829L1019 832L1022 835L1025 837L1027 840L1030 837L1033 835L1035 832L1037 829L1041 823L1044 818L1046 812L1048 806L1049 802L1050 798L1052 805L1054 812L1058 820L1063 830L1068 839L1075 848L1079 854L1084 858L1090 865L1095 870L1118 892L1141 878L1163 896L1186 876L1209 896L1232 878L1232 974L1209 964L1186 976L1163 968L1141 981L1118 969L1095 978L1073 949L1050 940L1027 869L1005 932L959 1013L936 991L914 990L891 980L868 990L846 981L823 995Z" fill="#e93384" stroke="none"/>
<path d="M823 898L868 942M823 897L868 948M823 940L868 896L914 939M823 941L868 900L914 940M868 943L914 897L959 938M868 943L914 895L959 931M914 933L959 890L1005 841M914 942L959 891L1005 855M1050 869L1095 870L1141 917M1050 849L1095 870L1141 918M1095 906L1141 877L1186 914M1095 908L1141 878L1186 911M1141 914L1186 877L1232 919M1141 919L1186 875L1232 919M1186 913L1232 875M1186 916L1232 878M823 995L868 965M823 994L868 970M823 975L868 990L914 969M823 971L868 990L914 967M868 969L914 989L959 993M868 971L914 989L959 994M914 967L959 1013L1005 931M914 968L959 1013L1005 931M959 1010L1005 932L1050 802M959 1010L1005 932L1050 802M1005 802L1050 940L1095 958M1005 802L1050 941L1095 960M1050 922L1095 977L1141 959M1050 918L1095 978L1141 960M1095 958L1141 981L1186 953M1095 956L1141 982L1186 955M1141 957L1186 975L1232 953M1141 958L1186 975L1232 954M1186 957L1232 974M1186 952L1232 974" stroke="#e93384"/>
<path d="M823 901L846 922L868 903L891 921L914 899L936 915L959 894L965 887L970 880L975 873L980 866L986 853L992 841L996 828L1000 816L1002 808L1005 798L1006 802L1007 806L1009 812L1011 818L1014 823L1017 829L1019 832L1022 835L1025 837L1027 840L1030 837L1033 835L1035 832L1037 829L1041 823L1044 818L1046 812L1048 806L1049 802L1050 798L1052 805L1054 812L1058 820L1063 830L1068 839L1075 848L1079 854L1084 859L1090 865L1095 871L1118 893L1141 881L1163 897L1186 879L1209 897L1232 881L1232 972L1209 964L1186 974L1163 967L1141 980L1118 969L1095 976L1073 949L1050 939L1027 868L1005 931L959 1011L936 991L914 988L891 979L868 988L846 981L823 993Z" fill="#eb306e" stroke="none"/>
<path d="M823 900L868 943M823 901L868 944M823 944L868 904L914 942M823 947L868 904L914 938M868 943L914 898L959 932M868 943L914 898L959 930M914 941L959 894L1005 866M914 939L959 895L1005 857M1050 855L1095 872L1141 912M1050 882L1095 870L1141 913M1095 906L1141 881L1186 915M1095 907L1141 880L1186 911M1141 913L1186 877L1232 916M1141 913L1186 878L1232 918M1186 915L1232 879M1186 915L1232 881M823 992L868 970M823 994L868 969M823 975L868 988L914 971M823 974L868 987L914 972M868 967L914 989L959 992M868 970L914 988L959 992M914 969L959 1012L1005 931M914 969L959 1011L1005 931M959 1010L1005 932L1050 802M959 1009L1005 932L1050 801M1005 801L1050 939L1095 956M1005 801L1050 938L1095 958M1050 921L1095 977L1141 960M1050 921L1095 977L1141 962M1095 956L1141 980L1186 952M1095 956L1141 980L1186 952M1141 959L1186 975L1232 954M1141 962L1186 973L1232 954M1186 953L1232 972M1186 953L1232 973" stroke="#eb306e"/>
<path d="M823 905L846 924L868 908L891 922L914 903L936 916L959 897L965 889L970 881L975 874L980 866L986 853L992 841L996 828L1000 816L1002 808L1005 798L1006 802L1007 806L1009 812L1011 818L1014 823L1017 829L1019 832L1022 835L1025 837L1027 840L1030 837L1033 835L1035 832L1037 829L1041 823L1044 818L1046 812L1048 806L1049 802L1050 798L1052 805L1054 812L1058 820L1063 830L1068 839L1075 848L1079 854L1084 859L1090 866L1095 872L1118 893L1141 883L1163 898L1186 881L1209 898L1232 883L1232 971L1209 963L1186 972L1163 967L1141 978L1118 968L1095 975L1073 948L1050 937L1027 867L1005 930L959 1009L936 990L914 987L891 978L868 986L846 980L823 991Z" fill="#eb3058" stroke="none"/>
<path d="M823 903L868 944M823 907L868 945M823 946L868 907L914 938M823 946L868 905L914 942M868 944L914 902L959 933M868 943L914 901L959 931M914 935L959 898L1005 845M914 933L959 897L1005 871M1050 867L1095 872L1141 915M1050 870L1095 872L1141 914M1095 904L1141 882L1186 914M1095 904L1141 882L1186 916M1141 918L1186 881L1232 917M1141 914L1186 882L1232 916M1186 913L1232 884M1186 913L1232 883M823 991L868 968M823 992L868 968M823 975L868 986L914 970M823 974L868 985L914 971M868 968L914 988L959 991M868 969L914 987L959 991M914 971L959 1010L1005 930M914 971L959 1010L1005 930M959 1009L1005 931L1050 801M959 1008L1005 930L1050 800M1005 800L1050 937L1095 959M1005 800L1050 937L1095 958M1050 921L1095 974L1141 962M1050 921L1095 975L1141 961M1095 959L1141 978L1186 955M1095 957L1141 978L1186 955M1141 961L1186 972L1232 955M1141 962L1186 972L1232 954M1186 956L1232 971M1186 954L1232 971" stroke="#eb3058"/>
<path d="M823 909L846 926L868 912L891 924L914 906L936 918L959 900L965 891L970 882L975 874L980 866L986 853L992 841L996 828L1000 816L1002 808L1005 798L1006 802L1007 806L1009 812L1011 818L1014 823L1017 829L1019 832L1022 835L1025 837L1027 840L1030 837L1033 835L1035 832L1037 829L1041 823L1044 818L1046 812L1048 806L1049 802L1050 798L1052 805L1054 812L1058 820L1063 830L1068 839L1075 848L1079 854L1084 860L1090 867L1095 874L1118 894L1141 886L1163 899L1186 883L1209 899L1232 886L1232 970L1209 962L1186 970L1163 966L1141 977L1118 968L1095 973L1073 947L1050 936L1027 866L1005 929L959 1007L936 989L914 986L891 978L868 984L846 979L823 990Z" fill="#e93146" stroke="none"/>
<path d="M823 909L868 942M823 909L868 942M823 939L868 913L914 936M823 940L868 914L914 936M868 941L914 905L959 930M868 943L914 907L959 929M914 937L959 899L1005 877M914 937L959 899L1005 876M1050 859L1095 873L1141 914M1050 844L1095 873L1141 915M1095 902L1141 887L1186 912M1095 903L1141 886L1186 912M1141 916L1186 883L1232 916M1141 915L1186 884L1232 916M1186 913L1232 886M1186 912L1232 887M823 990L868 969M823 989L868 968M823 975L868 983L914 972M823 975L868 983L914 972M868 968L914 986L959 992M868 968L914 986L959 992M914 971L959 1007L1005 929M914 972L959 1007L1005 929M959 1007L1005 929L1050 799M959 1007L1005 929L1050 799M1005 799L1050 937L1095 959M1005 799L1050 936L1095 959M1050 922L1095 973L1141 962M1050 922L1095 973L1141 962M1095 959L1141 976L1186 955M1095 958L1141 976L1186 955M1141 961L1186 970L1232 955M1141 962L1186 970L1232 955M1186 955L1232 969M1186 956L1232 970" stroke="#e93146"/>
<polygon points="822.9,912 845.6,926.9 868.3,915.1 891,925.2 913.7,908.4 936.4,918.5 959.1,901.7 964.6,892.4 970.5,882.3 975,874.4 979.6,866.3 986.4,853.1 991.8,840.7 996.4,828.4 1000,816.5 1002.3,807.8 1004.5,798.1 1005.7,802.3 1006.8,806.2 1008.6,811.7 1010.9,817.6 1013.6,823.5 1017,829.1 1019.3,832.1 1021.6,834.6 1024.5,837.4 1027.2,839.6 1030,837.4 1032.9,834.6 1035.2,832.1 1037.5,829.1 1040.9,823.5 1043.6,817.6 1045.9,811.7 1047.7,806.2 1048.8,802.3 1050,798.1 1052.2,805.3 1054.5,811.6 1058.1,820.4 1062.7,829.5 1068.1,838.6 1074.9,848.3 1079.5,854.3 1084,860.1 1089.9,867.6 1095.4,874.5 1118.1,894.8 1140.8,888.3 1163.5,900.1 1186.2,885.2 1208.9,900.1 1231.6,888.3 1231.6,968.7 1208.9,962 1186.2,968.7 1163.5,965.4 1140.8,975.4 1118.1,967.1 1095.4,972.3 1072.7,947 1050,935.2 1027.2,864.6 1004.5,928.5 959.1,1005.8 936.4,989 913.7,985.7 891,977.2 868.3,982.1 845.6,978.7 822.9,988.8" fill="#e8313f" stroke="#e8313f" stroke-width="1.5"/>
</g>
<g stroke="#000" stroke-width="2.1" fill="none" stroke-linecap="square">
<path d="M806.8 791.4V1014.7"/>
<path d="M794.3 791.4H806.8"/>
<path d="M794.3 836.1H806.8"/>
<path d="M794.3 880.7H806.8"/>
<path d="M794.3 925.4H806.8"/>
<path d="M794.3 970H806.8"/>
<path d="M794.3 1014.7H806.8"/>
<path d="M822.9 1048.3H1231.6"/>
<path d="M822.9 1048.3V1061.3"/>
<path d="M868.3 1048.3V1061.3"/>
<path d="M913.7 1048.3V1061.3"/>
<path d="M959.1 1048.3V1061.3"/>
<path d="M1004.5 1048.3V1061.3"/>
<path d="M1050 1048.3V1061.3"/>
<path d="M1095.4 1048.3V1061.3"/>
<path d="M1140.8 1048.3V1061.3"/>
<path d="M1186.2 1048.3V1061.3"/>
<path d="M1231.6 1048.3V1061.3"/>
</g>
<text transform="translate(784.3 791.4) rotate(-90)" text-anchor="middle" font-size="18.5">3</text>
<text transform="translate(784.3 836.1) rotate(-90)" text-anchor="middle" font-size="18.5">2</text>
<text transform="translate(784.3 880.7) rotate(-90)" text-anchor="middle" font-size="18.5">1</text>
<text transform="translate(784.3 925.4) rotate(-90)" text-anchor="middle" font-size="18.5">0</text>
<text transform="translate(784.3 974) rotate(-90)" text-anchor="middle" font-size="18.5">−1</text>
<text transform="translate(784.3 1018.7) rotate(-90)" text-anchor="middle" font-size="18.5">−2</text>
<text transform="translate(756 909) rotate(-90)" text-anchor="middle" font-size="19.4">Expression changes</text>
<text x="1001.5" y="767" text-anchor="middle" font-size="25">Cluster 5</text>
<text transform="translate(825 1071.1) rotate(-30)" text-anchor="end" font-size="19.3" stroke="#000" stroke-width="0.35">Rumen</text>
<text transform="translate(874.2 1071.1) rotate(-30)" text-anchor="end" font-size="19.3">Reticulum</text>
<text transform="translate(922.5 1071.1) rotate(-30)" text-anchor="end" font-size="19.3">Omasum</text>
<text transform="translate(967.6 1071.1) rotate(-30)" text-anchor="end" font-size="19.3" stroke="#000" stroke-width="0.35">Abomasum</text>
<text transform="translate(1013.5 1071.1) rotate(-30)" text-anchor="end" font-size="19.3">Duodenum</text>
<text transform="translate(1054.5 1071.1) rotate(-30)" text-anchor="end" font-size="19.3">Jejunum</text>
<text transform="translate(1103.3 1071.1) rotate(-30)" text-anchor="end" font-size="19.3" stroke="#000" stroke-width="0.35">Ileum</text>
<text transform="translate(1149 1071.1) rotate(-30)" text-anchor="end" font-size="19.3">Cecum</text>
<text transform="translate(1195 1071.1) rotate(-30)" text-anchor="end" font-size="19.3" stroke="#000" stroke-width="0.35">Colon</text>
<text transform="translate(1238.3 1071.1) rotate(-30)" text-anchor="end" font-size="19.3">Rectumi</text>
</g>
<g id="bar5">
<rect x="889.5" y="1182.7" width="218.2" height="18" fill="#4a71b5"/>
<rect x="889.5" y="1208.5" width="232.3" height="18" fill="#c8475f"/>
<rect x="889.5" y="1234.4" width="232.3" height="18" fill="#c8475f"/>
<rect x="889.5" y="1260.6" width="259.3" height="18" fill="#4a71b5"/>
<rect x="889.5" y="1286.5" width="259.3" height="18" fill="#4a71b5"/>
<rect x="889.5" y="1312.7" width="278.5" height="18" fill="#4a71b5"/>
<rect x="889.5" y="1338.6" width="287.5" height="18" fill="#4a71b5"/>
<rect x="889.5" y="1364.4" width="315.7" height="18" fill="#4a71b5"/>
<rect x="889.5" y="1390.7" width="363.9" height="18" fill="#4a71b5"/>
<polyline points="940.1,1191.7 936.9,1217.5 936.9,1243.4 953.8,1269.6 953.8,1295.5 954.9,1321.7 969.8,1347.6 980,1373.4 982.7,1399.7" fill="none" stroke="#f0b26e" stroke-width="2.8" stroke-linejoin="round"/>
<circle cx="940.1" cy="1191.7" r="4.4" fill="#f0b26e"/>
<circle cx="936.9" cy="1217.5" r="4.4" fill="#f0b26e"/>
<circle cx="936.9" cy="1243.4" r="4.4" fill="#f0b26e"/>
<circle cx="953.8" cy="1269.6" r="4.4" fill="#f0b26e"/>
<circle cx="953.8" cy="1295.5" r="4.4" fill="#f0b26e"/>
<circle cx="954.9" cy="1321.7" r="4.4" fill="#f0b26e"/>
<circle cx="969.8" cy="1347.6" r="4.4" fill="#f0b26e"/>
<circle cx="980" cy="1373.4" r="4.4" fill="#f0b26e"/>
<circle cx="982.7" cy="1399.7" r="4.4" fill="#f0b26e"/>
<g stroke="#111" stroke-width="1.5" fill="none">
<path d="M889.5 1181.9V1409.1"/>
<path d="M889.5 1181.9H1253.4"/>
<path d="M889.5 1409.1H1253.4"/>
<path d="M886 1191.7H889.5"/>
<path d="M886 1217.5H889.5"/>
<path d="M886 1243.4H889.5"/>
<path d="M886 1269.6H889.5"/>
<path d="M886 1295.5H889.5"/>
<path d="M886 1321.7H889.5"/>
<path d="M886 1347.6H889.5"/>
<path d="M886 1373.4H889.5"/>
<path d="M886 1399.7H889.5"/>
<path d="M889.5 1178.4V1181.9"/>
<path d="M980 1178.4V1181.9"/>
<path d="M1070.1 1178.4V1181.9"/>
<path d="M1160.6 1178.4V1181.9"/>
<path d="M1251.1 1178.4V1181.9"/>
<path d="M889.5 1409.1V1412.6"/>
<path d="M980 1409.1V1412.6"/>
<path d="M1070.1 1409.1V1412.6"/>
<path d="M1160.6 1409.1V1412.6"/>
<path d="M1251.1 1409.1V1412.6"/>
</g>
<g font-size="16" fill="#1a1a1a">
<text x="883.5" y="1196.4" text-anchor="end">Lipid homeostasis</text>
<text x="883.5" y="1222.2" text-anchor="end">Microbody</text>
<text x="883.5" y="1248.1" text-anchor="end">Peroxisome</text>
<text x="883.5" y="1274.3" text-anchor="end">Carboxylic acid catabolic process</text>
<text x="883.5" y="1300.2" text-anchor="end">Organic acid catabolic process</text>
<text x="883.5" y="1326.4" text-anchor="end">Cellular lipid catabolic process</text>
<text x="883.5" y="1352.3" text-anchor="end">Lipid catabolic process</text>
<text x="883.5" y="1378.1" text-anchor="end">Fatty acid metabolic process</text>
<text x="883.5" y="1404.4" text-anchor="end">Small molecule catabolic process</text>
<text x="889.5" y="1177.4" text-anchor="middle">0</text>
<text x="980" y="1177.4" text-anchor="middle">50</text>
<text x="1070.1" y="1177.4" text-anchor="middle">100</text>
<text x="1160.6" y="1177.4" text-anchor="middle">150</text>
<text x="1251.1" y="1177.4" text-anchor="middle">200</text>
<text x="889.5" y="1428.1" text-anchor="middle">0</text>
<text x="980" y="1428.1" text-anchor="middle">10</text>
<text x="1070.1" y="1428.1" text-anchor="middle">20</text>
<text x="1160.6" y="1428.1" text-anchor="middle">30</text>
<text x="1251.1" y="1428.1" text-anchor="middle">40</text>
<text x="1114.4" y="1199">ONTOLOGY</text>
<rect x="1137.5" y="1207" width="16.8" height="16.4" fill="#4a71b5"/>
<text x="1159.8" y="1220.9">BP</text>
<rect x="1137.5" y="1226.2" width="16.8" height="16.4" fill="#c8475f"/>
<text x="1159.8" y="1240.1">CC</text>
<text x="1054.4" y="1447.9" text-anchor="middle">−log<tspan font-size="9" dy="4">10</tspan><tspan dy="-4" font-style="italic">P</tspan></text>
</g>
<text x="1025.1" y="1153.4" text-anchor="middle" font-size="19" fill="#111">Gene count</text>
</g>
<g id="line6">
<clipPath id="c6"><rect x="1446.2" y="778.6" width="410.6" height="277"/></clipPath>
<g clip-path="url(#c6)" fill="none" stroke-width="1.9" stroke-linejoin="round">
<path d="M1447 829L1492 983M1538 933L1583 855L1629 903M1583 967L1629 843L1674 876M1765 911L1811 844L1856 892M1765 881L1811 844L1856 902M1811 910L1856 840M1447 971L1492 1016L1538 951M1538 974L1583 1040L1629 935M1538 970L1583 1039L1629 930M1583 967L1629 985L1674 913M1629 963L1674 1009L1720 912M1674 982L1720 915L1765 993M1720 910L1765 1016L1811 907" stroke="#e6e02c"/>
<path d="M1447 835L1492 962M1447 836L1492 983M1492 983L1538 831L1583 971M1583 942L1629 843L1674 875M1811 933L1856 841M1583 976L1629 985L1674 932M1629 914L1674 1004L1720 902M1674 955L1720 912L1765 1010M1720 897L1765 1013L1811 917M1720 901L1765 1013L1811 929M1765 935L1811 997L1856 929M1811 940L1856 1011" stroke="#c4dd22"/>
<path d="M1447 840L1492 983M1447 990L1492 860L1538 926M1492 983L1538 834L1583 915M1583 887L1629 844L1674 879M1720 848L1765 813L1811 903M1765 887L1811 845L1856 925M1811 930L1856 845M1447 957L1492 1014L1538 978M1492 951L1538 1017L1583 965M1538 965L1583 1037L1629 927M1583 969L1629 983L1674 942M1765 974L1811 995L1856 937M1765 923L1811 995L1856 959" stroke="#a3d31e"/>
<path d="M1447 844L1492 983M1447 990L1492 862L1538 895M1538 972L1583 857L1629 930M1583 928L1629 844L1674 870M1720 859L1765 817L1811 911M1765 876L1811 846L1856 907M1447 995L1492 1014L1538 981M1492 1002L1538 1015L1583 990M1538 975L1583 1036L1629 917M1583 970L1629 982L1674 943M1629 897L1674 995L1720 888M1674 962L1720 905L1765 1007M1720 892L1765 1007L1811 933M1765 935L1811 994L1856 989" stroke="#82c81c"/>
<path d="M1447 851L1492 983M1447 848L1492 983M1447 970L1492 864L1538 932M1720 841L1765 817L1811 912M1765 896L1811 846L1856 933M1811 861L1856 848M1447 968L1492 1013L1538 996M1492 963L1538 1015L1583 974M1492 960L1538 1015L1583 943M1583 952L1629 981L1674 928M1629 931L1674 992L1720 877M1674 953L1720 903L1765 997M1720 894L1765 1005L1811 920M1765 932L1811 992L1856 942M1811 925L1856 1009" stroke="#82ca24"/>
<path d="M1447 974L1492 864L1538 953M1538 952L1583 859L1629 910M1720 872L1765 821L1811 925M1765 881L1811 847L1856 904M1811 907L1856 850M1447 967L1492 1012L1538 963M1492 1001L1538 1014L1583 986M1492 976L1538 1014L1583 992M1538 973L1583 1033L1629 919M1583 978L1629 980L1674 940M1629 933L1674 986L1720 884M1674 983L1720 898L1765 982M1765 935L1811 991L1856 917M1811 940L1856 1007" stroke="#81cc2c"/>
<path d="M1447 901L1492 866L1538 924M1538 969L1583 860L1629 923M1583 927L1629 845L1674 873M1765 845L1811 848L1856 929M1811 928L1856 852M1538 974L1583 1032L1629 949M1583 953L1629 979L1674 933M1674 954L1720 896L1765 998M1720 886L1765 1001L1811 917" stroke="#81ce33"/>
<path d="M1447 912L1492 868L1538 970M1492 970L1538 854L1583 942M1538 922L1583 861L1629 909M1720 847L1765 827L1811 935M1811 906L1856 854M1447 975L1492 1010L1538 1006M1492 973L1538 1013L1583 981M1629 925L1674 979L1720 885M1629 915L1674 977L1720 892M1674 957L1720 894L1765 987M1720 876L1765 999L1811 939M1720 884L1765 997L1811 919M1811 978L1856 1006" stroke="#80d03b"/>
<path d="M1492 934L1538 861L1583 934M1538 976L1583 861L1629 916M1583 957L1629 846L1674 865M1765 880L1811 849L1856 882M1811 928L1856 857M1447 958L1492 1009L1538 961M1492 970L1538 1012L1583 973M1538 956L1583 1030L1629 944M1583 972L1629 976L1674 921M1629 918L1674 972L1720 877M1674 951L1720 890L1765 988M1720 877L1765 995L1811 935M1765 941L1811 987L1856 948M1811 934L1856 1004" stroke="#7fd984"/>
<path d="M1447 870L1492 970M1447 979L1492 870L1538 977M1447 955L1492 871L1538 907M1492 915L1538 866L1583 947M1538 957L1583 862L1629 860M1583 946L1629 847L1674 882M1720 869L1765 834L1811 923M1765 894L1811 849L1856 927M1811 917L1856 858M1447 969L1492 1008L1538 973M1447 969L1492 1008L1538 975M1492 960L1538 1011L1583 971M1538 963L1583 1029L1629 964M1583 987L1629 975L1674 913M1629 940L1674 969L1720 876M1674 951L1720 887L1765 988M1720 876L1765 992L1811 934M1765 953L1811 986L1856 940M1765 929L1811 986L1856 962M1811 921L1856 1004" stroke="#7bddc4"/>
<path d="M1447 878L1492 963M1447 947L1492 872L1538 973M1447 990L1492 872L1538 967M1492 954L1538 869L1583 933M1492 937L1538 871L1583 958M1538 982L1583 863L1629 930M1583 922L1629 847L1674 864M1720 862L1765 835L1811 905M1765 892L1811 850L1856 877M1811 902L1856 860M1447 972L1492 1007L1538 950M1492 969L1538 1011L1583 982M1538 968L1583 1028L1629 920M1583 990L1629 975L1674 918M1583 1009L1629 974L1674 915M1629 922L1674 966L1720 875M1629 937L1674 964L1720 876M1674 955L1720 884L1765 984M1720 876L1765 991L1811 952M1720 881L1765 989L1811 916M1765 891L1811 985L1856 935M1811 922L1856 1003" stroke="#71d5e0"/>
<path d="M1447 882L1492 955M1447 894L1492 874L1538 983M1492 954L1538 876L1583 961M1492 933L1538 875L1583 938M1538 958L1583 863L1629 893M1583 940L1629 847L1674 833M1720 867L1765 837L1811 914M1765 885L1811 851L1856 904M1811 909L1856 863M1447 981L1492 1007L1538 1000M1447 979L1492 1007L1538 968M1492 971L1538 1010L1583 969M1538 966L1583 1027L1629 934M1583 1017L1629 973L1674 914M1583 992L1629 973L1674 925M1629 935L1674 961L1720 881M1674 950L1720 880L1765 982M1720 877L1765 989L1811 933M1765 941L1811 984L1856 939M1811 933L1856 1002" stroke="#51acdd"/>
<path d="M1447 884L1492 947M1447 886L1492 982M1447 884L1492 972M1447 975L1492 879L1538 947M1447 960L1492 874L1538 964M1447 983L1492 879L1538 890M1492 895L1538 877L1583 959M1492 971L1538 877L1583 915M1492 960L1538 883L1583 950M1538 954L1583 866L1629 900M1538 950L1583 868L1629 914M1538 967L1583 868L1629 909M1583 927L1629 850L1674 868M1583 928L1629 848L1674 865M1583 938L1629 850L1674 863M1629 903L1674 816L1720 864M1629 909L1674 818L1720 877M1629 891L1674 816L1720 844M1720 865L1765 841L1811 905M1720 846L1765 841L1811 907M1720 861L1765 842L1811 898M1765 902L1811 855L1856 897M1765 895L1811 854L1856 890M1765 901L1811 852L1856 916M1811 917L1856 867M1811 904L1856 866M1811 903L1856 867M1447 1008L1492 999M1447 1009L1492 967M1447 1008L1492 977M1447 972L1492 1005L1538 970M1447 975L1492 1005L1538 969M1447 979L1492 1005L1538 968M1492 973L1538 1009L1583 976M1492 970L1538 1009L1583 979M1492 969L1538 1008L1583 974M1538 969L1583 1024L1629 934M1538 979L1583 1026L1629 946M1538 964L1583 1026L1629 927M1583 987L1629 972L1674 920M1583 988L1629 971L1674 875M1583 992L1629 971L1674 920M1629 939L1674 954L1720 876M1629 967L1674 956L1720 874M1629 932L1674 954L1720 876M1674 954L1720 877L1765 976M1674 952L1720 877L1765 978M1674 953L1720 877L1765 976M1720 875L1765 984L1811 921M1720 874L1765 984L1811 934M1720 876L1765 986L1811 941M1765 947L1811 981L1856 955M1765 939L1811 982L1856 949M1765 947L1811 981L1856 956M1811 928L1856 1001M1811 932L1856 998M1811 941L1856 1001" stroke="#3e7ccf"/>
<path d="M1447 892L1492 983M1447 891L1492 947M1447 893L1492 962M1447 985L1492 882L1538 972M1447 953L1492 884L1538 955M1447 962L1492 881L1538 963M1492 953L1538 887L1583 947M1492 975L1538 886L1583 942M1492 893L1538 885L1583 937M1538 973L1583 868L1629 906M1538 948L1583 869L1629 922M1538 948L1583 868L1629 901M1583 930L1629 853L1674 874M1583 923L1629 850L1674 873M1583 944L1629 850L1674 863M1629 912L1674 819L1720 850M1629 899L1674 820L1720 859M1629 912L1674 820L1720 862M1720 855L1765 843L1811 906M1720 881L1765 843L1811 914M1720 841L1765 844L1811 902M1765 890L1811 856L1856 918M1765 851L1811 857L1856 919M1765 893L1811 855L1856 923M1811 906L1856 867M1811 902L1856 867M1811 902L1856 866M1447 1007L1492 997M1447 1008L1492 975M1447 1008L1492 1002M1447 977L1492 1004L1538 975M1447 976L1492 1004L1538 977M1447 972L1492 1004L1538 974M1492 969L1538 1007L1583 974M1492 964L1538 1007L1583 981M1492 965L1538 1005L1583 978M1538 964L1583 1022L1629 933M1538 961L1583 1023L1629 937M1538 999L1583 1022L1629 928M1583 982L1629 970L1674 942M1583 980L1629 970L1674 925M1583 989L1629 970L1674 917M1629 939L1674 953L1720 876M1629 940L1674 953L1720 876M1629 936L1674 953L1720 873M1674 949L1720 876L1765 984M1674 953L1720 877L1765 977M1674 953L1720 877L1765 977M1720 876L1765 983L1811 938M1720 876L1765 982L1811 944M1720 874L1765 982L1811 940M1765 933L1811 981L1856 957M1765 937L1811 980L1856 948M1765 915L1811 979L1856 956M1811 929L1856 997M1811 968L1856 997M1811 937L1856 996" stroke="#3a62c6"/>
<path d="M1447 898L1470 930L1492 888L1515 925L1538 890L1561 915L1583 874L1606 891L1629 854L1652 861L1674 822L1700 839L1702 837L1705 834L1707 832L1709 829L1712 823L1714 818L1716 812L1718 806L1719 802L1720 798L1722 804L1724 809L1728 816L1732 823L1738 830L1745 837L1749 840L1754 842L1760 844L1765 845L1788 875L1811 858L1833 888L1856 869L1856 993L1833 964L1811 977L1788 961L1765 981L1720 875L1674 952L1652 945L1629 969L1606 977L1583 1020L1561 994L1538 1005L1515 988L1492 1002L1470 990L1447 1007Z" fill="#3c5ac2" stroke="none"/>
<path d="M1447 897L1492 965M1447 897L1492 978M1447 898L1492 978M1447 904L1492 886L1538 975M1447 983L1492 886L1538 980M1447 969L1492 889L1538 972M1492 970L1538 889L1583 929M1492 965L1538 887L1583 939M1492 945L1538 892L1583 957M1538 952L1583 873L1629 916M1538 967L1583 876L1629 904M1538 976L1583 874L1629 911M1583 940L1629 854L1674 879M1583 940L1629 853L1674 863M1583 963L1629 852L1674 867M1629 860L1674 822L1720 867M1629 902L1674 822L1720 872M1629 905L1674 822L1720 840M1720 842L1765 845L1811 906M1720 873L1765 845L1811 907M1720 849L1765 845L1811 912M1765 888L1811 856L1856 927M1765 889L1811 856L1856 928M1765 901L1811 859L1856 891M1811 902L1856 869M1811 899L1856 869M1811 875L1856 869M1447 1007L1492 972M1447 1007L1492 969M1447 1007L1492 965M1447 974L1492 1003L1538 968M1447 973L1492 1003L1538 971M1447 981L1492 1002L1538 968M1492 970L1538 1005L1583 978M1492 974L1538 1005L1583 975M1492 975L1538 1006L1583 982M1538 971L1583 1019L1629 926M1538 951L1583 1021L1629 938M1538 973L1583 1021L1629 928M1583 980L1629 969L1674 917M1583 984L1629 969L1674 925M1583 990L1629 969L1674 926M1629 933L1674 953L1720 874M1629 937L1674 952L1720 872M1629 941L1674 952L1720 874M1674 952L1720 876L1765 977M1674 951L1720 876L1765 977M1674 951L1720 875L1765 981M1720 876L1765 981L1811 943M1720 874L1765 981L1811 967M1720 873L1765 982L1811 944M1765 946L1811 977L1856 943M1765 941L1811 978L1856 945M1765 946L1811 978L1856 948M1811 927L1856 994M1811 930L1856 994M1811 929L1856 992" stroke="#3c5ac2"/>
<path d="M1447 905L1492 959M1447 901L1492 952M1447 902L1492 947M1447 979L1492 892L1538 963M1447 966L1492 890L1538 957M1447 990L1492 888L1538 927M1492 961L1538 895L1583 936M1492 976L1538 893L1583 945M1492 958L1538 892L1583 927M1538 948L1583 877L1629 917M1538 935L1583 876L1629 926M1538 962L1583 875L1629 897M1583 924L1629 855L1674 871M1583 937L1629 854L1674 862M1583 941L1629 854L1674 873M1629 900L1674 824L1720 877M1629 897L1674 823L1720 881M1629 896L1674 824L1720 875M1720 845L1765 846L1811 897M1720 870L1765 845L1811 902M1720 870L1765 846L1811 911M1765 898L1811 860L1856 910M1765 906L1811 862L1856 913M1765 892L1811 859L1856 920M1811 926L1856 871M1811 917L1856 870M1811 915L1856 870M1447 1006L1492 969M1447 1006L1492 969M1447 1006L1492 970M1447 977L1492 1002L1538 969M1447 1000L1492 1002L1538 977M1447 977L1492 1001L1538 970M1492 973L1538 1004L1583 984M1492 966L1538 1004L1583 981M1492 967L1538 1005L1583 978M1538 948L1583 1019L1629 936M1538 970L1583 1017L1629 936M1538 970L1583 1018L1629 928M1583 983L1629 968L1674 922M1583 984L1629 968L1674 917M1583 980L1629 968L1674 923M1629 912L1674 951L1720 874M1629 937L1674 951L1720 873M1629 944L1674 951L1720 874M1674 949L1720 875L1765 973M1674 948L1720 875L1765 980M1674 947L1720 875L1765 977M1720 874L1765 979L1811 934M1720 873L1765 980L1811 942M1720 873L1765 979L1811 945M1765 937L1811 976L1856 944M1765 944L1811 976L1856 949M1765 942L1811 975L1856 945M1811 931L1856 990M1811 942L1856 991M1811 964L1856 991" stroke="#4854c2"/>
<path d="M1447 906L1470 933L1492 896L1515 928L1538 898L1561 918L1583 881L1606 893L1629 857L1652 863L1674 826L1700 839L1702 837L1705 834L1707 832L1709 829L1712 823L1714 818L1716 812L1718 806L1719 802L1720 798L1722 804L1724 809L1728 816L1732 823L1738 830L1745 837L1749 840L1754 843L1760 846L1765 848L1788 876L1811 863L1833 890L1856 873L1856 988L1833 963L1811 974L1788 960L1765 977L1720 874L1674 950L1652 944L1629 967L1606 976L1583 1016L1561 993L1538 1002L1515 987L1492 1000L1470 989L1447 1005Z" fill="#6854cb" stroke="none"/>
<path d="M1447 905L1492 962M1447 908L1492 956M1447 906L1492 977M1447 977L1492 896L1538 965M1447 982L1492 897L1538 969M1447 985L1492 893L1538 966M1492 952L1538 899L1583 931M1492 959L1538 896L1583 953M1492 971L1538 896L1583 950M1538 932L1583 880L1629 916M1538 967L1583 879L1629 904M1538 954L1583 882L1629 915M1583 941L1629 856L1674 880M1583 912L1629 855L1674 863M1583 927L1629 857L1674 876M1629 897L1674 826L1720 855M1629 894L1674 826L1720 871M1629 905L1674 826L1720 874M1720 839L1765 848L1811 905M1720 868L1765 848L1811 908M1720 868L1765 848L1811 925M1765 852L1811 862L1856 925M1765 893L1811 861L1856 923M1765 894L1811 862L1856 913M1811 903L1856 873M1811 868L1856 871M1811 903L1856 873M1447 1005L1492 958M1447 1005L1492 972M1447 1006L1492 972M1447 979L1492 1000L1538 969M1447 975L1492 1001L1538 975M1447 978L1492 1001L1538 971M1492 1001L1538 1002L1583 954M1492 967L1538 1003L1583 945M1492 973L1538 1003L1583 980M1538 970L1583 1016L1629 938M1538 948L1583 1016L1629 937M1538 970L1583 1016L1629 929M1583 979L1629 967L1674 918M1583 1021L1629 968L1674 924M1583 988L1629 967L1674 918M1629 939L1674 950L1720 872M1629 935L1674 949L1720 873M1629 939L1674 950L1720 873M1674 947L1720 874L1765 972M1674 946L1720 874L1765 975M1674 947L1720 874L1765 975M1720 873L1765 978L1811 945M1720 873L1765 977L1811 944M1720 872L1765 978L1811 935M1765 918L1811 975L1856 995M1765 943L1811 974L1856 956M1765 950L1811 974L1856 952M1811 975L1856 987M1811 941L1856 988M1811 938L1856 988" stroke="#6854cb"/>
<path d="M1447 910L1492 948M1447 912L1492 949M1447 909L1492 958M1447 981L1492 900L1538 972M1447 977L1492 899L1538 953M1447 968L1492 900L1538 970M1492 966L1538 904L1583 930M1492 956L1538 901L1583 939M1492 953L1538 901L1583 949M1538 968L1583 885L1629 903M1538 966L1583 883L1629 904M1538 950L1583 881L1629 899M1583 967L1629 859L1674 871M1583 937L1629 859L1674 837M1583 923L1629 859L1674 863M1629 899L1674 827L1720 874M1629 893L1674 828L1720 858M1629 902L1674 828L1720 878M1720 863L1765 849L1811 902M1720 882L1765 848L1811 903M1720 840L1765 849L1811 907M1765 894L1811 865L1856 916M1765 889L1811 866L1856 920M1765 891L1811 865L1856 917M1811 911L1856 874M1811 913L1856 874M1811 933L1856 874M1447 1004L1492 973M1447 1005L1492 955M1447 1004L1492 972M1447 978L1492 999L1538 971M1447 977L1492 1000L1538 974M1447 980L1492 999L1538 995M1492 969L1538 1001L1583 980M1492 975L1538 1001L1583 986M1492 969L1538 1001L1583 978M1538 967L1583 1016L1629 930M1538 972L1583 1015L1629 933M1538 965L1583 1016L1629 940M1583 1007L1629 966L1674 924M1583 984L1629 966L1674 920M1583 987L1629 966L1674 919M1629 936L1674 949L1720 873M1629 941L1674 949L1720 872M1629 940L1674 948L1720 873M1674 946L1720 873L1765 976M1674 946L1720 874L1765 972M1674 946L1720 874L1765 973M1720 874L1765 977L1811 943M1720 873L1765 977L1811 936M1720 873L1765 976L1811 944M1765 947L1811 974L1856 943M1765 950L1811 972L1856 952M1765 946L1811 972L1856 945M1811 942L1856 986M1811 910L1856 986M1811 921L1856 986" stroke="#8b54ce"/>
<path d="M1447 915L1470 936L1492 905L1515 932L1538 906L1561 921L1583 887L1606 895L1629 861L1652 864L1674 830L1700 839L1702 837L1705 834L1707 832L1709 829L1712 823L1714 818L1716 812L1718 806L1719 802L1720 798L1722 804L1724 809L1728 816L1732 823L1738 830L1745 837L1749 841L1754 844L1760 847L1765 850L1788 878L1811 868L1833 891L1856 876L1856 983L1833 961L1811 971L1788 958L1765 974L1720 872L1674 948L1652 944L1629 965L1606 975L1583 1012L1561 992L1538 1000L1515 986L1492 998L1470 989L1447 1003Z" fill="#ae50c9" stroke="none"/>
<path d="M1447 915L1492 956M1447 914L1492 964M1447 916L1492 958M1447 958L1492 906L1538 954M1447 959L1492 901L1538 970M1447 970L1492 904L1538 951M1492 971L1538 906L1583 931M1492 968L1538 903L1583 940M1492 961L1538 904L1583 949M1538 961L1583 888L1629 901M1538 971L1583 886L1629 910M1538 947L1583 886L1629 901M1583 903L1629 860L1674 864M1583 930L1629 861L1674 873M1583 933L1629 861L1674 869M1629 904L1674 829L1720 865M1629 896L1674 829L1720 860M1629 904L1674 830L1720 878M1720 861L1765 850L1811 905M1720 847L1765 850L1811 903M1720 869L1765 850L1811 910M1765 880L1811 867L1856 911M1765 892L1811 869L1856 913M1765 871L1811 867L1856 915M1811 911L1856 876M1811 911L1856 875M1811 912L1856 876M1447 1004L1492 973M1447 1003L1492 971M1447 1004L1492 974M1447 978L1492 998L1538 975M1447 1004L1492 998L1538 975M1447 978L1492 998L1538 971M1492 973L1538 1000L1583 991M1492 974L1538 1000L1583 983M1492 973L1538 1000L1583 986M1538 968L1583 1012L1629 933M1538 951L1583 1013L1629 940M1538 1006L1583 1014L1629 937M1583 984L1629 965L1674 925M1583 984L1629 965L1674 922M1583 981L1629 965L1674 925M1629 937L1674 947L1720 871M1629 937L1674 949L1720 873M1629 941L1674 948L1720 871M1674 948L1720 872L1765 972M1674 947L1720 873L1765 973M1674 948L1720 873L1765 972M1720 873L1765 975L1811 939M1720 870L1765 974L1811 938M1720 870L1765 975L1811 939M1765 946L1811 972L1856 987M1765 946L1811 971L1856 947M1765 966L1811 971L1856 954M1811 940L1856 984M1811 934L1856 983M1811 941L1856 983" stroke="#ae50c9"/>
<path d="M1447 918L1492 962M1447 917L1492 963M1447 964L1492 908L1538 950M1447 974L1492 909L1538 951M1492 952L1538 908L1583 944M1492 964L1538 911L1583 940M1538 956L1583 891L1629 897M1538 954L1583 890L1629 905M1583 935L1629 863L1674 870M1583 933L1629 862L1674 864M1629 897L1674 832L1720 865M1629 900L1674 831L1720 882M1720 860L1765 852L1811 909M1720 873L1765 851L1811 907M1765 887L1811 870L1856 915M1765 883L1811 871L1856 914M1811 903L1856 878M1811 905L1856 877M1447 1003L1492 973M1447 1002L1492 975M1447 978L1492 998L1538 974M1447 977L1492 997L1538 976M1492 973L1538 998L1583 983M1492 972L1538 998L1583 983M1538 972L1583 1012L1629 935M1538 967L1583 1011L1629 936M1583 982L1629 964L1674 923M1583 985L1629 964L1674 920M1629 942L1674 947L1720 871M1629 937L1674 947L1720 871M1674 947L1720 871L1765 973M1674 945L1720 872L1765 972M1720 871L1765 973L1811 942M1720 872L1765 973L1811 944M1765 944L1811 969L1856 951M1765 943L1811 970L1856 953M1811 936L1856 979M1811 938L1856 980" stroke="#d247b6"/>
<path d="M1447 923L1470 940L1492 913L1515 935L1538 914L1561 924L1583 893L1606 897L1629 864L1652 866L1674 834L1700 839L1702 837L1705 834L1707 832L1709 829L1712 823L1714 818L1716 812L1718 806L1719 802L1720 798L1722 804L1724 809L1728 816L1732 823L1738 830L1745 837L1749 841L1754 845L1760 849L1765 853L1788 879L1811 873L1833 893L1856 879L1856 978L1833 959L1811 968L1788 957L1765 971L1720 871L1674 946L1652 943L1629 963L1606 974L1583 1009L1561 990L1538 997L1515 985L1492 996L1470 988L1447 1002Z" fill="#e13b9c" stroke="none"/>
<path d="M1447 923L1492 961M1447 924L1492 959M1447 971L1492 913L1538 959M1447 972L1492 914L1538 958M1492 961L1538 913L1583 940M1492 959L1538 914L1583 939M1538 957L1583 892L1629 904M1538 949L1583 892L1629 902M1583 931L1629 865L1674 870M1583 927L1629 865L1674 868M1629 902L1674 834L1720 872M1629 896L1674 833L1720 873M1720 852L1765 853L1811 908M1720 863L1765 853L1811 909M1765 889L1811 872L1856 918M1765 887L1811 873L1856 910M1811 908L1856 879M1811 908L1856 879M1447 1002L1492 973M1447 1002L1492 973M1447 979L1492 996L1538 973M1447 980L1492 996L1538 974M1492 973L1538 997L1583 983M1492 972L1538 997L1583 983M1538 969L1583 1010L1629 938M1538 975L1583 1009L1629 939M1583 983L1629 963L1674 922M1583 987L1629 963L1674 924M1629 938L1674 945L1720 870M1629 939L1674 946L1720 871M1674 944L1720 871L1765 969M1674 944L1720 871L1765 971M1720 870L1765 972L1811 945M1720 871L1765 972L1811 941M1765 944L1811 968L1856 952M1765 946L1811 967L1856 952M1811 938L1856 978M1811 937L1856 978" stroke="#e13b9c"/>
<path d="M1447 927L1470 941L1492 917L1515 936L1538 918L1561 925L1583 896L1606 898L1629 866L1652 867L1674 836L1700 839L1702 837L1705 834L1707 832L1709 829L1712 823L1714 818L1716 812L1718 806L1719 802L1720 798L1722 804L1724 809L1728 816L1732 823L1738 830L1745 837L1749 841L1754 845L1760 850L1765 854L1788 880L1811 875L1833 894L1856 881L1856 975L1833 958L1811 966L1788 956L1765 970L1720 870L1674 944L1652 942L1629 961L1606 973L1583 1007L1561 990L1538 996L1515 985L1492 995L1470 988L1447 1001Z" fill="#e93382" stroke="none"/>
<path d="M1447 928L1492 958M1447 928L1492 961M1447 968L1492 918L1538 953M1447 962L1492 918L1538 952M1492 960L1538 916L1583 931M1492 957L1538 916L1583 931M1538 950L1583 897L1629 898M1538 954L1583 897L1629 898M1583 929L1629 866L1674 866M1583 928L1629 867L1674 867M1629 899L1674 836L1720 848M1629 896L1674 836L1720 853M1720 880L1765 855L1811 908M1720 871L1765 855L1811 907M1765 885L1811 875L1856 914M1765 887L1811 876L1856 911M1811 908L1856 881M1811 905L1856 881M1447 1001L1492 975M1447 1001L1492 975M1447 981L1492 995L1538 972M1447 980L1492 995L1538 975M1492 973L1538 996L1583 982M1492 973L1538 996L1583 982M1538 972L1583 1008L1629 937M1538 972L1583 1007L1629 937M1583 986L1629 962L1674 922M1583 983L1629 962L1674 922M1629 941L1674 945L1720 870M1629 941L1674 945L1720 869M1674 943L1720 870L1765 969M1674 945L1720 870L1765 968M1720 870L1765 969L1811 941M1720 870L1765 969L1811 944M1765 947L1811 966L1856 953M1765 946L1811 967L1856 952M1811 939L1856 975M1811 943L1856 976" stroke="#e93382"/>
<path d="M1447 931L1470 943L1492 921L1515 938L1538 922L1561 927L1583 900L1606 899L1629 868L1652 867L1674 838L1700 839L1702 837L1705 834L1707 832L1709 829L1712 823L1714 818L1716 812L1718 806L1719 802L1720 798L1722 804L1724 809L1728 816L1732 823L1738 830L1745 837L1749 842L1754 846L1760 851L1765 855L1788 881L1811 877L1833 894L1856 882L1856 973L1833 958L1811 965L1788 956L1765 968L1720 869L1674 943L1652 942L1629 960L1606 972L1583 1005L1561 989L1538 994L1515 984L1492 994L1470 987L1447 1000Z" fill="#eb306a" stroke="none"/>
<path d="M1447 933L1492 953M1447 930L1492 959M1447 967L1492 920L1538 953M1447 967L1492 923L1538 952M1492 954L1538 921L1583 932M1492 952L1538 923L1583 933M1538 953L1583 901L1629 896M1538 953L1583 901L1629 900M1583 931L1629 869L1674 866M1583 930L1629 868L1674 867M1629 896L1674 837L1720 841M1629 898L1674 837L1720 840M1720 850L1765 856L1811 906M1720 843L1765 856L1811 906M1765 884L1811 877L1856 913M1765 886L1811 876L1856 910M1811 906L1856 882M1811 908L1856 883M1447 1000L1492 974M1447 1000L1492 974M1447 981L1492 994L1538 974M1447 981L1492 994L1538 974M1492 974L1538 995L1583 985M1492 973L1538 994L1583 984M1538 974L1583 1006L1629 939M1538 973L1583 1005L1629 939M1583 985L1629 961L1674 924M1583 984L1629 961L1674 924M1629 941L1674 944L1720 869M1629 940L1674 943L1720 868M1674 943L1720 869L1765 967M1674 943L1720 869L1765 967M1720 869L1765 968L1811 942M1720 869L1765 968L1811 943M1765 946L1811 965L1856 951M1765 946L1811 965L1856 951M1811 941L1856 972M1811 944L1856 973" stroke="#eb306a"/>
<path d="M1447 936L1470 945L1492 925L1515 940L1538 925L1561 928L1583 903L1606 900L1629 870L1652 868L1674 840L1700 839L1702 837L1705 834L1707 832L1709 829L1712 823L1714 818L1716 812L1718 806L1719 802L1720 798L1722 804L1724 809L1728 816L1732 823L1738 830L1745 837L1749 842L1754 846L1760 852L1765 857L1788 882L1811 880L1833 895L1856 884L1856 970L1833 957L1811 963L1788 955L1765 966L1720 868L1674 942L1652 942L1629 959L1606 972L1583 1003L1561 989L1538 993L1515 984L1492 993L1470 987L1447 999Z" fill="#ea304f" stroke="none"/>
<path d="M1447 937L1492 954M1447 937L1492 954M1447 964L1492 926L1538 955M1447 963L1492 926L1538 953M1492 955L1538 925L1583 932M1492 953L1538 925L1583 931M1538 954L1583 903L1629 897M1538 953L1583 901L1629 899M1583 931L1629 869L1674 866M1583 929L1629 869L1674 866M1629 896L1674 839L1720 851M1629 897L1674 839L1720 874M1720 857L1765 857L1811 907M1720 879L1765 857L1811 906M1765 883L1811 880L1856 910M1765 885L1811 879L1856 910M1811 907L1856 883M1811 906L1856 883M1447 1000L1492 975M1447 999L1492 974M1447 980L1492 993L1538 974M1447 981L1492 993L1538 974M1492 974L1538 993L1583 984M1492 974L1538 993L1583 984M1538 973L1583 1004L1629 939M1538 974L1583 1003L1629 940M1583 984L1629 960L1674 923M1583 984L1629 959L1674 924M1629 941L1674 942L1720 868M1629 941L1674 942L1720 868M1674 942L1720 869L1765 966M1674 942L1720 868L1765 966M1720 868L1765 966L1811 944M1720 868L1765 967L1811 944M1765 947L1811 963L1856 950M1765 948L1811 962L1856 950M1811 943L1856 971M1811 943L1856 970" stroke="#ea304f"/>
<polygon points="1447,938.6 1469.7,945.9 1492.4,928.3 1515.2,940.8 1537.9,928.3 1560.6,929.2 1583.3,905 1606.1,900.6 1628.8,871.1 1651.5,868.6 1674.2,841.1 1700.1,839.4 1702.5,837.1 1705,834.4 1707,831.9 1708.9,829 1711.9,823.4 1714.2,817.6 1716.1,811.7 1717.7,806.2 1718.7,802.4 1719.7,798.3 1721.9,803.8 1724.2,808.8 1727.8,815.6 1732.4,822.7 1737.8,829.8 1744.7,837.3 1749.2,842 1753.8,846.5 1759.7,852.3 1765.1,857.7 1787.8,882 1810.6,881.4 1833.3,895.7 1856,884.9 1856,968.5 1833.3,956.2 1810.6,961.8 1787.8,954.6 1765.1,965.4 1719.7,868 1674.2,941.7 1651.5,941.2 1628.8,958.7 1606.1,971.4 1583.3,1002 1560.6,988.1 1537.9,992.2 1515.2,983.2 1492.4,992.2 1469.7,986.6 1447,998.9" fill="#e8313f" stroke="#e8313f" stroke-width="1.5"/>
</g>
<g stroke="#000" stroke-width="2.1" fill="none" stroke-linecap="square">
<path d="M1431.3 792V1015.4"/>
<path d="M1418.8 792H1431.3"/>
<path d="M1418.8 836.7H1431.3"/>
<path d="M1418.8 881.4H1431.3"/>
<path d="M1418.8 926H1431.3"/>
<path d="M1418.8 970.7H1431.3"/>
<path d="M1418.8 1015.4H1431.3"/>
<path d="M1447 1048.3H1856"/>
<path d="M1447 1048.3V1061.3"/>
<path d="M1492.4 1048.3V1061.3"/>
<path d="M1537.9 1048.3V1061.3"/>
<path d="M1583.3 1048.3V1061.3"/>
<path d="M1628.8 1048.3V1061.3"/>
<path d="M1674.2 1048.3V1061.3"/>
<path d="M1719.7 1048.3V1061.3"/>
<path d="M1765.1 1048.3V1061.3"/>
<path d="M1810.6 1048.3V1061.3"/>
</g>
<text transform="translate(1408.8 792) rotate(-90)" text-anchor="middle" font-size="18.5">3</text>
<text transform="translate(1408.8 836.7) rotate(-90)" text-anchor="middle" font-size="18.5">2</text>
<text transform="translate(1408.8 881.4) rotate(-90)" text-anchor="middle" font-size="18.5">1</text>
<text transform="translate(1408.8 926) rotate(-90)" text-anchor="middle" font-size="18.5">0</text>
<text transform="translate(1408.8 974.7) rotate(-90)" text-anchor="middle" font-size="18.5">−1</text>
<text transform="translate(1408.8 1019.4) rotate(-90)" text-anchor="middle" font-size="18.5">−2</text>
<text transform="translate(1382 909) rotate(-90)" text-anchor="middle" font-size="19.4">Expression changes</text>
<text x="1627.5" y="767" text-anchor="middle" font-size="25">Cluster 6</text>
<text transform="translate(1449.1 1071.1) rotate(-30)" text-anchor="end" font-size="19.3" stroke="#000" stroke-width="0.35">Rumen</text>
<text transform="translate(1498.3 1071.1) rotate(-30)" text-anchor="end" font-size="19.3">Reticulum</text>
<text transform="translate(1546.7 1071.1) rotate(-30)" text-anchor="end" font-size="19.3">Omasum</text>
<text transform="translate(1591.8 1071.1) rotate(-30)" text-anchor="end" font-size="19.3" stroke="#000" stroke-width="0.35">Abomasum</text>
<text transform="translate(1637.8 1071.1) rotate(-30)" text-anchor="end" font-size="19.3">Duodenum</text>
<text transform="translate(1678.7 1071.1) rotate(-30)" text-anchor="end" font-size="19.3">Jejunum</text>
<text transform="translate(1727.6 1071.1) rotate(-30)" text-anchor="end" font-size="19.3" stroke="#000" stroke-width="0.35">Ileum</text>
<text transform="translate(1773.3 1071.1) rotate(-30)" text-anchor="end" font-size="19.3">Cecum</text>
<text transform="translate(1819.4 1071.1) rotate(-30)" text-anchor="end" font-size="19.3" stroke="#000" stroke-width="0.35">Colon</text>
<text transform="translate(1862.7 1071.1) rotate(-30)" text-anchor="end" font-size="19.3">Rectum</text>
</g>
<g id="bar6">
<rect x="1553.7" y="1182.6" width="249.2" height="18" fill="#4a71b5"/>
<rect x="1553.7" y="1208.7" width="251" height="18" fill="#4a71b5"/>
<rect x="1553.7" y="1234.7" width="251.4" height="18" fill="#4a71b5"/>
<rect x="1553.7" y="1260.8" width="252.1" height="18" fill="#4a71b5"/>
<rect x="1553.7" y="1286.6" width="253.5" height="18" fill="#4a71b5"/>
<rect x="1553.7" y="1312.7" width="257.7" height="18" fill="#4a71b5"/>
<rect x="1553.7" y="1338.7" width="267.2" height="18" fill="#4a71b5"/>
<rect x="1553.7" y="1364.8" width="267.2" height="18" fill="#4a71b5"/>
<rect x="1553.7" y="1390.9" width="292.9" height="18" fill="#4a71b5"/>
<polyline points="1641.8,1191.6 1651.3,1217.7 1660.5,1243.7 1660.5,1269.8 1657.7,1295.6 1667.9,1321.7 1669,1347.7 1677.8,1373.8 1667.9,1399.9" fill="none" stroke="#f0b26e" stroke-width="2.8" stroke-linejoin="round"/>
<circle cx="1641.8" cy="1191.6" r="4.4" fill="#f0b26e"/>
<circle cx="1651.3" cy="1217.7" r="4.4" fill="#f0b26e"/>
<circle cx="1660.5" cy="1243.7" r="4.4" fill="#f0b26e"/>
<circle cx="1660.5" cy="1269.8" r="4.4" fill="#f0b26e"/>
<circle cx="1657.7" cy="1295.6" r="4.4" fill="#f0b26e"/>
<circle cx="1667.9" cy="1321.7" r="4.4" fill="#f0b26e"/>
<circle cx="1669" cy="1347.7" r="4.4" fill="#f0b26e"/>
<circle cx="1677.8" cy="1373.8" r="4.4" fill="#f0b26e"/>
<circle cx="1667.9" cy="1399.9" r="4.4" fill="#f0b26e"/>
<g stroke="#111" stroke-width="1.5" fill="none">
<path d="M1553.7 1182V1409.1"/>
<path d="M1553.7 1182H1846.6"/>
<path d="M1553.7 1409.1H1846.6"/>
<path d="M1550.2 1191.6H1553.7"/>
<path d="M1550.2 1217.7H1553.7"/>
<path d="M1550.2 1243.7H1553.7"/>
<path d="M1550.2 1269.8H1553.7"/>
<path d="M1550.2 1295.6H1553.7"/>
<path d="M1550.2 1321.7H1553.7"/>
<path d="M1550.2 1347.7H1553.7"/>
<path d="M1550.2 1373.8H1553.7"/>
<path d="M1550.2 1399.9H1553.7"/>
<path d="M1553.7 1178.5V1182"/>
<path d="M1628.1 1178.5V1182"/>
<path d="M1702.1 1178.5V1182"/>
<path d="M1776.5 1178.5V1182"/>
<path d="M1553.7 1409.1V1412.6"/>
<path d="M1646.4 1409.1V1412.6"/>
<path d="M1739.1 1409.1V1412.6"/>
<path d="M1831.5 1409.1V1412.6"/>
</g>
<g font-size="16" fill="#1a1a1a">
<text x="1290.7" y="1195.8">Positive regulation of leukocyte cell−</text>
<text x="1290.7" y="1208.1">cell adhesion</text>
<text x="1549.1" y="1224.4" text-anchor="end">Positive regulation of lymphocyte activation</text>
<text x="1549.1" y="1250.4" text-anchor="end">Regulation of leukocyte cell−cell adhesion</text>
<text x="1549.1" y="1276.5" text-anchor="end">Positive regulation of cell activation</text>
<text x="1549.1" y="1302.3" text-anchor="end">Positive regulation of leukocyte activation</text>
<text x="1549.1" y="1328.4" text-anchor="end">Leukocyte cell−cell adhesion</text>
<text x="1549.1" y="1354.4" text-anchor="end">Lymphocyte differentiation</text>
<text x="1549.1" y="1380.5" text-anchor="end">Leukocyte mediated immunity</text>
<text x="1549.1" y="1406.6" text-anchor="end">Regulation of t cell activation</text>
<text x="1553.7" y="1177.5" text-anchor="middle">0</text>
<text x="1628.1" y="1177.5" text-anchor="middle">40</text>
<text x="1702.1" y="1177.5" text-anchor="middle">80</text>
<text x="1776.5" y="1177.5" text-anchor="middle">120</text>
<text x="1553.7" y="1428.1" text-anchor="middle">0</text>
<text x="1646.4" y="1428.1" text-anchor="middle">10</text>
<text x="1739.1" y="1428.1" text-anchor="middle">20</text>
<text x="1831.5" y="1428.1" text-anchor="middle">30</text>
<text x="1804.7" y="1200.8">ONTOLOGY</text>
<rect x="1824.8" y="1207.4" width="16.9" height="16.6" fill="#4a71b5"/>
<text x="1847.4" y="1221.4">BP</text>
<text x="1709.2" y="1448.1" text-anchor="middle">−log<tspan font-size="9" dy="4">10</tspan><tspan dy="-4" font-style="italic">P</tspan></text>
</g>
<text x="1699.6" y="1153.2" text-anchor="middle" font-size="19" fill="#111">Gene count</text>
</g>
<g id="line7">
<clipPath id="c7"><rect x="184.8" y="1518.6" width="409.9" height="277"/></clipPath>
<g clip-path="url(#c7)" fill="none" stroke-width="1.9" stroke-linejoin="round">
<path d="M412 1645L458 1577L503 1672M458 1684L503 1545L549 1653M186 1757L231 1637M276 1690L322 1780L367 1689M322 1722L367 1754L412 1695" stroke="#e6e02c"/>
<path d="M276 1682L322 1596L367 1684M322 1731L367 1579L412 1723M367 1684L412 1592L458 1660M412 1632L458 1577L503 1573M458 1654L503 1547L549 1681M186 1754L231 1638M186 1744L231 1660L276 1747M458 1725L503 1726L549 1653M503 1683L549 1752L594 1648" stroke="#c4dd22"/>
<path d="M186 1588L231 1614M231 1615L276 1591L322 1698M276 1675L322 1597L367 1621M367 1722L412 1595L458 1686M412 1661L458 1580L503 1588M186 1753L231 1637M186 1742L231 1656L276 1744M231 1649L276 1747L322 1714M276 1691L322 1779L367 1699M322 1724L367 1752L412 1713M458 1667L503 1725L549 1681M503 1684L549 1749L594 1674M549 1646L594 1721" stroke="#a3d31e"/>
<path d="M186 1588L231 1579M231 1598L276 1593L322 1689M412 1723L458 1581L503 1619M503 1629L549 1572L594 1637M549 1602L594 1561M231 1635L276 1746L322 1730M276 1672L322 1778L367 1717M322 1727L367 1752L412 1698M412 1697L458 1738L503 1635M549 1668L594 1720" stroke="#82c81c"/>
<path d="M186 1590L231 1586M231 1603L276 1594L322 1668M276 1682L322 1600L367 1721M322 1652L367 1586L412 1723M367 1676L412 1599L458 1698M412 1704L458 1583L503 1622M458 1668L503 1550L549 1655M503 1659L549 1572L594 1623M186 1751L231 1634M231 1634L276 1746L322 1686M412 1704L458 1736L503 1672M503 1652L549 1743L594 1628M549 1691L594 1720" stroke="#82ca24"/>
<path d="M186 1591L231 1579M367 1685L412 1602L458 1691M412 1691L458 1585L503 1619M549 1641L594 1562M186 1749L231 1624M186 1748L231 1645L276 1744M322 1723L367 1750L412 1705M412 1691L458 1735L503 1650M503 1650L549 1742L594 1641" stroke="#81cc2c"/>
<path d="M322 1688L367 1590L412 1723M503 1638L549 1576L594 1638M549 1662L594 1562M186 1747L231 1628M186 1739L231 1642L276 1743M231 1635L276 1744L322 1711M276 1656L322 1776L367 1726M322 1722L367 1749L412 1696M458 1686L503 1720L549 1657" stroke="#81ce33"/>
<path d="M186 1593L231 1586M231 1598L276 1599L322 1692M322 1716L367 1593L412 1723M367 1683L412 1605L458 1608M412 1702L458 1588L503 1653M503 1584L549 1576L594 1645M231 1617L276 1744L322 1691" stroke="#80d03b"/>
<path d="M231 1589L276 1601L322 1702M367 1722L412 1608L458 1704M186 1745L231 1629M231 1627L276 1744L322 1707M322 1763L367 1747L412 1701M412 1707L458 1731L503 1672M503 1689L549 1734L594 1654" stroke="#7fd984"/>
<path d="M231 1600L276 1602L322 1669M322 1679L367 1597L412 1709M367 1722L412 1611L458 1690M412 1702L458 1592L503 1624M458 1606L503 1557L549 1672M549 1676L594 1563M186 1743L231 1613M186 1735L231 1630L276 1742M231 1613L276 1743L322 1714M412 1699L458 1730L503 1667M458 1724L503 1716L549 1712M503 1640L549 1733L594 1650M549 1715L594 1714" stroke="#7bddc4"/>
<path d="M186 1595L231 1613M367 1708L412 1614L458 1688M412 1719L458 1595L503 1639M458 1684L503 1558L549 1643M503 1575L549 1581L594 1632M549 1675L594 1564M186 1742L231 1617M186 1737L231 1627L276 1740M231 1622L276 1743L322 1726M276 1736L322 1774L367 1694M322 1688L367 1746L412 1698M458 1684L503 1715L549 1686" stroke="#71d5e0"/>
<path d="M186 1596L231 1611M231 1618L276 1605L322 1667M276 1683L322 1610L367 1672M322 1645L367 1602L412 1700M412 1698L458 1597L503 1632M458 1691L503 1560L549 1673M503 1651L549 1583L594 1652M549 1656L594 1564M276 1739L322 1773L367 1686M322 1698L367 1745L412 1700M412 1703L458 1728L503 1666M458 1677L503 1713L549 1683" stroke="#51acdd"/>
<path d="M186 1599L231 1605M186 1601L231 1602M186 1600L231 1616M231 1591L276 1608L322 1683M231 1585L276 1607L322 1641M231 1622L276 1606L322 1683M276 1663L322 1611L367 1673M276 1678L322 1613L367 1681M276 1662L322 1611L367 1690M322 1709L367 1604L412 1691M322 1728L367 1604L412 1708M322 1718L367 1610L412 1706M367 1693L412 1620L458 1699M367 1682L412 1618L458 1701M367 1689L412 1622L458 1691M412 1690L458 1603L503 1626M412 1702L458 1600L503 1631M412 1699L458 1602L503 1610M458 1663L503 1563L549 1639M458 1691L503 1563L549 1644M458 1672L503 1561L549 1653M503 1620L549 1588L594 1639M503 1631L549 1586L594 1572M503 1616L549 1585L594 1626M549 1654L594 1564M549 1645L594 1565M549 1634L594 1564M186 1738L231 1613M186 1738L231 1610M186 1737L231 1620M186 1737L231 1620L276 1735M186 1737L231 1622L276 1737M186 1737L231 1618L276 1737M231 1610L276 1740L322 1710M231 1611L276 1742L322 1708M231 1619L276 1741L322 1714M276 1682L322 1773L367 1685M276 1677L322 1771L367 1693M276 1693L322 1769L367 1698M322 1680L367 1744L412 1721M322 1718L367 1743L412 1701M322 1730L367 1743L412 1703M367 1701L412 1743L458 1686M367 1708L412 1744L458 1687M367 1699L412 1744L458 1683M412 1704L458 1726L503 1668M412 1708L458 1726L503 1672M412 1736L458 1726L503 1670M458 1688L503 1711L549 1670M458 1705L503 1712L549 1675M458 1689L503 1712L549 1682M503 1667L549 1723L594 1697M503 1627L549 1724L594 1635M503 1701L549 1725L594 1657M549 1671L594 1710M549 1707L594 1712M549 1656L594 1710" stroke="#3d7acf"/>
<path d="M186 1604L231 1591M186 1603L231 1594M186 1602L231 1580M231 1616L276 1609L322 1669M231 1607L276 1608L322 1685M231 1601L276 1608L322 1674M276 1671L322 1616L367 1645M276 1667L322 1615L367 1718M276 1674L322 1618L367 1687M322 1719L367 1615L412 1658M322 1687L367 1615L412 1719M322 1716L367 1612L412 1690M367 1689L412 1625L458 1662M367 1697L412 1624L458 1685M367 1678L412 1628L458 1663M412 1698L458 1604L503 1620M412 1721L458 1602L503 1649M412 1695L458 1603L503 1640M458 1682L503 1564L549 1665M458 1671L503 1566L549 1653M458 1685L503 1569L549 1656M503 1659L549 1587L594 1638M503 1646L549 1587L594 1620M503 1634L549 1586L594 1632M549 1638L594 1567M549 1659L594 1568M549 1635L594 1566M186 1738L231 1612M186 1736L231 1615M186 1737L231 1611M186 1734L231 1618L276 1732M186 1732L231 1619L276 1740M186 1733L231 1617L276 1732M231 1610L276 1740L322 1711M231 1617L276 1739L322 1689M231 1611L276 1738L322 1725M276 1692L322 1768L367 1698M276 1684L322 1768L367 1690M276 1684L322 1769L367 1688M322 1726L367 1743L412 1737M322 1729L367 1742L412 1707M322 1713L367 1743L412 1709M367 1735L412 1741L458 1685M367 1707L412 1743L458 1692M367 1706L412 1743L458 1689M412 1689L458 1725L503 1670M412 1708L458 1726L503 1662M412 1700L458 1726L503 1667M458 1684L503 1709L549 1651M458 1680L503 1708L549 1677M458 1689L503 1710L549 1676M503 1661L549 1722L594 1658M503 1680L549 1724L594 1669M503 1664L549 1723L594 1672M549 1671L594 1709M549 1719L594 1709M549 1671L594 1711" stroke="#3a61c5"/>
<path d="M186 1604L231 1597M186 1607L231 1603M186 1603L231 1611M231 1587L276 1609L322 1620M231 1601L276 1610L322 1676M231 1605L276 1609L322 1664M276 1658L322 1621L367 1701M276 1654L322 1620L367 1700M276 1661L322 1621L367 1698M322 1721L367 1615L412 1708M322 1703L367 1618L412 1723M322 1696L367 1621L412 1716M367 1722L412 1627L458 1694M367 1680L412 1630L458 1626M367 1621L412 1630L458 1680M412 1704L458 1606L503 1573M412 1714L458 1605L503 1621M412 1718L458 1606L503 1624M458 1682L503 1570L549 1660M458 1659L503 1570L549 1654M458 1675L503 1568L549 1668M503 1626L549 1591L594 1617M503 1626L549 1593L594 1619M503 1642L549 1590L594 1628M549 1644L594 1570M549 1666L594 1569M549 1645L594 1570M186 1736L231 1614M186 1736L231 1617M186 1736L231 1607M186 1736L231 1616L276 1736M186 1732L231 1616L276 1731M186 1731L231 1617L276 1731M231 1615L276 1738L322 1714M231 1613L276 1737L322 1726M231 1617L276 1739L322 1711M276 1692L322 1766L367 1690M276 1730L322 1766L367 1698M276 1682L322 1767L367 1690M322 1694L367 1742L412 1705M322 1719L367 1741L412 1722M322 1725L367 1741L412 1700M367 1709L412 1742L458 1682M367 1702L412 1741L458 1687M367 1701L412 1741L458 1686M412 1706L458 1724L503 1672M412 1703L458 1724L503 1670M412 1705L458 1724L503 1674M458 1688L503 1708L549 1678M458 1680L503 1708L549 1679M458 1687L503 1709L549 1682M503 1664L549 1721L594 1662M503 1664L549 1721L594 1666M503 1667L549 1720L594 1662M549 1671L594 1708M549 1677L594 1708M549 1680L594 1707" stroke="#3d57c1"/>
<path d="M186 1607L231 1593M186 1609L231 1620M186 1606L231 1607M231 1623L276 1611L322 1667M231 1585L276 1611L322 1676M231 1596L276 1611L322 1671M276 1662L322 1624L367 1712M276 1665L322 1622L367 1692M276 1662L322 1625L367 1709M322 1699L367 1621L412 1723M322 1664L367 1621L412 1723M322 1682L367 1624L412 1722M367 1717L412 1635L458 1668M367 1711L412 1632L458 1676M367 1717L412 1633L458 1694M412 1701L458 1609L503 1645M412 1688L458 1610L503 1620M412 1712L458 1612L503 1634M458 1662L503 1572L549 1651M458 1684L503 1570L549 1662M458 1627L503 1571L549 1660M503 1630L549 1593L594 1630M503 1642L549 1592L594 1662M503 1634L549 1594L594 1634M549 1656L594 1572M549 1641L594 1571M549 1646L594 1572M186 1735L231 1608M186 1734L231 1607M186 1735L231 1607M186 1731L231 1615L276 1734M186 1733L231 1615L276 1731M186 1733L231 1613L276 1735M231 1609L276 1737L322 1685M231 1611L276 1735L322 1724M231 1613L276 1736L322 1715M276 1680L322 1766L367 1734M276 1691L322 1765L367 1692M276 1687L322 1764L367 1708M322 1749L367 1740L412 1708M322 1716L367 1741L412 1705M322 1760L367 1740L412 1702M367 1708L412 1740L458 1688M367 1705L412 1740L458 1685M367 1693L412 1740L458 1709M412 1708L458 1724L503 1664M412 1706L458 1723L503 1667M412 1705L458 1723L503 1672M458 1723L503 1707L549 1674M458 1689L503 1707L549 1683M458 1680L503 1708L549 1676M503 1669L549 1720L594 1668M503 1670L549 1719L594 1704M503 1667L549 1718L594 1664M549 1684L594 1706M549 1679L594 1707M549 1679L594 1708" stroke="#5654c6"/>
<path d="M186 1612L231 1579M186 1612L231 1590M186 1612L231 1615M231 1599L276 1612L322 1672M231 1598L276 1611L322 1684M231 1613L276 1612L322 1678M276 1619L322 1628L367 1689M276 1664L322 1626L367 1692M276 1662L322 1625L367 1665M322 1698L367 1631L412 1632M322 1688L367 1627L412 1698M322 1699L367 1628L412 1717M367 1710L412 1639L458 1664M367 1685L412 1637L458 1690M367 1690L412 1636L458 1688M412 1695L458 1615L503 1620M412 1709L458 1614L503 1634M412 1688L458 1612L503 1626M458 1667L503 1575L549 1654M458 1670L503 1574L549 1658M458 1681L503 1575L549 1657M503 1631L549 1598L594 1616M503 1620L549 1597L594 1631M503 1622L549 1595L594 1626M549 1641L594 1573M549 1641L594 1573M549 1646L594 1573M186 1734L231 1608M186 1734L231 1613M186 1733L231 1608M186 1734L231 1613L276 1735M186 1732L231 1612L276 1732M186 1733L231 1611L276 1731M231 1611L276 1735L322 1718M231 1609L276 1735L322 1712M231 1609L276 1735L322 1714M276 1695L322 1763L367 1697M276 1697L322 1762L367 1703M276 1697L322 1763L367 1705M322 1722L367 1740L412 1704M322 1717L367 1739L412 1708M322 1716L367 1740L412 1703M367 1705L412 1739L458 1696M367 1704L412 1739L458 1687M367 1706L412 1739L458 1689M412 1711L458 1723L503 1666M412 1704L458 1722L503 1670M412 1702L458 1723L503 1690M458 1683L503 1706L549 1677M458 1684L503 1705L549 1674M458 1685L503 1706L549 1682M503 1669L549 1718L594 1665M503 1671L549 1718L594 1699M503 1663L549 1718L594 1662M549 1677L594 1705M549 1679L594 1705M549 1673L594 1706" stroke="#7a54cd"/>
<path d="M186 1614L231 1589M186 1614L231 1610M186 1614L231 1590M231 1593L276 1613L322 1682M231 1583L276 1613L322 1675M231 1589L276 1613L322 1674M276 1653L322 1628L367 1690M276 1654L322 1631L367 1701M276 1663L322 1630L367 1676M322 1707L367 1631L412 1706M322 1699L367 1635L412 1697M322 1685L367 1634L412 1715M367 1712L412 1643L458 1681M367 1712L412 1643L458 1666M367 1689L412 1640L458 1652M412 1708L458 1617L503 1631M412 1707L458 1617L503 1625M412 1698L458 1617L503 1611M458 1668L503 1578L549 1658M458 1664L503 1578L549 1642M458 1678L503 1578L549 1647M503 1617L549 1598L594 1619M503 1631L549 1599L594 1630M503 1619L549 1601L594 1616M549 1651L594 1574M549 1643L594 1575M549 1639L594 1576M186 1732L231 1605M186 1733L231 1609M186 1733L231 1610M186 1731L231 1611L276 1728M186 1731L231 1610L276 1731M186 1730L231 1611L276 1729M231 1605L276 1732L322 1720M231 1604L276 1732L322 1681M231 1606L276 1733L322 1723M276 1695L322 1759L367 1704M276 1698L322 1760L367 1696M276 1733L322 1760L367 1702M322 1717L367 1739L412 1706M322 1722L367 1739L412 1708M322 1718L367 1739L412 1703M367 1708L412 1738L458 1689M367 1732L412 1738L458 1689M367 1706L412 1738L458 1720M412 1723L458 1721L503 1668M412 1703L458 1722L503 1669M412 1704L458 1722L503 1672M458 1690L503 1704L549 1681M458 1689L503 1703L549 1675M458 1687L503 1704L549 1675M503 1661L549 1717L594 1703M503 1671L549 1716L594 1637M503 1663L549 1717L594 1669M549 1677L594 1703M549 1675L594 1704M549 1676L594 1704" stroke="#a054d0"/>
<path d="M186 1617L191 1613L197 1609L201 1605L206 1599L213 1588L218 1577L223 1566L226 1555L229 1547L231 1538L233 1546L236 1553L239 1563L244 1572L249 1582L256 1593L260 1598L265 1603L271 1609L276 1615L299 1645L322 1634L344 1663L367 1639L390 1671L412 1647L435 1660L458 1621L480 1625L503 1581L526 1615L549 1603L571 1611L594 1578L594 1703L571 1691L549 1714L526 1691L503 1703L480 1695L458 1721L435 1713L412 1737L390 1722L367 1738L344 1730L322 1757L299 1726L276 1731L231 1608L186 1731Z" fill="#c64abd" stroke="none"/>
<path d="M186 1616L231 1618M186 1616L231 1586M186 1616L231 1623M231 1582L276 1615L322 1678M231 1600L276 1615L322 1677M231 1582L276 1615L322 1673M276 1610L322 1633L367 1701M276 1653L322 1633L367 1694M276 1652L322 1633L367 1680M322 1686L367 1639L412 1638M322 1682L367 1638L412 1702M322 1701L367 1637L412 1650M367 1704L412 1644L458 1666M367 1701L412 1646L458 1667M367 1641L412 1646L458 1685M412 1705L458 1620L503 1630M412 1701L458 1621L503 1633M412 1695L458 1618L503 1628M458 1676L503 1580L549 1647M458 1666L503 1581L549 1649M458 1670L503 1579L549 1646M503 1626L549 1603L594 1619M503 1634L549 1602L594 1621M503 1620L549 1602L594 1615M549 1641L594 1578M549 1646L594 1577M549 1643L594 1576M186 1732L231 1607M186 1732L231 1605M186 1731L231 1606M186 1731L231 1609L276 1727M186 1730L231 1609L276 1731M186 1732L231 1609L276 1732M231 1603L276 1731L322 1719M231 1610L276 1732L322 1716M231 1607L276 1731L322 1721M276 1698L322 1757L367 1701M276 1729L322 1758L367 1700M276 1697L322 1758L367 1702M322 1725L367 1738L412 1704M322 1721L367 1738L412 1708M322 1725L367 1738L412 1704M367 1708L412 1738L458 1691M367 1707L412 1737L458 1689M367 1705L412 1738L458 1725M412 1707L458 1721L503 1666M412 1705L458 1721L503 1689M412 1708L458 1721L503 1670M458 1686L503 1703L549 1682M458 1688L503 1703L549 1681M458 1685L503 1702L549 1700M503 1663L549 1716L594 1664M503 1664L549 1714L594 1669M503 1667L549 1715L594 1665M549 1682L594 1703M549 1677L594 1703M549 1679L594 1702" stroke="#c64abd"/>
<path d="M186 1619L191 1615L197 1610L201 1605L206 1599L213 1588L218 1577L223 1566L226 1555L229 1547L231 1538L233 1546L236 1553L239 1563L244 1572L249 1582L256 1593L260 1599L265 1604L271 1610L276 1616L299 1646L322 1637L344 1665L367 1643L390 1673L412 1651L435 1661L458 1624L480 1626L503 1584L526 1616L549 1606L571 1612L594 1579L594 1701L571 1690L549 1713L526 1690L503 1701L480 1695L458 1720L435 1713L412 1736L390 1721L367 1737L344 1729L322 1755L299 1725L276 1730L231 1606L186 1730Z" fill="#dd3fa5" stroke="none"/>
<path d="M186 1618L231 1590M186 1619L231 1584M231 1595L276 1615L322 1678M231 1598L276 1615L322 1674M276 1652L322 1636L367 1690M276 1656L322 1636L367 1696M322 1685L367 1642L412 1711M322 1693L367 1641L412 1696M367 1702L412 1652L458 1673M367 1692L412 1648L458 1675M412 1691L458 1624L503 1633M412 1706L458 1622L503 1623M458 1664L503 1584L549 1655M458 1676L503 1584L549 1648M503 1620L549 1605L594 1620M503 1624L549 1607L594 1619M549 1642L594 1579M549 1645L594 1579M186 1730L231 1607M186 1731L231 1604M186 1731L231 1607L276 1730M186 1730L231 1607L276 1727M231 1605L276 1730L322 1717M231 1603L276 1730L322 1720M276 1694L322 1756L367 1701M276 1696L322 1757L367 1705M322 1720L367 1737L412 1708M322 1722L367 1737L412 1704M367 1707L412 1737L458 1689M367 1706L412 1736L458 1690M412 1704L458 1720L503 1671M412 1707L458 1720L503 1670M458 1686L503 1702L549 1676M458 1687L503 1702L549 1681M503 1668L549 1714L594 1671M503 1665L549 1712L594 1665M549 1682L594 1702M549 1683L594 1701" stroke="#dd3fa5"/>
<path d="M186 1622L191 1617L197 1611L201 1605L206 1599L213 1588L218 1577L223 1566L226 1555L229 1547L231 1538L233 1546L236 1553L239 1563L244 1572L249 1582L256 1593L260 1599L265 1604L271 1611L276 1617L299 1647L322 1640L344 1666L367 1648L390 1675L412 1655L435 1662L458 1627L480 1627L503 1586L526 1617L549 1608L571 1613L594 1581L594 1700L571 1690L549 1711L526 1690L503 1700L480 1694L458 1719L435 1713L412 1736L390 1721L367 1736L344 1729L322 1753L299 1724L276 1728L231 1604L186 1729Z" fill="#e8348b" stroke="none"/>
<path d="M186 1622L231 1580M186 1622L231 1595M231 1601L276 1618L322 1680M231 1623L276 1616L322 1676M276 1656L322 1641L367 1698M276 1651L322 1641L367 1692M322 1689L367 1648L412 1710M322 1686L367 1649L412 1705M367 1688L412 1652L458 1672M367 1689L412 1656L458 1670M412 1699L458 1628L503 1632M412 1701L458 1627L503 1629M458 1670L503 1585L549 1650M458 1673L503 1587L549 1644M503 1621L549 1607L594 1617M503 1630L549 1607L594 1615M549 1646L594 1581M549 1644L594 1581M186 1730L231 1604M186 1730L231 1604M186 1729L231 1605L276 1727M186 1729L231 1605L276 1727M231 1603L276 1729L322 1719M231 1605L276 1729L322 1720M276 1691L322 1754L367 1706M276 1697L322 1753L367 1702M322 1719L367 1736L412 1707M322 1722L367 1736L412 1708M367 1707L412 1735L458 1689M367 1706L412 1736L458 1688M412 1705L458 1718L503 1668M412 1705L458 1719L503 1668M458 1689L503 1700L549 1677M458 1686L503 1700L549 1680M503 1669L549 1711L594 1666M503 1667L549 1712L594 1667M549 1680L594 1700M549 1677L594 1700" stroke="#e8348b"/>
<path d="M186 1624L191 1618L197 1612L201 1606L206 1599L213 1588L218 1577L223 1566L226 1555L229 1547L231 1538L233 1546L236 1553L239 1563L244 1572L249 1582L256 1593L260 1599L265 1605L271 1612L276 1618L299 1648L322 1643L344 1668L367 1653L390 1676L412 1659L435 1664L458 1630L480 1628L503 1589L526 1618L549 1611L571 1614L594 1583L594 1699L571 1689L549 1710L526 1689L503 1699L480 1694L458 1718L435 1712L412 1735L390 1721L367 1735L344 1728L322 1751L299 1723L276 1726L231 1603L186 1728Z" fill="#ea3174" stroke="none"/>
<path d="M186 1624L231 1608M186 1624L231 1618M231 1614L276 1618L322 1678M231 1582L276 1618L322 1678M276 1656L322 1642L367 1689M276 1653L322 1644L367 1696M322 1687L367 1653L412 1700M322 1685L367 1653L412 1700M367 1701L412 1657L458 1673M367 1690L412 1658L458 1672M412 1696L458 1630L503 1628M412 1694L458 1631L503 1626M458 1672L503 1588L549 1648M458 1665L503 1590L549 1648M503 1623L549 1610L594 1620M503 1627L549 1611L594 1617M549 1645L594 1584M549 1644L594 1584M186 1728L231 1601M186 1728L231 1602M186 1727L231 1603L276 1725M186 1728L231 1604L276 1726M231 1603L276 1727L322 1722M231 1602L276 1727L322 1718M276 1695L322 1751L367 1704M276 1693L322 1751L367 1706M322 1722L367 1735L412 1707M322 1722L367 1735L412 1706M367 1706L412 1735L458 1689M367 1706L412 1735L458 1690M412 1706L458 1718L503 1668M412 1706L458 1718L503 1669M458 1690L503 1699L549 1681M458 1690L503 1699L549 1677M503 1669L549 1710L594 1667M503 1669L549 1710L594 1667M549 1681L594 1698M549 1679L594 1699" stroke="#ea3174"/>
<path d="M186 1627L191 1620L197 1613L201 1606L206 1600L213 1588L218 1577L223 1566L226 1555L229 1547L231 1538L233 1546L236 1553L239 1563L244 1572L249 1582L256 1593L260 1599L265 1605L271 1613L276 1619L299 1648L322 1646L344 1670L367 1658L390 1678L412 1663L435 1665L458 1634L480 1629L503 1592L526 1619L549 1613L571 1615L594 1585L594 1697L571 1689L549 1708L526 1689L503 1697L480 1693L458 1717L435 1712L412 1734L390 1720L367 1734L344 1727L322 1749L299 1723L276 1725L231 1601L186 1727Z" fill="#eb2f5e" stroke="none"/>
<path d="M186 1625L231 1595M186 1628L231 1593M231 1608L276 1619L322 1677M231 1615L276 1619L322 1678M276 1649L322 1647L367 1691M276 1651L322 1647L367 1692M322 1686L367 1655L412 1704M322 1679L367 1656L412 1704M367 1692L412 1663L458 1667M367 1695L412 1661L458 1671M412 1699L458 1633L503 1626M412 1696L458 1635L503 1626M458 1667L503 1592L549 1644M458 1667L503 1593L549 1644M503 1625L549 1613L594 1619M503 1625L549 1614L594 1617M549 1644L594 1585M549 1645L594 1586M186 1728L231 1601M186 1728L231 1601M186 1727L231 1601L276 1725M186 1727L231 1601L276 1725M231 1600L276 1724L322 1719M231 1600L276 1725L322 1721M276 1695L322 1750L367 1706M276 1697L322 1749L367 1706M322 1721L367 1733L412 1707M322 1721L367 1733L412 1706M367 1706L412 1734L458 1690M367 1706L412 1734L458 1690M412 1707L458 1717L503 1669M412 1706L458 1717L503 1670M458 1689L503 1697L549 1680M458 1688L503 1698L549 1679M503 1669L549 1709L594 1669M503 1669L549 1707L594 1668M549 1680L594 1697M549 1679L594 1698" stroke="#eb2f5e"/>
<path d="M186 1630L191 1622L197 1613L201 1607L206 1600L213 1588L218 1577L223 1566L226 1555L229 1547L231 1538L233 1546L236 1553L239 1563L244 1572L249 1582L256 1593L260 1599L265 1605L271 1613L276 1621L299 1649L322 1649L344 1671L367 1663L390 1680L412 1667L435 1667L458 1637L480 1631L503 1595L526 1620L549 1616L571 1616L594 1587L594 1696L571 1688L549 1706L526 1688L503 1696L480 1693L458 1716L435 1711L412 1733L390 1720L367 1733L344 1727L322 1747L299 1722L276 1723L231 1599L186 1726Z" fill="#e93148" stroke="none"/>
<path d="M186 1629L231 1584M186 1629L231 1599M231 1589L276 1621L322 1678M231 1588L276 1621L322 1679M276 1649L322 1648L367 1695M276 1650L322 1650L367 1693M322 1680L367 1663L412 1696M322 1682L367 1662L412 1699M367 1695L412 1666L458 1666M367 1693L412 1668L458 1667M412 1696L458 1637L503 1625M412 1698L458 1636L503 1626M458 1667L503 1594L549 1646M458 1667L503 1595L549 1645M503 1625L549 1615L594 1617M503 1625L549 1616L594 1616M549 1645L594 1587M549 1645L594 1587M186 1727L231 1599M186 1727L231 1599M186 1726L231 1600L276 1724M186 1727L231 1600L276 1724M231 1598L276 1723L322 1720M231 1599L276 1724L322 1720M276 1697L322 1746L367 1707M276 1697L322 1747L367 1707M322 1721L367 1733L412 1707M322 1721L367 1733L412 1707M367 1707L412 1733L458 1690M367 1707L412 1733L458 1690M412 1707L458 1716L503 1670M412 1707L458 1716L503 1670M458 1690L503 1696L549 1680M458 1690L503 1696L549 1679M503 1669L549 1707L594 1670M503 1670L549 1706L594 1670M549 1680L594 1695M549 1680L594 1696" stroke="#e93148"/>
<polygon points="185.6,1631.6 191,1623.2 196.9,1614.1 201.5,1607 206,1599.7 212.8,1587.8 218.3,1576.7 222.8,1565.6 226.4,1554.8 228.7,1547 231,1538.3 233.2,1546.1 235.5,1553 239.1,1562.5 243.7,1572.5 249.1,1582.3 255.9,1592.9 260.5,1599.4 265,1605.8 270.9,1613.9 276.3,1621.4 299,1650 321.7,1651.7 344.4,1672.3 367.1,1666 389.8,1681.2 412.4,1669.6 435.1,1667.8 457.8,1639.2 480.5,1631.4 503.2,1596.8 525.8,1620.7 548.5,1617.8 571.2,1616.4 593.9,1588.3 593.9,1695.1 571.2,1687.7 548.5,1705.4 525.8,1687.7 503.2,1695.1 480.5,1692.6 457.8,1715.2 435.1,1711.2 412.4,1732.2 389.8,1719.7 367.1,1732.2 344.4,1726.4 321.7,1745.6 299,1721.4 276.3,1722.3 231,1597.7 185.6,1725.5" fill="#e8313f" stroke="#e8313f" stroke-width="1.5"/>
</g>
<g stroke="#000" stroke-width="2.1" fill="none" stroke-linecap="square">
<path d="M169.5 1532V1755.4"/>
<path d="M157 1532H169.5"/>
<path d="M157 1576.7H169.5"/>
<path d="M157 1621.4H169.5"/>
<path d="M157 1666H169.5"/>
<path d="M157 1710.7H169.5"/>
<path d="M157 1755.4H169.5"/>
<path d="M185.6 1788.3H593.9"/>
<path d="M185.6 1788.3V1801.3"/>
<path d="M231 1788.3V1801.3"/>
<path d="M276.3 1788.3V1801.3"/>
<path d="M321.7 1788.3V1801.3"/>
<path d="M367.1 1788.3V1801.3"/>
<path d="M412.4 1788.3V1801.3"/>
<path d="M457.8 1788.3V1801.3"/>
<path d="M503.2 1788.3V1801.3"/>
<path d="M548.5 1788.3V1801.3"/>
<path d="M593.9 1788.3V1801.3"/>
</g>
<text transform="translate(147 1532) rotate(-90)" text-anchor="middle" font-size="18.5">3</text>
<text transform="translate(147 1576.7) rotate(-90)" text-anchor="middle" font-size="18.5">2</text>
<text transform="translate(147 1621.4) rotate(-90)" text-anchor="middle" font-size="18.5">1</text>
<text transform="translate(147 1666) rotate(-90)" text-anchor="middle" font-size="18.5">0</text>
<text transform="translate(147 1714.7) rotate(-90)" text-anchor="middle" font-size="18.5">−1</text>
<text transform="translate(147 1759.4) rotate(-90)" text-anchor="middle" font-size="18.5">−2</text>
<text transform="translate(118 1652) rotate(-90)" text-anchor="middle" font-size="19.4">Expression changes</text>
<text x="355.5" y="1509" text-anchor="middle" font-size="25">Cluster 7</text>
<text transform="translate(187.7 1811.1) rotate(-30)" text-anchor="end" font-size="19.3" stroke="#000" stroke-width="0.35">Rumen</text>
<text transform="translate(236.9 1811.1) rotate(-30)" text-anchor="end" font-size="19.3">Reticulum</text>
<text transform="translate(285.1 1811.1) rotate(-30)" text-anchor="end" font-size="19.3">Omasum</text>
<text transform="translate(330.2 1811.1) rotate(-30)" text-anchor="end" font-size="19.3" stroke="#000" stroke-width="0.35">Abomasum</text>
<text transform="translate(376.1 1811.1) rotate(-30)" text-anchor="end" font-size="19.3">Duodenum</text>
<text transform="translate(416.9 1811.1) rotate(-30)" text-anchor="end" font-size="19.3">Jejunum</text>
<text transform="translate(465.7 1811.1) rotate(-30)" text-anchor="end" font-size="19.3" stroke="#000" stroke-width="0.35">Ileum</text>
<text transform="translate(511.4 1811.1) rotate(-30)" text-anchor="end" font-size="19.3">Cecum</text>
<text transform="translate(557.3 1811.1) rotate(-30)" text-anchor="end" font-size="19.3" stroke="#000" stroke-width="0.35">Colon</text>
<text transform="translate(600.6 1811.1) rotate(-30)" text-anchor="end" font-size="19.3">Rectumi</text>
</g>
<g id="bar7">
<rect x="204.9" y="1919.8" width="184.5" height="17.2" fill="#c8475f"/>
<rect x="204.9" y="1945.3" width="189.2" height="17.2" fill="#4a71b5"/>
<rect x="204.9" y="1971.1" width="200.1" height="17.2" fill="#4a71b5"/>
<rect x="204.9" y="1997" width="233.4" height="17.2" fill="#4a71b5"/>
<rect x="204.9" y="2022.5" width="294.1" height="17.2" fill="#c8475f"/>
<rect x="204.9" y="2048.3" width="312.9" height="17.2" fill="#c8475f"/>
<rect x="204.9" y="2073.8" width="376" height="17.2" fill="#c8475f"/>
<rect x="204.9" y="2099.6" width="377.2" height="17.2" fill="#c8475f"/>
<rect x="204.9" y="2125.5" width="393.2" height="17.2" fill="#c8475f"/>
<polyline points="260.5,1928.4 311.4,1953.9 318.9,1979.7 308.3,2005.6 272.6,2031.1 278.5,2056.9 308.3,2082.4 303.6,2108.2 312.6,2134.1" fill="none" stroke="#f0b26e" stroke-width="2.8" stroke-linejoin="round"/>
<circle cx="260.5" cy="1928.4" r="4.4" fill="#f0b26e"/>
<circle cx="311.4" cy="1953.9" r="4.4" fill="#f0b26e"/>
<circle cx="318.9" cy="1979.7" r="4.4" fill="#f0b26e"/>
<circle cx="308.3" cy="2005.6" r="4.4" fill="#f0b26e"/>
<circle cx="272.6" cy="2031.1" r="4.4" fill="#f0b26e"/>
<circle cx="278.5" cy="2056.9" r="4.4" fill="#f0b26e"/>
<circle cx="308.3" cy="2082.4" r="4.4" fill="#f0b26e"/>
<circle cx="303.6" cy="2108.2" r="4.4" fill="#f0b26e"/>
<circle cx="312.6" cy="2134.1" r="4.4" fill="#f0b26e"/>
<g stroke="#111" stroke-width="1.5" fill="none">
<path d="M204.9 1918.6V2143.1"/>
<path d="M204.9 1918.6H598.1"/>
<path d="M204.9 2143.1H598.1"/>
<path d="M201.4 1928.4H204.9"/>
<path d="M201.4 1953.9H204.9"/>
<path d="M201.4 1979.7H204.9"/>
<path d="M201.4 2005.6H204.9"/>
<path d="M201.4 2031.1H204.9"/>
<path d="M201.4 2056.9H204.9"/>
<path d="M201.4 2082.4H204.9"/>
<path d="M201.4 2108.2H204.9"/>
<path d="M201.4 2134.1H204.9"/>
<path d="M204.9 1915.1V1918.6"/>
<path d="M340 1915.1V1918.6"/>
<path d="M475.1 1915.1V1918.6"/>
<path d="M204.9 2143.1V2146.6"/>
<path d="M340 2143.1V2146.6"/>
<path d="M475.1 2143.1V2146.6"/>
</g>
<g font-size="16" fill="#1a1a1a">
<text x="198.9" y="1932.1" text-anchor="end">Sarcolemma</text>
<text x="198.9" y="1957.6" text-anchor="end">Muscle cell differentiation</text>
<text x="198.9" y="1983.4" text-anchor="end">Muscle system process</text>
<text x="198.9" y="2009.3" text-anchor="end">Muscle contraction</text>
<text x="198.9" y="2034.8" text-anchor="end">Z disc</text>
<text x="198.9" y="2060.6" text-anchor="end">I band</text>
<text x="198.9" y="2086.1" text-anchor="end">Myofibril</text>
<text x="198.9" y="2111.9" text-anchor="end">Sarcomere</text>
<text x="198.9" y="2137.8" text-anchor="end">Contractile muscle fiber</text>
<text x="204.9" y="1914.1" text-anchor="middle">0</text>
<text x="340" y="1914.1" text-anchor="middle">50</text>
<text x="475.1" y="1914.1" text-anchor="middle">100</text>
<text x="204.9" y="2162.1" text-anchor="middle">0</text>
<text x="340" y="2162.1" text-anchor="middle">10</text>
<text x="475.1" y="2162.1" text-anchor="middle">20</text>
<text x="502.6" y="1941.2">ONTOLOGY</text>
<rect x="521" y="1948.8" width="16.4" height="16.3" fill="#4a71b5"/>
<text x="542.9" y="1962.7">BP</text>
<rect x="521" y="1967.6" width="16.4" height="16.3" fill="#c8475f"/>
<text x="542.9" y="1981.5">CC</text>
<text x="359.6" y="2188.5" text-anchor="middle">−log<tspan font-size="9" dy="4">10</tspan><tspan dy="-4" font-style="italic">P</tspan></text>
</g>
<text x="384.7" y="1887.4" text-anchor="middle" font-size="19" fill="#111">Gene count</text>
</g>
<g id="line8">
<clipPath id="c8"><rect x="829.5" y="1518.9" width="410.3" height="270.7"/></clipPath>
<g clip-path="url(#c8)" fill="none" stroke-width="1.9" stroke-linejoin="round">
<path d="M921 1595L967 1579L1012 1655M1194 1673L1239 1571M830 1655L876 1738L921 1634M1012 1715L1057 1749L1103 1736M1103 1700L1148 1745L1194 1706" stroke="#e6e02c"/>
<path d="M921 1595L967 1580L1012 1640M967 1675L1012 1570L1057 1694M1012 1605L1057 1578L1103 1645M1148 1645L1194 1564L1239 1633M1194 1669L1239 1573M876 1673L921 1705L967 1776M967 1766L1012 1756L1057 1733M1012 1720L1057 1748L1103 1697M1057 1691L1103 1753L1148 1685M1103 1703L1148 1745L1194 1701M1194 1699L1239 1746" stroke="#c4dd22"/>
<path d="M967 1656L1012 1571L1057 1671M1103 1678L1148 1566L1194 1628M1148 1684L1194 1565L1239 1671M830 1725L876 1682M830 1687L876 1733L921 1655M876 1662L921 1703L967 1776M1057 1717L1103 1752L1148 1696M1194 1694L1239 1744" stroke="#a3d31e"/>
<path d="M1012 1697L1057 1582L1103 1669M1194 1655L1239 1575M830 1724L876 1660M830 1673L876 1730L921 1678M876 1672L921 1703L967 1776M1012 1732L1057 1745L1103 1679M1194 1696L1239 1743" stroke="#82c81c"/>
<path d="M1012 1649L1057 1584L1103 1666M1057 1681L1103 1577L1148 1660M1057 1666L1103 1750L1148 1649M1103 1706L1148 1742L1194 1701M1194 1714L1239 1742" stroke="#82ca24"/>
<path d="M921 1583L967 1582L1012 1655M967 1664L1012 1575L1057 1609M1194 1649L1239 1577M830 1670L876 1726L921 1645M1012 1708L1057 1744L1103 1706" stroke="#81cc2c"/>
<path d="M921 1612L967 1583L1012 1606M1148 1668L1194 1568L1239 1601M830 1718L876 1609M967 1738L1012 1748L1057 1707M1012 1714L1057 1743L1103 1707M1057 1704L1103 1748L1148 1704" stroke="#81ce33"/>
<path d="M921 1609L967 1584L1012 1593M967 1615L1012 1579L1057 1686M1148 1654L1194 1568L1239 1607M1194 1630L1239 1579M830 1666L876 1721L921 1658M1012 1713L1057 1742L1103 1648M1057 1666L1103 1747L1148 1700M1148 1710L1194 1738L1239 1681" stroke="#80d03b"/>
<path d="M967 1668L1012 1579L1057 1682M830 1715L876 1671M830 1675L876 1720L921 1678M1012 1711L1057 1741L1103 1703M1057 1700L1103 1745L1148 1705M1103 1717L1148 1740L1194 1725M1148 1733L1194 1737L1239 1660M1194 1705L1239 1737" stroke="#7fd984"/>
<path d="M921 1620L967 1585L1012 1598M967 1700L1012 1581L1057 1684M1057 1681L1103 1580L1148 1653M1103 1614L1148 1574L1194 1671M1148 1664L1194 1570L1239 1644M1194 1625L1239 1582M830 1713L876 1671M830 1648L876 1717L921 1642M876 1654L921 1695L967 1776M967 1750L1012 1743L1057 1714M1012 1715L1057 1740L1103 1688M1057 1702L1103 1744L1148 1648M1103 1707L1148 1739L1194 1709M1148 1684L1194 1734L1239 1642M1194 1725L1239 1736" stroke="#7bddc4"/>
<path d="M1148 1657L1194 1570L1239 1639M1194 1649L1239 1583M830 1712L876 1698M830 1677L876 1714L921 1654M967 1744L1012 1741L1057 1712M1012 1688L1057 1739L1103 1698M1103 1725L1148 1739L1194 1708M1148 1667L1194 1732L1239 1692" stroke="#71d5e0"/>
<path d="M967 1657L1012 1584L1057 1658M1012 1644L1057 1594L1103 1657M1148 1636L1194 1571L1239 1665M830 1710L876 1661M876 1677L921 1692L967 1774M1012 1715L1057 1738L1103 1699M1057 1672L1103 1742L1148 1705M1103 1719L1148 1738L1194 1708M1148 1716L1194 1729L1239 1713M1194 1692L1239 1734" stroke="#51acdd"/>
<path d="M830 1594L876 1556L921 1613M830 1585L876 1556L921 1619M830 1585L876 1556L921 1598M921 1618L967 1590L1012 1687M921 1603L967 1589L1012 1655M921 1615L967 1588L1012 1647M967 1658L1012 1589L1057 1679M967 1664L1012 1587L1057 1658M967 1648L1012 1584L1057 1621M1012 1656L1057 1598L1103 1657M1012 1652L1057 1598L1103 1661M1012 1661L1057 1600L1103 1659M1057 1671L1103 1584L1148 1685M1057 1650L1103 1584L1148 1635M1057 1662L1103 1584L1148 1635M1103 1651L1148 1580L1194 1648M1103 1651L1148 1580L1194 1640M1103 1652L1148 1579L1194 1648M1148 1664L1194 1571L1239 1684M1148 1663L1194 1575L1239 1657M1148 1653L1194 1574L1239 1642M1194 1586L1239 1584M1194 1596L1239 1584M1194 1630L1239 1584M830 1709L876 1668M830 1709L876 1659M830 1709L876 1677M830 1675L876 1710L921 1655M830 1669L876 1712L921 1654M830 1678L876 1712L921 1654M876 1708L921 1689L967 1774M876 1677L921 1691L967 1775M876 1650L921 1690L967 1773M921 1679L967 1776L1012 1715M921 1680L967 1776L1012 1711M921 1687L967 1775L1012 1730M967 1664L1012 1737L1057 1709M967 1752L1012 1737L1057 1715M967 1748L1012 1738L1057 1710M1012 1709L1057 1737L1103 1713M1012 1716L1057 1736L1103 1707M1012 1708L1057 1737L1103 1667M1057 1712L1103 1741L1148 1703M1057 1716L1103 1741L1148 1713M1057 1661L1103 1741L1148 1704M1103 1710L1148 1736L1194 1706M1103 1708L1148 1737L1194 1650M1103 1710L1148 1737L1194 1705M1148 1713L1194 1726L1239 1710M1148 1716L1194 1726L1239 1706M1148 1717L1194 1726L1239 1713M1194 1706L1239 1732M1194 1704L1239 1732M1194 1704L1239 1732" stroke="#3d7bcf"/>
<path d="M830 1603L876 1556L921 1594M830 1610L876 1556L921 1590M830 1582L876 1556L921 1611M921 1584L967 1593L1012 1656M921 1599L967 1590L1012 1655M921 1593L967 1593L1012 1665M967 1655L1012 1589L1057 1674M967 1650L1012 1588L1057 1653M967 1643L1012 1592L1057 1669M1012 1661L1057 1601L1103 1650M1012 1672L1057 1600L1103 1635M1012 1666L1057 1599L1103 1652M1057 1655L1103 1587L1148 1656M1057 1663L1103 1584L1148 1661M1057 1679L1103 1586L1148 1661M1103 1661L1148 1582L1194 1648M1103 1649L1148 1582L1194 1580M1103 1666L1148 1581L1194 1648M1148 1648L1194 1576L1239 1602M1148 1637L1194 1576L1239 1643M1148 1658L1194 1579L1239 1603M1194 1639L1239 1587M1194 1642L1239 1588M1194 1633L1239 1587M830 1704L876 1671M830 1703L876 1668M830 1705L876 1667M830 1669L876 1709L921 1649M830 1668L876 1710L921 1662M830 1663L876 1709L921 1654M876 1643L921 1689L967 1771M876 1644L921 1689L967 1775M876 1670L921 1689L967 1774M921 1686L967 1776L1012 1716M921 1688L967 1775L1012 1713M921 1681L967 1776L1012 1711M967 1753L1012 1736L1057 1728M967 1750L1012 1736L1057 1729M967 1751L1012 1736L1057 1706M1012 1711L1057 1736L1103 1715M1012 1710L1057 1735L1103 1719M1012 1715L1057 1736L1103 1714M1057 1708L1103 1740L1148 1710M1057 1671L1103 1738L1148 1707M1057 1675L1103 1740L1148 1712M1103 1717L1148 1736L1194 1707M1103 1676L1148 1736L1194 1703M1103 1709L1148 1736L1194 1705M1148 1694L1194 1726L1239 1711M1148 1717L1194 1726L1239 1706M1148 1713L1194 1726L1239 1711M1194 1704L1239 1731M1194 1705L1239 1731M1194 1705L1239 1732" stroke="#3a62c5"/>
<path d="M830 1602L876 1557L921 1597M830 1590L876 1557L921 1584M830 1582L876 1558L921 1620M921 1587L967 1593L1012 1680M921 1613L967 1594L1012 1644M921 1601L967 1594L1012 1664M967 1654L1012 1595L1057 1680M967 1595L1012 1592L1057 1669M967 1657L1012 1594L1057 1676M1012 1599L1057 1604L1103 1662M1012 1644L1057 1604L1103 1661M1012 1652L1057 1603L1103 1653M1057 1662L1103 1589L1148 1595M1057 1658L1103 1588L1148 1634M1057 1664L1103 1587L1148 1643M1103 1658L1148 1585L1194 1658M1103 1661L1148 1586L1194 1645M1103 1646L1148 1584L1194 1659M1148 1650L1194 1581L1239 1647M1148 1650L1194 1580L1239 1646M1148 1658L1194 1582L1239 1648M1194 1639L1239 1589M1194 1643L1239 1589M1194 1626L1239 1589M830 1701L876 1678M830 1704L876 1677M830 1702L876 1680M830 1665L876 1709L921 1654M830 1676L876 1708L921 1659M830 1662L876 1708L921 1650M876 1671L921 1685L967 1770M876 1669L921 1686L967 1774M876 1670L921 1687L967 1774M921 1682L967 1774L1012 1712M921 1680L967 1774L1012 1716M921 1680L967 1774L1012 1712M967 1747L1012 1736L1057 1712M967 1749L1012 1735L1057 1708M967 1754L1012 1735L1057 1708M1012 1675L1057 1734L1103 1706M1012 1712L1057 1735L1103 1706M1012 1712L1057 1735L1103 1712M1057 1675L1103 1738L1148 1712M1057 1704L1103 1738L1148 1711M1057 1707L1103 1738L1148 1710M1103 1709L1148 1735L1194 1707M1103 1711L1148 1735L1194 1708M1103 1714L1148 1735L1194 1708M1148 1713L1194 1726L1239 1710M1148 1717L1194 1726L1239 1711M1148 1715L1194 1726L1239 1707M1194 1670L1239 1731M1194 1707L1239 1731M1194 1709L1239 1730" stroke="#3d58c2"/>
<path d="M830 1614L876 1558L921 1588M830 1584L876 1558L921 1592M830 1608L876 1558L921 1599M921 1618L967 1595L1012 1659M921 1609L967 1595L1012 1650M921 1595L967 1596L1012 1659M967 1655L1012 1595L1057 1673M967 1651L1012 1598L1057 1677M967 1658L1012 1595L1057 1671M1012 1667L1057 1605L1103 1643M1012 1645L1057 1605L1103 1652M1012 1654L1057 1607L1103 1655M1057 1672L1103 1590L1148 1650M1057 1667L1103 1589L1148 1658M1057 1602L1103 1591L1148 1645M1103 1650L1148 1589L1194 1647M1103 1645L1148 1587L1194 1641M1103 1649L1148 1587L1194 1652M1148 1636L1194 1582L1239 1648M1148 1646L1194 1583L1239 1637M1148 1648L1194 1581L1239 1607M1194 1633L1239 1590M1194 1630L1239 1592M1194 1583L1239 1591M830 1700L876 1676M830 1701L876 1669M830 1700L876 1682M830 1697L876 1707L921 1649M830 1670L876 1707L921 1655M830 1585L876 1707L921 1651M876 1679L921 1685L967 1772M876 1676L921 1683L967 1770M876 1678L921 1685L967 1772M921 1682L967 1773L1012 1712M921 1681L967 1773L1012 1711M921 1681L967 1773L1012 1712M967 1753L1012 1734L1057 1712M967 1754L1012 1734L1057 1735M967 1754L1012 1734L1057 1711M1012 1714L1057 1733L1103 1689M1012 1715L1057 1733L1103 1708M1012 1711L1057 1733L1103 1706M1057 1705L1103 1737L1148 1709M1057 1712L1103 1737L1148 1688M1057 1704L1103 1736L1148 1714M1103 1713L1148 1734L1194 1653M1103 1716L1148 1734L1194 1707M1103 1708L1148 1735L1194 1708M1148 1717L1194 1725L1239 1712M1148 1716L1194 1725L1239 1709M1148 1714L1194 1725L1239 1711M1194 1707L1239 1729M1194 1705L1239 1729M1194 1703L1239 1730" stroke="#4f54c4"/>
<path d="M830 1611L876 1559L921 1579M830 1594L876 1560L921 1615M830 1597L876 1559L921 1581M921 1604L967 1598L1012 1665M921 1614L967 1598L1012 1649M921 1584L967 1597L1012 1645M967 1662L1012 1598L1057 1655M967 1658L1012 1601L1057 1670M967 1658L1012 1600L1057 1669M1012 1647L1057 1606L1103 1643M1012 1644L1057 1607L1103 1644M1012 1655L1057 1609L1103 1641M1057 1666L1103 1594L1148 1668M1057 1654L1103 1596L1148 1647M1057 1661L1103 1595L1148 1635M1103 1656L1148 1588L1194 1633M1103 1652L1148 1590L1194 1636M1103 1635L1148 1590L1194 1623M1148 1646L1194 1585L1239 1650M1148 1646L1194 1588L1239 1637M1148 1654L1194 1585L1239 1628M1194 1632L1239 1593M1194 1642L1239 1594M1194 1637L1239 1594M830 1698L876 1675M830 1698L876 1674M830 1697L876 1638M830 1664L876 1706L921 1681M830 1674L876 1706L921 1634M830 1666L876 1706L921 1649M876 1673L921 1682L967 1770M876 1679L921 1681L967 1771M876 1681L921 1681L967 1772M921 1681L967 1772L1012 1712M921 1681L967 1773L1012 1712M921 1683L967 1773L1012 1711M967 1751L1012 1734L1057 1710M967 1663L1012 1734L1057 1708M967 1750L1012 1734L1057 1711M1012 1715L1057 1733L1103 1697M1012 1713L1057 1732L1103 1714M1012 1715L1057 1732L1103 1712M1057 1712L1103 1736L1148 1664M1057 1710L1103 1736L1148 1712M1057 1709L1103 1735L1148 1714M1103 1714L1148 1734L1194 1708M1103 1709L1148 1734L1194 1707M1103 1712L1148 1734L1194 1706M1148 1715L1194 1725L1239 1709M1148 1718L1194 1725L1239 1709M1148 1716L1194 1725L1239 1707M1194 1706L1239 1729M1194 1705L1239 1728M1194 1707L1239 1728" stroke="#7154cc"/>
<path d="M830 1611L876 1561L921 1596M830 1601L876 1561L921 1621M830 1596L876 1560L921 1581M921 1606L967 1600L1012 1656M921 1609L967 1601L1012 1653M921 1614L967 1600L1012 1651M967 1650L1012 1604L1057 1658M967 1649L1012 1604L1057 1661M967 1712L1012 1602L1057 1672M1012 1604L1057 1611L1103 1644M1012 1663L1057 1610L1103 1647M1012 1655L1057 1610L1103 1641M1057 1659L1103 1597L1148 1647M1057 1657L1103 1595L1148 1654M1057 1657L1103 1598L1148 1648M1103 1651L1148 1592L1194 1649M1103 1647L1148 1593L1194 1645M1103 1651L1148 1593L1194 1646M1148 1686L1194 1588L1239 1641M1148 1674L1194 1589L1239 1646M1148 1642L1194 1591L1239 1650M1194 1646L1239 1595M1194 1632L1239 1596M1194 1638L1239 1595M830 1696L876 1684M830 1697L876 1676M830 1696L876 1680M830 1664L876 1706L921 1650M830 1666L876 1705L921 1659M830 1667L876 1705L921 1652M876 1679L921 1679L967 1770M876 1676L921 1680L967 1769M876 1682L921 1680L967 1770M921 1681L967 1772L1012 1713M921 1677L967 1772L1012 1732M921 1679L967 1771L1012 1670M967 1749L1012 1733L1057 1713M967 1750L1012 1734L1057 1729M967 1689L1012 1734L1057 1709M1012 1716L1057 1732L1103 1715M1012 1734L1057 1732L1103 1697M1012 1713L1057 1731L1103 1707M1057 1711L1103 1734L1148 1710M1057 1708L1103 1734L1148 1713M1057 1710L1103 1734L1148 1657M1103 1709L1148 1733L1194 1707M1103 1711L1148 1733L1194 1707M1103 1713L1148 1733L1194 1706M1148 1716L1194 1724L1239 1707M1148 1716L1194 1725L1239 1710M1148 1717L1194 1725L1239 1709M1194 1708L1239 1728M1194 1705L1239 1728M1194 1724L1239 1728" stroke="#9654cf"/>
<path d="M830 1538L831 1542L833 1546L834 1552L837 1558L839 1564L843 1570L845 1573L847 1576L850 1578L853 1581L876 1562L898 1579L901 1576L904 1574L906 1572L909 1569L912 1563L915 1557L917 1551L919 1546L920 1542L921 1538L923 1545L926 1551L929 1560L934 1569L939 1579L946 1588L951 1593L955 1596L961 1600L967 1603L989 1628L1012 1607L1035 1634L1057 1614L1080 1630L1103 1600L1125 1621L1148 1596L1171 1618L1194 1593L1216 1617L1239 1597L1239 1727L1216 1717L1194 1724L1171 1720L1148 1732L1125 1722L1103 1732L1080 1721L1057 1730L1035 1722L1012 1732L989 1742L967 1770L921 1678L898 1679L876 1704L853 1687L830 1693Z" fill="#ba4dc2" stroke="none"/>
<path d="M830 1591L876 1562L921 1580M830 1595L876 1562L921 1615M830 1579L876 1561L921 1589M921 1601L967 1602L1012 1630M921 1595L967 1602L1012 1659M921 1578L967 1603L1012 1659M967 1643L1012 1607L1057 1617M967 1652L1012 1605L1057 1668M967 1643L1012 1607L1057 1655M1012 1600L1057 1612L1103 1651M1012 1662L1057 1613L1103 1650M1012 1648L1057 1614L1103 1648M1057 1659L1103 1599L1148 1639M1057 1616L1103 1600L1148 1640M1057 1633L1103 1599L1148 1650M1103 1654L1148 1596L1194 1641M1103 1644L1148 1595L1194 1627M1103 1654L1148 1595L1194 1664M1148 1643L1194 1593L1239 1645M1148 1649L1194 1594L1239 1641M1148 1643L1194 1594L1239 1644M1194 1632L1239 1598M1194 1641L1239 1597M1194 1679L1239 1597M830 1693L876 1677M830 1694L876 1681M830 1694L876 1680M830 1664L876 1704L921 1683M830 1670L876 1704L921 1658M830 1672L876 1704L921 1653M876 1683L921 1678L967 1770M876 1678L921 1679L967 1771M876 1679L921 1679L967 1770M921 1677L967 1771L1012 1715M921 1676L967 1771L1012 1715M921 1674L967 1771L1012 1678M967 1753L1012 1732L1057 1713M967 1750L1012 1733L1057 1711M967 1753L1012 1732L1057 1711M1012 1711L1057 1730L1103 1709M1012 1712L1057 1730L1103 1709M1012 1715L1057 1730L1103 1713M1057 1709L1103 1732L1148 1714M1057 1706L1103 1733L1148 1712M1057 1708L1103 1733L1148 1714M1103 1714L1148 1733L1194 1707M1103 1691L1148 1732L1194 1708M1103 1714L1148 1732L1194 1707M1148 1716L1194 1724L1239 1709M1148 1715L1194 1724L1239 1709M1148 1706L1194 1724L1239 1711M1194 1706L1239 1727M1194 1707L1239 1727M1194 1705L1239 1727" stroke="#ba4dc2"/>
<path d="M830 1590L876 1562L921 1616M830 1616L876 1563L921 1616M921 1615L967 1605L1012 1652M921 1620L967 1605L1012 1650M967 1646L1012 1611L1057 1661M967 1647L1012 1610L1057 1659M1012 1654L1057 1615L1103 1646M1012 1653L1057 1615L1103 1648M1057 1662L1103 1603L1148 1648M1057 1654L1103 1602L1148 1636M1103 1649L1148 1598L1194 1638M1103 1647L1148 1596L1194 1642M1148 1646L1194 1597L1239 1645M1148 1643L1194 1595L1239 1638M1194 1633L1239 1599M1194 1642L1239 1599M830 1692L876 1680M830 1692L876 1678M830 1672L876 1703L921 1652M830 1673L876 1703L921 1653M876 1681L921 1677L967 1770M876 1683L921 1677L967 1770M921 1672L967 1770L1012 1714M921 1675L967 1770L1012 1715M967 1750L1012 1732L1057 1712M967 1752L1012 1731L1057 1713M1012 1715L1057 1730L1103 1713M1012 1712L1057 1729L1103 1714M1057 1712L1103 1731L1148 1713M1057 1706L1103 1732L1148 1713M1103 1712L1148 1732L1194 1706M1103 1714L1148 1732L1194 1708M1148 1716L1194 1724L1239 1709M1148 1716L1194 1724L1239 1709M1194 1708L1239 1726M1194 1708L1239 1726" stroke="#d943ae"/>
<path d="M830 1538L831 1542L833 1546L834 1552L837 1558L839 1564L843 1570L845 1573L847 1576L850 1578L853 1581L876 1564L898 1579L901 1577L904 1574L906 1572L909 1569L912 1563L915 1557L917 1551L919 1546L920 1542L921 1538L923 1545L926 1551L929 1560L934 1569L939 1579L946 1588L951 1593L955 1598L961 1603L967 1607L989 1630L1012 1613L1035 1636L1057 1619L1080 1632L1103 1605L1125 1623L1148 1601L1171 1620L1194 1599L1216 1619L1239 1601L1239 1725L1216 1716L1194 1723L1171 1719L1148 1731L1125 1722L1103 1730L1080 1720L1057 1728L1035 1721L1012 1731L989 1742L967 1769L921 1674L898 1678L876 1702L853 1685L830 1689Z" fill="#e53793" stroke="none"/>
<path d="M830 1610L876 1563L921 1615M830 1601L876 1564L921 1602M921 1615L967 1607L1012 1652M921 1606L967 1607L1012 1655M967 1649L1012 1614L1057 1661M967 1647L1012 1614L1057 1655M1012 1651L1057 1620L1103 1642M1012 1653L1057 1619L1103 1648M1057 1660L1103 1606L1148 1638M1057 1654L1103 1605L1148 1640M1103 1647L1148 1600L1194 1641M1103 1651L1148 1599L1194 1643M1148 1646L1194 1598L1239 1644M1148 1641L1194 1599L1239 1642M1194 1637L1239 1600M1194 1639L1239 1601M830 1690L876 1682M830 1689L876 1683M830 1670L876 1702L921 1655M830 1671L876 1702L921 1654M876 1681L921 1674L967 1768M876 1681L921 1674L967 1768M921 1672L967 1769L1012 1714M921 1675L967 1769L1012 1715M967 1751L1012 1731L1057 1712M967 1752L1012 1731L1057 1711M1012 1714L1057 1729L1103 1712M1012 1713L1057 1729L1103 1712M1057 1711L1103 1730L1148 1713M1057 1712L1103 1730L1148 1714M1103 1713L1148 1731L1194 1708M1103 1714L1148 1731L1194 1707M1148 1715L1194 1723L1239 1710M1148 1716L1194 1723L1239 1710M1194 1707L1239 1725M1194 1706L1239 1725" stroke="#e53793"/>
<path d="M830 1538L831 1542L833 1546L834 1552L837 1558L839 1564L843 1570L845 1573L847 1576L850 1578L853 1581L876 1565L898 1579L901 1577L904 1574L906 1572L909 1569L912 1563L915 1557L917 1551L919 1546L920 1542L921 1538L923 1545L926 1551L929 1560L934 1569L939 1579L946 1588L951 1594L955 1598L961 1604L967 1609L989 1631L1012 1616L1035 1637L1057 1621L1080 1633L1103 1608L1125 1624L1148 1604L1171 1622L1194 1602L1216 1620L1239 1603L1239 1724L1216 1716L1194 1723L1171 1719L1148 1730L1125 1721L1103 1728L1080 1720L1057 1728L1035 1721L1012 1730L989 1741L967 1768L921 1672L898 1678L876 1701L853 1685L830 1687Z" fill="#ea327a" stroke="none"/>
<path d="M830 1612L876 1564L921 1586M830 1615L876 1565L921 1603M921 1580L967 1608L1012 1649M921 1608L967 1610L1012 1655M967 1647L1012 1616L1057 1656M967 1646L1012 1616L1057 1658M1012 1657L1057 1621L1103 1641M1012 1653L1057 1620L1103 1647M1057 1659L1103 1606L1148 1639M1057 1655L1103 1607L1148 1644M1103 1646L1148 1603L1194 1643M1103 1643L1148 1603L1194 1641M1148 1638L1194 1602L1239 1642M1148 1642L1194 1602L1239 1636M1194 1636L1239 1603M1194 1639L1239 1603M830 1687L876 1681M830 1687L876 1684M830 1668L876 1701L921 1654M830 1669L876 1700L921 1653M876 1681L921 1673L967 1768M876 1682L921 1673L967 1768M921 1672L967 1768L1012 1714M921 1671L967 1768L1012 1713M967 1753L1012 1731L1057 1713M967 1751L1012 1730L1057 1712M1012 1715L1057 1727L1103 1710M1012 1713L1057 1728L1103 1711M1057 1711L1103 1728L1148 1713M1057 1711L1103 1729L1148 1713M1103 1712L1148 1730L1194 1709M1103 1713L1148 1731L1194 1707M1148 1715L1194 1723L1239 1709M1148 1715L1194 1723L1239 1710M1194 1708L1239 1724M1194 1708L1239 1724" stroke="#ea327a"/>
<path d="M830 1538L831 1542L833 1546L834 1552L837 1558L839 1564L843 1570L845 1573L847 1576L850 1578L853 1581L876 1566L898 1579L901 1577L904 1574L906 1572L909 1569L912 1563L915 1557L917 1551L919 1546L920 1542L921 1538L923 1545L926 1551L929 1560L934 1569L939 1579L946 1588L951 1594L955 1599L961 1606L967 1611L989 1632L1012 1619L1035 1638L1057 1624L1080 1634L1103 1610L1125 1625L1148 1606L1171 1623L1194 1605L1216 1621L1239 1604L1239 1723L1216 1716L1194 1723L1171 1719L1148 1730L1125 1721L1103 1727L1080 1719L1057 1727L1035 1721L1012 1730L989 1741L967 1767L921 1671L898 1677L876 1700L853 1684L830 1685Z" fill="#ec2f64" stroke="none"/>
<path d="M830 1618L876 1566L921 1588M830 1613L876 1566L921 1607M921 1609L967 1611L1012 1651M921 1613L967 1612L1012 1653M967 1647L1012 1619L1057 1660M967 1643L1012 1619L1057 1660M1012 1653L1057 1623L1103 1646M1012 1653L1057 1624L1103 1646M1057 1655L1103 1610L1148 1640M1057 1659L1103 1609L1148 1639M1103 1646L1148 1605L1194 1640M1103 1643L1148 1607L1194 1640M1148 1641L1194 1605L1239 1640M1148 1642L1194 1606L1239 1636M1194 1639L1239 1604M1194 1639L1239 1604M830 1685L876 1684M830 1684L876 1683M830 1668L876 1700L921 1653M830 1668L876 1700L921 1653M876 1683L921 1671L967 1767M876 1682L921 1671L967 1766M921 1669L967 1767L1012 1715M921 1669L967 1767L1012 1715M967 1751L1012 1730L1057 1711M967 1752L1012 1730L1057 1712M1012 1714L1057 1726L1103 1712M1012 1715L1057 1727L1103 1713M1057 1710L1103 1728L1148 1714M1057 1712L1103 1727L1148 1714M1103 1712L1148 1729L1194 1708M1103 1713L1148 1730L1194 1709M1148 1715L1194 1723L1239 1709M1148 1716L1194 1723L1239 1709M1194 1709L1239 1723M1194 1708L1239 1723" stroke="#ec2f64"/>
<path d="M830 1538L831 1542L833 1546L834 1552L837 1558L839 1564L843 1570L845 1573L847 1576L850 1578L853 1581L876 1567L898 1579L901 1577L904 1574L906 1572L909 1569L912 1563L915 1557L917 1551L919 1546L920 1542L921 1538L923 1545L926 1551L929 1560L934 1569L939 1579L946 1588L951 1594L955 1600L961 1607L967 1613L989 1633L1012 1622L1035 1639L1057 1626L1080 1635L1103 1613L1125 1626L1148 1609L1171 1624L1194 1608L1216 1622L1239 1606L1239 1723L1216 1716L1194 1722L1171 1719L1148 1729L1125 1720L1103 1726L1080 1719L1057 1726L1035 1720L1012 1729L989 1741L967 1766L921 1669L898 1676L876 1699L853 1684L830 1683Z" fill="#e9304b" stroke="none"/>
<path d="M830 1591L876 1567L921 1614M830 1612L876 1566L921 1587M921 1617L967 1614L1012 1652M921 1580L967 1614L1012 1653M967 1644L1012 1623L1057 1657M967 1643L1012 1622L1057 1657M1012 1653L1057 1627L1103 1644M1012 1652L1057 1627L1103 1643M1057 1658L1103 1612L1148 1639M1057 1657L1103 1612L1148 1639M1103 1643L1148 1610L1194 1639M1103 1643L1148 1608L1194 1639M1148 1639L1194 1609L1239 1637M1148 1639L1194 1608L1239 1637M1194 1639L1239 1606M1194 1639L1239 1607M830 1683L876 1684M830 1683L876 1684M830 1668L876 1698L921 1654M830 1667L876 1699L921 1655M876 1684L921 1669L967 1766M876 1684L921 1669L967 1766M921 1668L967 1766L1012 1715M921 1668L967 1766L1012 1715M967 1752L1012 1729L1057 1712M967 1753L1012 1729L1057 1712M1012 1715L1057 1726L1103 1712M1012 1715L1057 1726L1103 1712M1057 1712L1103 1726L1148 1715M1057 1711L1103 1726L1148 1715M1103 1712L1148 1729L1194 1709M1103 1712L1148 1729L1194 1709M1148 1715L1194 1722L1239 1709M1148 1716L1194 1722L1239 1709M1194 1709L1239 1722M1194 1709L1239 1722" stroke="#e9304b"/>
<polygon points="830.3,1537.7 831.4,1542 832.6,1546.1 834.4,1551.8 836.7,1558 839.4,1564.1 842.8,1570 845.1,1573.1 847.3,1575.7 850.3,1578.5 853,1580.9 875.7,1567.4 898.4,1579.2 901.1,1576.9 904.1,1574.1 906.4,1571.6 908.6,1568.7 912,1563 914.8,1557.2 917,1551.3 918.9,1545.7 920,1541.9 921.1,1537.7 923.4,1544.9 925.7,1551.4 929.3,1560.3 933.8,1569.5 939.3,1578.7 946.1,1588.5 950.6,1594.6 955.2,1600.4 961.1,1608 966.5,1615 989.2,1633.7 1011.9,1624.6 1034.7,1640.3 1057.4,1628.1 1080.1,1635.5 1102.8,1615 1125.5,1626.7 1148.2,1610.6 1170.9,1624.6 1193.6,1610.6 1216.3,1623 1239,1607.5 1239,1721.9 1216.3,1715.4 1193.6,1721.9 1170.9,1718.6 1148.2,1728.5 1125.5,1720.2 1102.8,1725 1080.1,1718.4 1057.4,1725 1034.7,1720.2 1011.9,1728.5 989.2,1740.5 966.5,1765.6 921.1,1667.3 898.4,1676.1 875.7,1697.9 853,1683.1 830.3,1681.3" fill="#e8313f" stroke="#e8313f" stroke-width="1.5"/>
</g>
<g stroke="#000" stroke-width="2.1" fill="none" stroke-linecap="square">
<path d="M814.2 1532V1750.3"/>
<path d="M801.7 1532H814.2"/>
<path d="M801.7 1575.7H814.2"/>
<path d="M801.7 1619.3H814.2"/>
<path d="M801.7 1663H814.2"/>
<path d="M801.7 1706.6H814.2"/>
<path d="M801.7 1750.3H814.2"/>
<path d="M830.3 1788.3H1239"/>
<path d="M830.3 1788.3V1801.3"/>
<path d="M875.7 1788.3V1801.3"/>
<path d="M921.1 1788.3V1801.3"/>
<path d="M966.5 1788.3V1801.3"/>
<path d="M1011.9 1788.3V1801.3"/>
<path d="M1057.4 1788.3V1801.3"/>
<path d="M1102.8 1788.3V1801.3"/>
<path d="M1148.2 1788.3V1801.3"/>
<path d="M1193.6 1788.3V1801.3"/>
<path d="M1239 1788.3V1801.3"/>
</g>
<text transform="translate(791.7 1532) rotate(-90)" text-anchor="middle" font-size="18.5">3</text>
<text transform="translate(791.7 1575.7) rotate(-90)" text-anchor="middle" font-size="18.5">2</text>
<text transform="translate(791.7 1619.3) rotate(-90)" text-anchor="middle" font-size="18.5">1</text>
<text transform="translate(791.7 1663) rotate(-90)" text-anchor="middle" font-size="18.5">0</text>
<text transform="translate(791.7 1710.6) rotate(-90)" text-anchor="middle" font-size="18.5">−1</text>
<text transform="translate(791.7 1754.3) rotate(-90)" text-anchor="middle" font-size="18.5">−2</text>
<text transform="translate(763 1652.5) rotate(-90)" text-anchor="middle" font-size="19.4">Expression changes</text>
<text x="1005.5" y="1509" text-anchor="middle" font-size="25">Cluster 8</text>
<text transform="translate(832.4 1811.1) rotate(-30)" text-anchor="end" font-size="19.3" stroke="#000" stroke-width="0.35">Rumen</text>
<text transform="translate(881.6 1811.1) rotate(-30)" text-anchor="end" font-size="19.3">Reticulum</text>
<text transform="translate(929.9 1811.1) rotate(-30)" text-anchor="end" font-size="19.3">Omasum</text>
<text transform="translate(975 1811.1) rotate(-30)" text-anchor="end" font-size="19.3" stroke="#000" stroke-width="0.35">Abomasum</text>
<text transform="translate(1020.9 1811.1) rotate(-30)" text-anchor="end" font-size="19.3">Duodenum</text>
<text transform="translate(1061.9 1811.1) rotate(-30)" text-anchor="end" font-size="19.3">Jejunum</text>
<text transform="translate(1110.7 1811.1) rotate(-30)" text-anchor="end" font-size="19.3" stroke="#000" stroke-width="0.35">Ileum</text>
<text transform="translate(1156.4 1811.1) rotate(-30)" text-anchor="end" font-size="19.3">Cecum</text>
<text transform="translate(1202.4 1811.1) rotate(-30)" text-anchor="end" font-size="19.3" stroke="#000" stroke-width="0.35">Colon</text>
<text transform="translate(1245.7 1811.1) rotate(-30)" text-anchor="end" font-size="19.3">Rectumi</text>
</g>
<g id="bar8">
<rect x="932.5" y="1917.1" width="125.8" height="18" fill="#4a71b5"/>
<rect x="932.5" y="1942.9" width="127" height="18" fill="#4a71b5"/>
<rect x="932.5" y="1969.2" width="128.1" height="18" fill="#4a71b5"/>
<rect x="932.5" y="1995" width="152.4" height="18" fill="#4a71b5"/>
<rect x="932.5" y="2020.9" width="190" height="18" fill="#c8475f"/>
<rect x="932.5" y="2046.7" width="211.2" height="18" fill="#4a71b5"/>
<rect x="932.5" y="2073" width="219" height="18" fill="#4a71b5"/>
<rect x="932.5" y="2098.8" width="247.6" height="18" fill="#4a71b5"/>
<rect x="932.5" y="2124.7" width="301.3" height="18" fill="#4a71b5"/>
<polyline points="958.4,1926.1 962.7,1951.9 962.7,1978.2 963.5,2004 962.7,2029.9 996.4,2055.7 987,2082 1011.7,2107.8 1028.5,2133.7" fill="none" stroke="#f0b26e" stroke-width="2.8" stroke-linejoin="round"/>
<circle cx="958.4" cy="1926.1" r="4.4" fill="#f0b26e"/>
<circle cx="962.7" cy="1951.9" r="4.4" fill="#f0b26e"/>
<circle cx="962.7" cy="1978.2" r="4.4" fill="#f0b26e"/>
<circle cx="963.5" cy="2004" r="4.4" fill="#f0b26e"/>
<circle cx="962.7" cy="2029.9" r="4.4" fill="#f0b26e"/>
<circle cx="996.4" cy="2055.7" r="4.4" fill="#f0b26e"/>
<circle cx="987" cy="2082" r="4.4" fill="#f0b26e"/>
<circle cx="1011.7" cy="2107.8" r="4.4" fill="#f0b26e"/>
<circle cx="1028.5" cy="2133.7" r="4.4" fill="#f0b26e"/>
<g stroke="#111" stroke-width="1.5" fill="none">
<path d="M932.5 1915.9V2143.1"/>
<path d="M932.5 1915.9H1235.3"/>
<path d="M932.5 2143.1H1235.3"/>
<path d="M929 1926.1H932.5"/>
<path d="M929 1951.9H932.5"/>
<path d="M929 1978.2H932.5"/>
<path d="M929 2004H932.5"/>
<path d="M929 2029.9H932.5"/>
<path d="M929 2055.7H932.5"/>
<path d="M929 2082H932.5"/>
<path d="M929 2107.8H932.5"/>
<path d="M929 2133.7H932.5"/>
<path d="M932.5 1912.4V1915.9"/>
<path d="M1017.5 1912.4V1915.9"/>
<path d="M1102.5 1912.4V1915.9"/>
<path d="M1187.5 1912.4V1915.9"/>
<path d="M932.5 2143.1V2146.6"/>
<path d="M1017.5 2143.1V2146.6"/>
<path d="M1101.8 2143.1V2146.6"/>
<path d="M1186.8 2143.1V2146.6"/>
</g>
<g font-size="16" fill="#1a1a1a">
<text x="926.5" y="1930.8" text-anchor="end">Intermediate filament organization</text>
<text x="926.5" y="1956.6" text-anchor="end">Intermediate filament−based process</text>
<text x="926.5" y="1982.9" text-anchor="end">Intermediate filament cytoskeleton organization</text>
<text x="926.5" y="2008.7" text-anchor="end">Keratinization</text>
<text x="926.5" y="2034.6" text-anchor="end">Cornified envelope</text>
<text x="926.5" y="2060.4" text-anchor="end">Epidermal cell differentiation</text>
<text x="926.5" y="2086.7" text-anchor="end">Keratinocyte differentiation</text>
<text x="926.5" y="2112.5" text-anchor="end">Skin development</text>
<text x="926.5" y="2138.4" text-anchor="end">Epidermis development</text>
<text x="932.5" y="1911.4" text-anchor="middle">0</text>
<text x="1017.5" y="1911.4" text-anchor="middle">50</text>
<text x="1102.5" y="1911.4" text-anchor="middle">100</text>
<text x="1187.5" y="1911.4" text-anchor="middle">150</text>
<text x="932.5" y="2162.1" text-anchor="middle">0</text>
<text x="1017.5" y="2162.1" text-anchor="middle">10</text>
<text x="1101.8" y="2162.1" text-anchor="middle">20</text>
<text x="1186.8" y="2162.1" text-anchor="middle">30</text>
<text x="1139.4" y="1941.2">ONTOLOGY</text>
<rect x="1162.5" y="1947.6" width="16.8" height="16.3" fill="#4a71b5"/>
<text x="1185.2" y="1961.5">BP</text>
<rect x="1162.5" y="1966.4" width="16.8" height="16.3" fill="#c8475f"/>
<text x="1185.2" y="1980.3">CC</text>
<text x="1066.9" y="2188.5" text-anchor="middle">−log<tspan font-size="9" dy="4">10</tspan><tspan dy="-4" font-style="italic">P</tspan></text>
</g>
<text x="1052.4" y="1887.4" text-anchor="middle" font-size="19" fill="#111">Gene count</text>
</g>
<g id="line9">
<clipPath id="c9"><rect x="1453" y="1501.4" width="409.9" height="295.1"/></clipPath>
<g clip-path="url(#c9)" fill="none" stroke-width="1.6" stroke-linejoin="round">
<path d="M1454 1621L1499 1728M1454 1618L1499 1707M1499 1728L1545 1607L1590 1597M1545 1648L1590 1596L1635 1622M1545 1631L1590 1596L1635 1662M1590 1659L1635 1569L1681 1619M1590 1658L1635 1569L1681 1636M1635 1631L1681 1549L1726 1572M1681 1620L1726 1559L1771 1601M1681 1582L1726 1559L1771 1639M1726 1642L1771 1539L1817 1633M1726 1626L1771 1540L1817 1626M1726 1642L1771 1540L1817 1573M1771 1648L1817 1552L1862 1617M1771 1620L1817 1552L1862 1617M1817 1614L1862 1545M1454 1780L1499 1708M1454 1780L1499 1709M1499 1706L1545 1757L1590 1701M1499 1709L1545 1757L1590 1714M1499 1717L1545 1757L1590 1694M1545 1706L1590 1762L1635 1655M1545 1706L1590 1761L1635 1647M1590 1703L1635 1720L1681 1617M1590 1677L1635 1720L1681 1621M1681 1613L1726 1698L1771 1671M1681 1650L1726 1698L1771 1702M1681 1642L1726 1699L1771 1639M1726 1636L1771 1717L1817 1623M1726 1630L1771 1717L1817 1641M1771 1635L1817 1705L1862 1615M1771 1622L1817 1705L1862 1655M1771 1665L1817 1706L1862 1647M1817 1618L1862 1722" stroke="#e6e02c"/>
<path d="M1454 1622L1499 1724M1454 1623L1499 1666M1454 1624L1499 1712M1454 1733L1499 1626L1545 1704M1454 1716L1499 1625L1545 1718M1454 1686L1499 1626L1545 1734M1499 1709L1545 1611L1590 1611M1499 1670L1545 1612L1590 1613M1499 1728L1545 1612L1590 1603M1545 1651L1590 1597L1635 1633M1545 1650L1590 1598L1635 1639M1590 1660L1635 1570L1681 1640M1590 1644L1635 1570L1681 1638M1635 1635L1681 1550L1726 1638M1635 1640L1681 1551L1726 1581M1635 1598L1681 1551L1726 1631M1681 1587L1726 1559L1771 1615M1681 1577L1726 1560L1771 1635M1726 1616L1771 1541L1817 1589M1726 1580L1771 1542L1817 1580M1726 1606L1771 1541L1817 1649M1771 1651L1817 1553L1862 1635M1817 1611L1862 1547M1817 1633L1862 1547M1454 1777L1499 1699M1454 1779L1499 1719M1454 1778L1499 1699M1545 1707L1590 1760L1635 1654M1545 1706L1590 1760L1635 1690M1590 1694L1635 1718L1681 1639M1590 1674L1635 1719L1681 1618M1590 1686L1635 1717L1681 1636M1635 1653L1681 1713L1726 1594M1681 1637L1726 1697L1771 1649M1681 1628L1726 1697L1771 1670M1726 1602L1771 1717L1817 1633M1771 1633L1817 1703L1862 1601M1817 1595L1862 1717M1817 1626L1862 1717" stroke="#c4dd22"/>
<path d="M1454 1629L1499 1669M1454 1628L1499 1728M1454 1630L1499 1706M1454 1710L1499 1628L1545 1735M1454 1734L1499 1629L1545 1733M1499 1716L1545 1616L1590 1599M1499 1681L1545 1617L1590 1604M1545 1652L1590 1598L1635 1638M1545 1653L1590 1598L1635 1654M1590 1661L1635 1572L1681 1643M1590 1654L1635 1571L1681 1620M1590 1675L1635 1572L1681 1645M1635 1624L1681 1553L1726 1634M1635 1650L1681 1552L1726 1619M1681 1637L1726 1560L1771 1607M1681 1610L1726 1560L1771 1621M1681 1577L1726 1560L1771 1628M1726 1637L1771 1545L1817 1649M1726 1642L1771 1544L1817 1649M1771 1628L1817 1553L1862 1635M1771 1621L1817 1553L1862 1619M1817 1610L1862 1548M1817 1603L1862 1547M1454 1775L1499 1741M1454 1776L1499 1706M1454 1776L1499 1707M1499 1741L1545 1756L1590 1707M1545 1706L1590 1759L1635 1658M1590 1687L1635 1715L1681 1616M1590 1689L1635 1715L1681 1659M1635 1626L1681 1710L1726 1617M1635 1630L1681 1710L1726 1632M1681 1615L1726 1693L1771 1656M1681 1626L1726 1693L1771 1663M1726 1625L1771 1716L1817 1618M1726 1621L1771 1715L1817 1634M1771 1659L1817 1701L1862 1631M1817 1640L1862 1713" stroke="#a3d31e"/>
<path d="M1454 1634L1499 1709M1454 1634L1499 1692M1454 1635L1499 1728M1454 1710L1499 1631L1545 1691M1454 1706L1499 1631L1545 1708M1499 1719L1545 1621L1590 1605M1499 1728L1545 1620L1590 1608M1545 1634L1590 1601L1635 1653M1545 1621L1590 1600L1635 1647M1590 1678L1635 1573L1681 1642M1590 1680L1635 1573L1681 1638M1635 1653L1681 1553L1726 1618M1635 1633L1681 1554L1726 1631M1635 1602L1681 1553L1726 1625M1681 1612L1726 1561L1771 1625M1681 1616L1726 1561L1771 1616M1726 1637L1771 1550L1817 1637M1726 1631L1771 1549L1817 1570M1771 1627L1817 1554L1862 1629M1771 1623L1817 1554L1862 1614M1817 1604L1862 1549M1817 1633L1862 1549M1454 1775L1499 1750M1454 1774L1499 1710M1499 1709L1545 1755L1590 1697M1545 1706L1590 1757L1635 1638M1590 1735L1635 1715L1681 1623M1590 1704L1635 1714L1681 1629M1635 1647L1681 1707L1726 1615M1635 1661L1681 1707L1726 1594M1681 1612L1726 1693L1771 1642M1726 1636L1771 1715L1817 1627M1726 1619L1771 1715L1817 1614M1771 1631L1817 1700L1862 1625M1771 1629L1817 1700L1862 1639M1771 1629L1817 1700L1862 1648M1817 1615L1862 1706" stroke="#82c81c"/>
<path d="M1454 1635L1499 1722M1454 1635L1499 1728M1454 1728L1499 1634L1545 1709M1454 1707L1499 1634L1545 1735M1499 1688L1545 1624L1590 1604M1499 1680L1545 1622L1590 1602M1499 1728L1545 1623L1590 1605M1545 1661L1590 1602L1635 1639M1545 1628L1590 1602L1635 1594M1590 1674L1635 1575L1681 1637M1590 1698L1635 1575L1681 1582M1590 1676L1635 1575L1681 1630M1635 1663L1681 1557L1726 1579M1635 1639L1681 1556L1726 1631M1635 1655L1681 1556L1726 1624M1681 1610L1726 1561L1771 1640M1681 1587L1726 1561L1771 1635M1726 1630L1771 1553L1817 1594M1771 1642L1817 1555L1862 1576M1771 1632L1817 1555L1862 1623M1817 1597L1862 1550M1817 1620L1862 1550M1817 1618L1862 1550M1454 1772L1499 1713M1454 1772L1499 1714M1499 1740L1545 1754L1590 1743M1499 1705L1545 1754L1590 1698M1545 1712L1590 1756L1635 1656M1590 1667L1635 1712L1681 1632M1590 1682L1635 1712L1681 1624M1635 1673L1681 1701L1726 1594M1681 1644L1726 1689L1771 1698M1681 1659L1726 1690L1771 1638M1726 1663L1771 1714L1817 1625M1726 1622L1771 1714L1817 1610M1726 1614L1771 1714L1817 1665M1771 1679L1817 1697L1862 1635M1771 1655L1817 1696L1862 1633M1771 1636L1817 1698L1862 1624M1817 1615L1862 1703M1817 1666L1862 1704" stroke="#82ca24"/>
<path d="M1454 1642L1499 1671M1454 1743L1499 1635L1545 1714M1454 1738L1499 1635L1545 1735M1499 1728L1545 1627L1590 1611M1499 1712L1545 1628L1590 1611M1499 1728L1545 1626L1590 1608M1545 1648L1590 1604L1635 1644M1545 1650L1590 1603L1635 1655M1590 1679L1635 1575L1681 1623M1590 1620L1635 1575L1681 1625M1635 1634L1681 1558L1726 1604M1635 1637L1681 1558L1726 1634M1681 1585L1726 1562L1771 1617M1681 1637L1726 1562L1771 1620M1726 1642L1771 1555L1817 1618M1726 1603L1771 1556L1817 1639M1726 1621L1771 1555L1817 1633M1771 1631L1817 1555L1862 1610M1771 1624L1817 1555L1862 1605M1817 1634L1862 1551M1817 1632L1862 1552M1454 1772L1499 1724M1454 1770L1499 1707M1499 1705L1545 1754L1590 1708M1499 1717L1545 1754L1590 1701M1545 1719L1590 1755L1635 1654M1545 1711L1590 1755L1635 1645M1545 1731L1590 1755L1635 1645M1590 1698L1635 1710L1681 1626M1590 1699L1635 1710L1681 1641M1590 1688L1635 1709L1681 1612M1681 1621L1726 1688L1771 1661M1681 1637L1726 1687L1771 1686M1771 1638L1817 1695L1862 1629M1771 1651L1817 1696L1862 1623M1817 1595L1862 1699" stroke="#81cc2c"/>
<path d="M1454 1646L1476 1684L1499 1639L1522 1681L1545 1631L1590 1605L1613 1622L1635 1577L1658 1601L1681 1560L1703 1593L1726 1562L1749 1595L1771 1560L1794 1593L1817 1556L1839 1586L1862 1553L1862 1694L1839 1656L1817 1693L1794 1671L1771 1713L1749 1667L1726 1685L1703 1656L1681 1697L1658 1668L1635 1708L1613 1702L1590 1754L1567 1729L1545 1753L1522 1732L1499 1758L1476 1739L1454 1769Z" fill="#81ce33" stroke="none"/>
<path d="M1454 1647L1499 1725M1454 1743L1499 1639L1545 1726M1499 1728L1545 1632L1590 1616M1499 1663L1545 1631L1590 1608M1499 1722L1545 1632L1590 1618M1545 1661L1590 1605L1635 1612M1590 1698L1635 1576L1681 1614M1590 1660L1635 1577L1681 1637M1590 1669L1635 1577L1681 1587M1635 1645L1681 1559L1726 1569M1635 1632L1681 1560L1726 1639M1681 1638L1726 1562L1771 1621M1681 1639L1726 1563L1771 1635M1726 1632L1771 1559L1817 1623M1726 1628L1771 1559L1817 1637M1771 1620L1817 1556L1862 1624M1771 1634L1817 1555L1862 1616M1817 1578L1862 1554M1817 1636L1862 1552M1817 1624L1862 1552M1454 1769L1499 1714M1454 1770L1499 1711M1499 1702L1545 1753L1590 1707M1590 1680L1635 1707L1681 1650M1590 1689L1635 1708L1681 1610M1635 1621L1681 1696L1726 1606M1635 1690L1681 1697L1726 1666M1635 1681L1681 1697L1726 1654M1681 1641L1726 1685L1771 1704M1681 1635L1726 1685L1771 1657M1726 1657L1771 1712L1817 1624M1726 1657L1771 1713L1817 1632M1726 1621L1771 1713L1817 1626M1771 1647L1817 1693L1862 1611M1771 1634L1817 1694L1862 1603M1771 1633L1817 1693L1862 1662M1817 1601L1862 1694M1817 1667L1862 1695M1817 1613L1862 1695" stroke="#81ce33"/>
<path d="M1454 1651L1499 1691M1454 1652L1499 1718M1454 1649L1499 1682M1454 1728L1499 1641L1545 1712M1454 1743L1499 1643L1545 1720M1499 1702L1545 1635L1590 1607M1499 1726L1545 1634L1590 1608M1545 1664L1590 1606L1635 1633M1545 1666L1590 1606L1635 1598M1590 1661L1635 1578L1681 1633M1590 1623L1635 1577L1681 1629M1590 1664L1635 1578L1681 1635M1635 1655L1681 1562L1726 1619M1635 1594L1681 1563L1726 1632M1681 1629L1726 1563L1771 1602M1681 1640L1726 1563L1771 1645M1726 1637L1771 1564L1817 1566M1726 1640L1771 1562L1817 1644M1771 1618L1817 1556L1862 1615M1771 1637L1817 1556L1862 1623M1817 1608L1862 1555M1817 1595L1862 1555M1454 1768L1499 1714M1499 1712L1545 1753L1590 1735M1545 1706L1590 1752L1635 1628M1545 1706L1590 1752L1635 1659M1590 1734L1635 1706L1681 1627M1590 1692L1635 1705L1681 1675M1590 1696L1635 1706L1681 1630M1635 1635L1681 1692L1726 1600M1635 1625L1681 1695L1726 1626M1635 1681L1681 1695L1726 1629M1681 1645L1726 1682L1771 1659M1681 1608L1726 1683L1771 1662M1681 1616L1726 1683L1771 1630M1726 1610L1771 1712L1817 1651M1726 1609L1771 1712L1817 1619M1726 1624L1771 1712L1817 1636M1771 1657L1817 1691L1862 1621M1771 1630L1817 1692L1862 1598M1817 1599L1862 1691M1817 1626L1862 1691M1817 1665L1862 1691" stroke="#80d03b"/>
<path d="M1454 1655L1476 1687L1499 1644L1522 1684L1545 1639L1590 1608L1613 1623L1635 1579L1658 1603L1681 1564L1703 1594L1726 1564L1749 1596L1771 1566L1794 1595L1817 1557L1839 1587L1862 1556L1862 1685L1839 1654L1817 1689L1794 1670L1771 1711L1749 1666L1726 1680L1703 1653L1681 1690L1658 1666L1635 1703L1613 1701L1590 1751L1567 1729L1545 1752L1522 1732L1499 1758L1476 1738L1454 1765Z" fill="#7fd984" stroke="none"/>
<path d="M1454 1654L1499 1714M1454 1657L1499 1704M1454 1718L1499 1646L1545 1720M1454 1743L1499 1645L1545 1723M1454 1743L1499 1645L1545 1708M1499 1728L1545 1638L1590 1609M1499 1712L1545 1640L1590 1616M1499 1711L1545 1641L1590 1609M1545 1666L1590 1609L1635 1594M1545 1659L1590 1608L1635 1650M1545 1656L1590 1609L1635 1619M1590 1673L1635 1580L1681 1629M1590 1660L1635 1579L1681 1620M1635 1623L1681 1563L1726 1627M1635 1639L1681 1564L1726 1628M1635 1653L1681 1563L1726 1623M1681 1630L1726 1563L1771 1627M1681 1636L1726 1563L1771 1643M1726 1627L1771 1565L1817 1575M1771 1587L1817 1557L1862 1620M1771 1589L1817 1557L1862 1609M1771 1627L1817 1557L1862 1622M1817 1628L1862 1556M1817 1630L1862 1556M1817 1635L1862 1555M1454 1765L1499 1713M1499 1707L1545 1751L1590 1697M1499 1711L1545 1751L1590 1709M1545 1706L1590 1751L1635 1644M1545 1707L1590 1751L1635 1643M1545 1747L1590 1751L1635 1661M1590 1689L1635 1704L1681 1615M1590 1704L1635 1703L1681 1628M1635 1645L1681 1691L1726 1607M1635 1675L1681 1692L1726 1638M1635 1638L1681 1689L1726 1620M1681 1637L1726 1680L1771 1646M1681 1637L1726 1680L1771 1697M1681 1614L1726 1681L1771 1667M1726 1610L1771 1711L1817 1624M1726 1612L1771 1711L1817 1678M1771 1695L1817 1689L1862 1606M1771 1656L1817 1689L1862 1628M1817 1622L1862 1685M1817 1635L1862 1686M1817 1609L1862 1687" stroke="#7fd984"/>
<path d="M1454 1660L1499 1676M1454 1658L1499 1709M1454 1658L1499 1711M1454 1713L1499 1648L1545 1719M1454 1721L1499 1646L1545 1707M1454 1723L1499 1646L1545 1711M1499 1728L1545 1642L1590 1618M1499 1728L1545 1645L1590 1613M1499 1728L1545 1642L1590 1620M1545 1649L1590 1609L1635 1600M1545 1648L1590 1610L1635 1643M1545 1657L1590 1609L1635 1641M1590 1659L1635 1581L1681 1629M1590 1658L1635 1581L1681 1621M1590 1698L1635 1580L1681 1615M1635 1648L1681 1565L1726 1570M1635 1655L1681 1566L1726 1634M1635 1615L1681 1566L1726 1617M1681 1638L1726 1564L1771 1642M1681 1586L1726 1564L1771 1657M1681 1636L1726 1564L1771 1635M1726 1627L1771 1569L1817 1621M1726 1618L1771 1570L1817 1630M1726 1635L1771 1569L1817 1638M1771 1622L1817 1557L1862 1614M1771 1626L1817 1558L1862 1609M1771 1626L1817 1557L1862 1607M1817 1619L1862 1558M1817 1613L1862 1556M1817 1613L1862 1557M1454 1763L1499 1708M1454 1763L1499 1716M1454 1764L1499 1711M1499 1711L1545 1751L1590 1724M1499 1716L1545 1751L1590 1705M1499 1723L1545 1751L1590 1708M1545 1711L1590 1750L1635 1638M1545 1706L1590 1750L1635 1654M1545 1706L1590 1750L1635 1646M1590 1699L1635 1702L1681 1666M1590 1697L1635 1702L1681 1616M1590 1737L1635 1701L1681 1633M1635 1629L1681 1687L1726 1662M1635 1652L1681 1687L1726 1615M1635 1631L1681 1687L1726 1614M1681 1668L1726 1678L1771 1643M1681 1662L1726 1679L1771 1677M1681 1633L1726 1679L1771 1649M1726 1626L1771 1710L1817 1645M1726 1611L1771 1710L1817 1613M1726 1612L1771 1710L1817 1638M1771 1652L1817 1687L1862 1618M1771 1694L1817 1688L1862 1609M1771 1656L1817 1687L1862 1617M1817 1617L1862 1682M1817 1635L1862 1681M1817 1623L1862 1681" stroke="#7bddc4"/>
<path d="M1454 1664L1476 1690L1499 1650L1522 1687L1545 1647L1590 1612L1613 1624L1635 1582L1658 1604L1681 1567L1703 1595L1726 1565L1749 1598L1771 1573L1794 1596L1817 1558L1839 1588L1862 1558L1862 1676L1839 1651L1817 1685L1794 1669L1771 1710L1749 1665L1726 1676L1703 1651L1681 1684L1658 1664L1635 1699L1613 1699L1590 1748L1567 1728L1545 1750L1522 1732L1499 1758L1476 1737L1454 1762Z" fill="#71d5e0" stroke="none"/>
<path d="M1454 1662L1499 1726M1454 1662L1499 1687M1454 1665L1499 1719M1454 1737L1499 1648L1545 1715M1454 1703L1499 1650L1545 1710M1454 1704L1499 1649L1545 1720M1499 1698L1545 1647L1590 1620M1499 1728L1545 1648L1590 1614M1499 1718L1545 1647L1590 1613M1545 1657L1590 1611L1635 1645M1545 1652L1590 1612L1635 1634M1545 1651L1590 1611L1635 1633M1590 1666L1635 1581L1681 1617M1590 1660L1635 1582L1681 1617M1590 1666L1635 1582L1681 1617M1635 1645L1681 1567L1726 1620M1635 1643L1681 1567L1726 1629M1635 1649L1681 1567L1726 1623M1681 1621L1726 1565L1771 1626M1681 1630L1726 1565L1771 1624M1681 1630L1726 1565L1771 1639M1726 1634L1771 1573L1817 1583M1726 1619L1771 1574L1817 1612M1726 1573L1771 1573L1817 1631M1771 1584L1817 1558L1862 1620M1771 1599L1817 1558L1862 1626M1771 1639L1817 1558L1862 1589M1817 1605L1862 1558M1817 1606L1862 1559M1817 1622L1862 1558M1454 1762L1499 1715M1454 1761L1499 1704M1454 1761L1499 1716M1499 1718L1545 1750L1590 1739M1499 1710L1545 1750L1590 1700M1499 1714L1545 1750L1590 1709M1545 1737L1590 1748L1635 1640M1545 1720L1590 1748L1635 1643M1545 1706L1590 1748L1635 1638M1590 1696L1635 1699L1681 1636M1590 1705L1635 1698L1681 1650M1590 1701L1635 1699L1681 1628M1635 1637L1681 1685L1726 1642M1635 1653L1681 1684L1726 1606M1635 1658L1681 1683L1726 1617M1681 1627L1726 1676L1771 1647M1681 1611L1726 1675L1771 1666M1681 1623L1726 1676L1771 1694M1726 1609L1771 1710L1817 1650M1726 1663L1771 1710L1817 1662M1726 1612L1771 1710L1817 1648M1771 1650L1817 1685L1862 1661M1771 1633L1817 1685L1862 1629M1771 1671L1817 1685L1862 1637M1817 1609L1862 1678M1817 1610L1862 1678M1817 1611L1862 1676" stroke="#71d5e0"/>
<path d="M1454 1666L1499 1709M1454 1667L1499 1713M1454 1670L1499 1665M1454 1719L1499 1654L1545 1719M1454 1740L1499 1653L1545 1710M1454 1683L1499 1651L1545 1722M1499 1728L1545 1653L1590 1614M1499 1723L1545 1653L1590 1620M1499 1723L1545 1650L1590 1618M1545 1658L1590 1614L1635 1616M1545 1675L1590 1614L1635 1631M1545 1659L1590 1614L1635 1633M1590 1641L1635 1583L1681 1628M1590 1673L1635 1583L1681 1628M1590 1665L1635 1583L1681 1623M1635 1649L1681 1569L1726 1630M1635 1652L1681 1569L1726 1574M1635 1596L1681 1570L1726 1625M1681 1628L1726 1565L1771 1613M1681 1627L1726 1565L1771 1655M1681 1593L1726 1565L1771 1617M1726 1614L1771 1575L1817 1606M1726 1577L1771 1577L1817 1637M1726 1612L1771 1577L1817 1631M1771 1632L1817 1558L1862 1590M1771 1630L1817 1558L1862 1609M1771 1646L1817 1559L1862 1611M1817 1619L1862 1560M1817 1628L1862 1559M1817 1568L1862 1560M1454 1760L1499 1707M1454 1760L1499 1712M1454 1760L1499 1752M1499 1709L1545 1749L1590 1699M1499 1707L1545 1750L1590 1702M1499 1707L1545 1749L1590 1705M1545 1731L1590 1746L1635 1654M1545 1708L1590 1747L1635 1650M1545 1747L1590 1747L1635 1681M1590 1681L1635 1697L1681 1618M1590 1697L1635 1697L1681 1637M1590 1698L1635 1697L1681 1633M1635 1639L1681 1680L1726 1608M1635 1639L1681 1683L1726 1614M1635 1642L1681 1681L1726 1607M1681 1622L1726 1674L1771 1678M1681 1661L1726 1673L1771 1660M1681 1618L1726 1674L1771 1676M1726 1613L1771 1709L1817 1636M1726 1624L1771 1709L1817 1663M1726 1621L1771 1709L1817 1619M1771 1654L1817 1683L1862 1616M1771 1646L1817 1684L1862 1657M1771 1693L1817 1684L1862 1615M1817 1621L1862 1673M1817 1638L1862 1670M1817 1614L1862 1672" stroke="#51acdd"/>
<path d="M1454 1674L1476 1693L1499 1657L1522 1690L1545 1659L1590 1616L1613 1626L1635 1586L1658 1606L1681 1573L1703 1597L1726 1567L1749 1600L1771 1582L1794 1599L1817 1561L1839 1589L1862 1563L1862 1666L1839 1648L1817 1680L1794 1667L1771 1706L1749 1663L1726 1670L1703 1649L1681 1676L1658 1661L1635 1694L1613 1697L1590 1744L1567 1727L1545 1748L1522 1731L1499 1757L1476 1736L1454 1758Z" fill="#3e7dd0" stroke="none"/>
<path d="M1454 1675L1499 1716M1454 1672L1499 1721M1454 1725L1499 1654L1545 1711M1454 1691L1499 1656L1545 1713M1499 1711L1545 1654L1590 1616M1499 1719L1545 1660L1590 1621M1545 1675L1590 1617L1635 1639M1545 1667L1590 1614L1635 1632M1590 1661L1635 1584L1681 1628M1590 1675L1635 1584L1681 1633M1635 1631L1681 1571L1726 1615M1635 1637L1681 1573L1726 1615M1681 1629L1726 1567L1771 1636M1681 1632L1726 1566L1771 1642M1726 1618L1771 1581L1817 1604M1726 1611L1771 1581L1817 1621M1771 1630L1817 1559L1862 1615M1771 1645L1817 1560L1862 1623M1817 1618L1862 1562M1817 1612L1862 1563M1454 1758L1499 1716M1454 1759L1499 1709M1454 1719L1499 1758L1545 1736M1454 1752L1499 1757L1545 1711M1499 1715L1545 1749L1590 1737M1499 1751L1545 1749L1590 1708M1545 1708L1590 1745L1635 1647M1545 1743L1590 1746L1635 1683M1590 1696L1635 1695L1681 1627M1590 1695L1635 1695L1681 1627M1635 1640L1681 1676L1726 1617M1635 1672L1681 1679L1726 1620M1681 1627L1726 1670L1771 1648M1681 1625L1726 1670L1771 1660M1726 1613L1771 1706L1817 1656M1726 1627L1771 1707L1817 1631M1771 1657L1817 1679L1862 1607M1771 1663L1817 1680L1862 1620M1817 1630L1862 1666M1817 1618L1862 1668" stroke="#3e7dd0"/>
<path d="M1454 1676L1499 1721M1454 1676L1499 1711M1454 1732L1499 1657L1545 1725M1454 1729L1499 1656L1545 1735M1499 1715L1545 1663L1590 1620M1499 1728L1545 1662L1590 1624M1545 1674L1590 1618L1635 1634M1545 1674L1590 1618L1635 1634M1590 1675L1635 1586L1681 1629M1590 1672L1635 1586L1681 1610M1635 1640L1681 1575L1726 1623M1635 1609L1681 1573L1726 1621M1681 1633L1726 1568L1771 1627M1681 1632L1726 1569L1771 1626M1726 1621L1771 1583L1817 1609M1726 1625L1771 1584L1817 1625M1771 1620L1817 1562L1862 1629M1771 1648L1817 1561L1862 1621M1817 1623L1862 1564M1817 1615L1862 1566M1454 1757L1499 1715M1454 1758L1499 1712M1454 1719L1499 1755L1545 1706M1454 1724L1499 1755L1545 1708M1499 1711L1545 1748L1590 1703M1499 1713L1545 1748L1590 1700M1545 1711L1590 1743L1635 1645M1545 1716L1590 1744L1635 1651M1590 1703L1635 1692L1681 1632M1590 1704L1635 1692L1681 1670M1635 1651L1681 1674L1726 1629M1635 1652L1681 1677L1726 1627M1681 1643L1726 1668L1771 1661M1681 1620L1726 1670L1771 1651M1726 1614L1771 1705L1817 1634M1726 1621L1771 1705L1817 1660M1771 1650L1817 1679L1862 1611M1771 1645L1817 1679L1862 1632M1817 1633L1862 1665M1817 1633L1862 1664" stroke="#3964c6"/>
<path d="M1454 1679L1476 1695L1499 1660L1522 1692L1545 1666L1590 1619L1613 1627L1635 1589L1658 1607L1681 1577L1703 1598L1726 1570L1749 1601L1771 1585L1794 1600L1817 1565L1839 1591L1862 1567L1862 1663L1839 1646L1817 1676L1794 1666L1771 1703L1749 1662L1726 1667L1703 1647L1681 1673L1658 1660L1635 1691L1613 1696L1590 1742L1567 1726L1545 1747L1522 1730L1499 1753L1476 1735L1454 1757Z" fill="#3b5dc3" stroke="none"/>
<path d="M1454 1678L1499 1710M1454 1679L1499 1714M1454 1727L1499 1659L1545 1666M1454 1739L1499 1660L1545 1698M1499 1728L1545 1664L1590 1620M1499 1712L1545 1663L1590 1626M1545 1678L1590 1619L1635 1631M1545 1667L1590 1619L1635 1642M1590 1668L1635 1589L1681 1628M1590 1624L1635 1589L1681 1618M1635 1641L1681 1577L1726 1613M1635 1645L1681 1577L1726 1628M1681 1629L1726 1570L1771 1626M1681 1627L1726 1570L1771 1627M1726 1626L1771 1586L1817 1623M1726 1623L1771 1584L1817 1612M1771 1638L1817 1565L1862 1626M1771 1640L1817 1566L1862 1624M1817 1613L1862 1565M1817 1616L1862 1565M1454 1757L1499 1712M1454 1757L1499 1717M1454 1716L1499 1754L1545 1706M1454 1714L1499 1755L1545 1707M1499 1715L1545 1747L1590 1705M1499 1715L1545 1747L1590 1708M1545 1712L1590 1742L1635 1648M1545 1708L1590 1742L1635 1654M1590 1714L1635 1692L1681 1625M1590 1704L1635 1692L1681 1633M1635 1670L1681 1675L1726 1621M1635 1691L1681 1673L1726 1615M1681 1619L1726 1668L1771 1662M1681 1632L1726 1669L1771 1652M1726 1616L1771 1702L1817 1625M1726 1619L1771 1702L1817 1634M1771 1660L1817 1677L1862 1611M1771 1647L1817 1677L1862 1616M1817 1632L1862 1665M1817 1635L1862 1663" stroke="#3b5dc3"/>
<path d="M1454 1679L1499 1708M1454 1680L1499 1719M1454 1724L1499 1661L1545 1731M1454 1730L1499 1661L1545 1721M1499 1717L1545 1670L1590 1626M1499 1724L1545 1667L1590 1624M1545 1669L1590 1620L1635 1630M1545 1675L1590 1620L1635 1640M1590 1670L1635 1590L1681 1630M1590 1663L1635 1590L1681 1626M1635 1631L1681 1577L1726 1627M1635 1645L1681 1578L1726 1591M1681 1623L1726 1572L1771 1631M1681 1628L1726 1572L1771 1635M1726 1622L1771 1587L1817 1617M1726 1623L1771 1587L1817 1611M1771 1640L1817 1565L1862 1622M1771 1637L1817 1568L1862 1590M1817 1619L1862 1569M1817 1632L1862 1569M1454 1756L1499 1708M1454 1756L1499 1711M1454 1714L1499 1752L1545 1706M1454 1712L1499 1753L1545 1709M1499 1711L1545 1746L1590 1708M1499 1717L1545 1747L1590 1703M1545 1706L1590 1742L1635 1650M1545 1710L1590 1741L1635 1648M1590 1703L1635 1691L1681 1660M1590 1699L1635 1691L1681 1629M1635 1646L1681 1671L1726 1617M1635 1642L1681 1672L1726 1625M1681 1633L1726 1665L1771 1655M1681 1633L1726 1666L1771 1702M1726 1614L1771 1702L1817 1660M1726 1618L1771 1702L1817 1650M1771 1657L1817 1676L1862 1608M1771 1661L1817 1675L1862 1622M1817 1632L1862 1663M1817 1625L1862 1662" stroke="#3e55c1"/>
<path d="M1454 1683L1476 1696L1499 1663L1522 1694L1545 1673L1590 1622L1613 1628L1635 1592L1658 1609L1681 1581L1703 1599L1726 1573L1749 1603L1771 1589L1794 1602L1817 1569L1839 1592L1862 1570L1862 1659L1839 1645L1817 1673L1794 1665L1771 1699L1749 1661L1726 1664L1703 1646L1681 1670L1658 1659L1635 1689L1613 1695L1590 1740L1567 1725L1545 1746L1522 1729L1499 1750L1476 1734L1454 1756Z" fill="#5654c6" stroke="none"/>
<path d="M1454 1683L1499 1713M1454 1681L1499 1714M1454 1723L1499 1663L1545 1727M1454 1730L1499 1664L1545 1723M1499 1716L1545 1673L1590 1626M1499 1715L1545 1670L1590 1627M1545 1674L1590 1621L1635 1638M1545 1676L1590 1621L1635 1634M1590 1657L1635 1591L1681 1630M1590 1668L1635 1592L1681 1627M1635 1641L1681 1580L1726 1612M1635 1640L1681 1581L1726 1624M1681 1630L1726 1572L1771 1631M1681 1602L1726 1573L1771 1633M1726 1617L1771 1589L1817 1622M1726 1620L1771 1589L1817 1571M1771 1643L1817 1568L1862 1618M1771 1638L1817 1568L1862 1621M1817 1615L1862 1570M1817 1610L1862 1568M1454 1756L1499 1713M1454 1756L1499 1717M1454 1716L1499 1750L1545 1707M1454 1718L1499 1751L1545 1706M1499 1733L1545 1746L1590 1705M1499 1716L1545 1746L1590 1738M1545 1711L1590 1739L1635 1653M1545 1709L1590 1740L1635 1655M1590 1699L1635 1689L1681 1623M1590 1705L1635 1689L1681 1631M1635 1643L1681 1671L1726 1625M1635 1646L1681 1670L1726 1626M1681 1632L1726 1665L1771 1654M1681 1630L1726 1664L1771 1652M1726 1619L1771 1698L1817 1626M1726 1621L1771 1700L1817 1623M1771 1659L1817 1672L1862 1616M1771 1661L1817 1673L1862 1612M1817 1624L1862 1659M1817 1650L1862 1660" stroke="#5654c6"/>
<path d="M1454 1685L1499 1710M1454 1684L1499 1715M1454 1726L1499 1665L1545 1721M1454 1728L1499 1665L1545 1732M1499 1717L1545 1675L1590 1625M1499 1715L1545 1674L1590 1626M1545 1684L1590 1623L1635 1633M1545 1687L1590 1624L1635 1632M1590 1667L1635 1592L1681 1627M1590 1663L1635 1593L1681 1631M1635 1591L1681 1581L1726 1613M1635 1637L1681 1584L1726 1622M1681 1625L1726 1574L1771 1637M1681 1628L1726 1574L1771 1639M1726 1611L1771 1589L1817 1614M1726 1617L1771 1591L1817 1621M1771 1631L1817 1571L1862 1619M1771 1642L1817 1571L1862 1614M1817 1618L1862 1571M1817 1620L1862 1571M1454 1755L1499 1715M1454 1755L1499 1709M1454 1717L1499 1749L1545 1709M1454 1717L1499 1749L1545 1710M1499 1739L1545 1745L1590 1705M1499 1715L1545 1745L1590 1701M1545 1708L1590 1739L1635 1653M1545 1711L1590 1739L1635 1654M1590 1702L1635 1688L1681 1633M1590 1665L1635 1688L1681 1625M1635 1645L1681 1668L1726 1619M1635 1650L1681 1668L1726 1660M1681 1625L1726 1663L1771 1658M1681 1629L1726 1662L1771 1681M1726 1627L1771 1698L1817 1640M1726 1619L1771 1699L1817 1634M1771 1658L1817 1671L1862 1613M1771 1653L1817 1671L1862 1617M1817 1626L1862 1657M1817 1632L1862 1658" stroke="#7354cc"/>
<path d="M1454 1687L1476 1698L1499 1667L1522 1697L1545 1680L1590 1625L1613 1629L1635 1595L1658 1610L1681 1585L1703 1601L1726 1576L1749 1604L1771 1592L1794 1603L1817 1573L1839 1594L1862 1574L1862 1656L1839 1644L1817 1670L1794 1663L1771 1695L1749 1659L1726 1661L1703 1645L1681 1666L1658 1658L1635 1686L1613 1695L1590 1737L1567 1725L1545 1744L1522 1728L1499 1747L1476 1734L1454 1754Z" fill="#9454cf" stroke="none"/>
<path d="M1454 1687L1499 1712M1454 1686L1499 1681M1454 1725L1499 1666L1545 1723M1454 1731L1499 1667L1545 1730M1499 1704L1545 1680L1590 1626M1499 1715L1545 1680L1590 1626M1545 1681L1590 1625L1635 1630M1545 1685L1590 1624L1635 1637M1590 1662L1635 1594L1681 1623M1590 1667L1635 1595L1681 1629M1635 1640L1681 1585L1726 1616M1635 1636L1681 1586L1726 1615M1681 1622L1726 1575L1771 1636M1681 1631L1726 1575L1771 1636M1726 1615L1771 1592L1817 1612M1726 1616L1771 1592L1817 1605M1771 1635L1817 1573L1862 1620M1771 1598L1817 1572L1862 1619M1817 1615L1862 1574M1817 1620L1862 1574M1454 1755L1499 1711M1454 1755L1499 1711M1454 1720L1499 1747L1545 1708M1454 1722L1499 1748L1545 1707M1499 1715L1545 1745L1590 1703M1499 1711L1545 1744L1590 1705M1545 1711L1590 1737L1635 1651M1545 1711L1590 1738L1635 1648M1590 1704L1635 1687L1681 1626M1590 1721L1635 1687L1681 1633M1635 1644L1681 1667L1726 1624M1635 1674L1681 1666L1726 1637M1681 1631L1726 1662L1771 1658M1681 1625L1726 1661L1771 1644M1726 1626L1771 1696L1817 1611M1726 1627L1771 1696L1817 1632M1771 1651L1817 1671L1862 1640M1771 1656L1817 1670L1862 1621M1817 1635L1862 1656M1817 1627L1862 1656" stroke="#9454cf"/>
<path d="M1454 1689L1499 1706M1454 1733L1499 1668L1545 1733M1499 1714L1545 1681L1590 1626M1545 1687L1590 1626L1635 1631M1590 1663L1635 1596L1681 1625M1635 1635L1681 1587L1726 1615M1681 1624L1726 1576L1771 1632M1726 1619L1771 1594L1817 1613M1771 1639L1817 1575L1862 1616M1817 1617L1862 1576M1454 1754L1499 1715M1454 1718L1499 1745L1545 1708M1499 1711L1545 1744L1590 1704M1545 1709L1590 1737L1635 1649M1590 1704L1635 1685L1681 1626M1635 1647L1681 1664L1726 1625M1681 1625L1726 1660L1771 1661M1726 1619L1771 1695L1817 1630M1771 1658L1817 1669L1862 1617M1817 1628L1862 1654" stroke="#b64ec5"/>
<path d="M1454 1691L1476 1699L1499 1670L1522 1699L1545 1687L1590 1628L1613 1630L1635 1597L1658 1611L1681 1589L1703 1602L1726 1579L1749 1605L1771 1596L1794 1605L1817 1577L1839 1595L1862 1577L1862 1653L1839 1642L1817 1666L1794 1662L1771 1692L1749 1658L1726 1658L1703 1643L1681 1663L1658 1657L1635 1684L1613 1694L1590 1735L1567 1724L1545 1743L1522 1728L1499 1744L1476 1733L1454 1753Z" fill="#d745b2" stroke="none"/>
<path d="M1454 1691L1499 1706M1454 1726L1499 1669L1545 1730M1499 1716L1545 1687L1590 1629M1545 1689L1590 1628L1635 1631M1590 1665L1635 1597L1681 1625M1635 1636L1681 1590L1726 1618M1681 1626L1726 1579L1771 1630M1726 1615L1771 1596L1817 1616M1771 1633L1817 1575L1862 1615M1817 1617L1862 1576M1454 1753L1499 1710M1454 1720L1499 1743L1545 1713M1499 1712L1545 1743L1590 1703M1545 1714L1590 1735L1635 1650M1590 1702L1635 1684L1681 1631M1635 1649L1681 1663L1726 1625M1681 1625L1726 1659L1771 1660M1726 1621L1771 1693L1817 1629M1771 1655L1817 1667L1862 1621M1817 1631L1862 1653" stroke="#d745b2"/>
<path d="M1454 1693L1476 1700L1499 1672L1522 1700L1545 1690L1590 1630L1613 1631L1635 1599L1658 1612L1681 1591L1703 1603L1726 1580L1749 1606L1771 1598L1794 1606L1817 1579L1839 1596L1862 1579L1862 1651L1839 1642L1817 1665L1794 1661L1771 1690L1749 1657L1726 1656L1703 1643L1681 1661L1658 1656L1635 1683L1613 1693L1590 1734L1567 1723L1545 1743L1522 1727L1499 1742L1476 1732L1454 1753Z" fill="#e43896" stroke="none"/>
<path d="M1454 1694L1499 1705M1454 1728L1499 1671L1545 1724M1499 1710L1545 1690L1590 1631M1545 1691L1590 1630L1635 1631M1590 1664L1635 1599L1681 1628M1635 1636L1681 1591L1726 1616M1681 1626L1726 1580L1771 1631M1726 1615L1771 1598L1817 1613M1771 1636L1817 1578L1862 1614M1817 1614L1862 1579M1454 1753L1499 1710M1454 1724L1499 1741L1545 1713M1499 1711L1545 1742L1590 1704M1545 1714L1590 1734L1635 1650M1590 1704L1635 1682L1681 1629M1635 1651L1681 1661L1726 1626M1681 1629L1726 1656L1771 1656M1726 1622L1771 1691L1817 1631M1771 1659L1817 1665L1862 1619M1817 1632L1862 1652" stroke="#e43896"/>
<path d="M1454 1695L1476 1701L1499 1674L1522 1701L1545 1694L1590 1631L1613 1632L1635 1600L1658 1613L1681 1593L1703 1603L1726 1581L1749 1606L1771 1600L1794 1606L1817 1580L1839 1597L1862 1581L1862 1649L1839 1641L1817 1663L1794 1660L1771 1688L1749 1657L1726 1655L1703 1642L1681 1659L1658 1655L1635 1682L1613 1693L1590 1733L1567 1723L1545 1742L1522 1727L1499 1740L1476 1732L1454 1752Z" fill="#ea3279" stroke="none"/>
<path d="M1454 1696L1499 1705M1454 1729L1499 1674L1545 1727M1499 1710L1545 1694L1590 1631M1545 1695L1590 1631L1635 1631M1590 1663L1635 1601L1681 1624M1635 1633L1681 1594L1726 1613M1681 1625L1726 1582L1771 1633M1726 1614L1771 1600L1817 1613M1771 1632L1817 1581L1862 1615M1817 1612L1862 1581M1454 1752L1499 1711M1454 1723L1499 1740L1545 1713M1499 1710L1545 1742L1590 1704M1545 1712L1590 1733L1635 1652M1590 1704L1635 1681L1681 1629M1635 1653L1681 1659L1726 1626M1681 1629L1726 1655L1771 1658M1726 1625L1771 1688L1817 1634M1771 1658L1817 1662L1862 1619M1817 1633L1862 1649" stroke="#ea3279"/>
<path d="M1454 1697L1476 1702L1499 1675L1522 1702L1545 1697L1590 1633L1613 1632L1635 1602L1658 1614L1681 1595L1703 1604L1726 1583L1749 1607L1771 1602L1794 1607L1817 1582L1839 1598L1862 1583L1862 1648L1839 1640L1817 1661L1794 1660L1771 1686L1749 1656L1726 1653L1703 1641L1681 1657L1658 1655L1635 1680L1613 1692L1590 1732L1567 1723L1545 1741L1522 1726L1499 1739L1476 1731L1454 1752Z" fill="#eb305b" stroke="none"/>
<path d="M1454 1698L1499 1705M1454 1727L1499 1676L1545 1728M1499 1706L1545 1699L1590 1633M1545 1698L1590 1633L1635 1632M1590 1663L1635 1602L1681 1626M1635 1633L1681 1594L1726 1613M1681 1625L1726 1582L1771 1631M1726 1613L1771 1601L1817 1612M1771 1631L1817 1582L1862 1612M1817 1613L1862 1582M1454 1752L1499 1711M1454 1724L1499 1738L1545 1714M1499 1711L1545 1741L1590 1704M1545 1714L1590 1731L1635 1652M1590 1704L1635 1680L1681 1629M1635 1652L1681 1657L1726 1625M1681 1629L1726 1653L1771 1658M1726 1625L1771 1686L1817 1633M1771 1658L1817 1661L1862 1620M1817 1632L1862 1648" stroke="#eb305b"/>
<polygon points="1453.8,1699 1476.5,1702.1 1499.2,1676.6 1521.8,1702.5 1544.5,1699.9 1589.9,1633.7 1612.6,1632.6 1635.3,1602.8 1657.9,1614 1680.6,1596.6 1703.3,1604.5 1726,1583.8 1748.7,1607.6 1771.4,1602.8 1794,1607.6 1816.7,1583.8 1839.4,1598 1862.1,1583.8 1862.1,1646.6 1839.4,1639.9 1816.7,1659.9 1794,1659.2 1771.4,1685.2 1748.7,1655.4 1726,1652.3 1703.3,1640.9 1680.6,1656.1 1657.9,1654.5 1635.3,1679.4 1612.6,1691.8 1589.9,1730.9 1567.2,1722.5 1544.5,1740.8 1521.8,1725.9 1499.2,1737.5 1476.5,1731.1 1453.8,1751.3" fill="#e8313f" stroke="#e8313f" stroke-width="1.5"/>
</g>
<g stroke="#000" stroke-width="2.1" fill="none" stroke-linecap="square">
<path d="M1437.7 1563.3V1753.7"/>
<path d="M1425.2 1563.3H1437.7"/>
<path d="M1425.2 1610.9H1437.7"/>
<path d="M1425.2 1658.5H1437.7"/>
<path d="M1425.2 1706.1H1437.7"/>
<path d="M1425.2 1753.7H1437.7"/>
<path d="M1453.8 1788.3H1862.1"/>
<path d="M1453.8 1788.3V1801.3"/>
<path d="M1499.2 1788.3V1801.3"/>
<path d="M1544.5 1788.3V1801.3"/>
<path d="M1589.9 1788.3V1801.3"/>
<path d="M1635.3 1788.3V1801.3"/>
<path d="M1680.6 1788.3V1801.3"/>
<path d="M1726 1788.3V1801.3"/>
<path d="M1771.4 1788.3V1801.3"/>
<path d="M1816.7 1788.3V1801.3"/>
<path d="M1862.1 1788.3V1801.3"/>
</g>
<text transform="translate(1415.2 1563.3) rotate(-90)" text-anchor="middle" font-size="18.5">2</text>
<text transform="translate(1415.2 1610.9) rotate(-90)" text-anchor="middle" font-size="18.5">1</text>
<text transform="translate(1415.2 1658.5) rotate(-90)" text-anchor="middle" font-size="18.5">0</text>
<text transform="translate(1415.2 1710.1) rotate(-90)" text-anchor="middle" font-size="18.5">−1</text>
<text transform="translate(1415.2 1757.7) rotate(-90)" text-anchor="middle" font-size="18.5">−2</text>
<text transform="translate(1388 1650) rotate(-90)" text-anchor="middle" font-size="19.4">Expression changes</text>
<text x="1632" y="1509" text-anchor="middle" font-size="25">Cluster 9</text>
<text transform="translate(1455.9 1811.1) rotate(-30)" text-anchor="end" font-size="19.3" stroke="#000" stroke-width="0.35">Rumen</text>
<text transform="translate(1505.1 1811.1) rotate(-30)" text-anchor="end" font-size="19.3">Reticulum</text>
<text transform="translate(1553.3 1811.1) rotate(-30)" text-anchor="end" font-size="19.3">Omasum</text>
<text transform="translate(1598.4 1811.1) rotate(-30)" text-anchor="end" font-size="19.3" stroke="#000" stroke-width="0.35">Abomasum</text>
<text transform="translate(1644.3 1811.1) rotate(-30)" text-anchor="end" font-size="19.3">Duodenum</text>
<text transform="translate(1685.1 1811.1) rotate(-30)" text-anchor="end" font-size="19.3">Jejunum</text>
<text transform="translate(1733.9 1811.1) rotate(-30)" text-anchor="end" font-size="19.3" stroke="#000" stroke-width="0.35">Ileum</text>
<text transform="translate(1779.6 1811.1) rotate(-30)" text-anchor="end" font-size="19.3">Cecum</text>
<text transform="translate(1825.5 1811.1) rotate(-30)" text-anchor="end" font-size="19.3" stroke="#000" stroke-width="0.35">Colon</text>
<text transform="translate(1868.8 1811.1) rotate(-30)" text-anchor="end" font-size="19.3">Rectumi</text>
</g>
<g id="bar9">
<rect x="1663" y="1919.9" width="78.9" height="18" fill="#c8475f"/>
<rect x="1663" y="1946" width="81.4" height="18" fill="#c8475f"/>
<rect x="1663" y="1971.7" width="85.6" height="18" fill="#4a71b5"/>
<rect x="1663" y="1997.8" width="86.3" height="18" fill="#4a71b5"/>
<rect x="1663" y="2023.9" width="86.3" height="18" fill="#4a71b5"/>
<rect x="1663" y="2050" width="87.4" height="18" fill="#c8475f"/>
<rect x="1663" y="2076.1" width="87.4" height="18" fill="#c8475f"/>
<rect x="1663" y="2102.2" width="111" height="18" fill="#c8475f"/>
<rect x="1663" y="2127.9" width="143.8" height="18" fill="#4a71b5"/>
<polyline points="1722.9,1928.9 1758.9,1955 1750.8,1980.7 1750.8,2006.8 1752.2,2032.9 1700.3,2059 1700.3,2085.1 1709.2,2111.2 1795.5,2136.9" fill="none" stroke="#f0b26e" stroke-width="2.8" stroke-linejoin="round"/>
<circle cx="1722.9" cy="1928.9" r="4.4" fill="#f0b26e"/>
<circle cx="1758.9" cy="1955" r="4.4" fill="#f0b26e"/>
<circle cx="1750.8" cy="1980.7" r="4.4" fill="#f0b26e"/>
<circle cx="1750.8" cy="2006.8" r="4.4" fill="#f0b26e"/>
<circle cx="1752.2" cy="2032.9" r="4.4" fill="#f0b26e"/>
<circle cx="1700.3" cy="2059" r="4.4" fill="#f0b26e"/>
<circle cx="1700.3" cy="2085.1" r="4.4" fill="#f0b26e"/>
<circle cx="1709.2" cy="2111.2" r="4.4" fill="#f0b26e"/>
<circle cx="1795.5" cy="2136.9" r="4.4" fill="#f0b26e"/>
<g stroke="#111" stroke-width="1.5" fill="none">
<path d="M1663 1919V2145.7"/>
<path d="M1663 1919H1806.8"/>
<path d="M1663 2145.7H1806.8"/>
<path d="M1659.5 1928.9H1663"/>
<path d="M1659.5 1955H1663"/>
<path d="M1659.5 1980.7H1663"/>
<path d="M1659.5 2006.8H1663"/>
<path d="M1659.5 2032.9H1663"/>
<path d="M1659.5 2059H1663"/>
<path d="M1659.5 2085.1H1663"/>
<path d="M1659.5 2111.2H1663"/>
<path d="M1659.5 2136.9H1663"/>
<path d="M1663 1915.5V1919"/>
<path d="M1697.9 1915.5V1919"/>
<path d="M1732.8 1915.5V1919"/>
<path d="M1767.3 1915.5V1919"/>
<path d="M1802.2 1915.5V1919"/>
<path d="M1663 2145.7V2149.2"/>
<path d="M1696.1 2145.7V2149.2"/>
<path d="M1729.3 2145.7V2149.2"/>
<path d="M1762.7 2145.7V2149.2"/>
<path d="M1796.6 2145.7V2149.2"/>
</g>
<g font-size="16" fill="#1a1a1a">
<text x="1655.2" y="1934.6" text-anchor="end">Spliceosomal complex</text>
<text x="1655.2" y="1960.7" text-anchor="end">Golgi apparatus subcompartment</text>
<text x="1655.2" y="1986.4" text-anchor="end">mRNA splicing, via spliceosome</text>
<text x="1303.1" y="2011">RNA splicing, via transesterification reactions with</text>
<text x="1303.1" y="2023.3">bulged adenosine as nucleophile</text>
<text x="1655.2" y="2038.6" text-anchor="end">RNA splicing, via transesterification reactions</text>
<text x="1655.2" y="2064.7" text-anchor="end">Coated membrane</text>
<text x="1655.2" y="2090.8" text-anchor="end">Membrane coat</text>
<text x="1655.2" y="2116.9" text-anchor="end">Endoplasmic reticulum protein−containing complex</text>
<text x="1655.2" y="2142.6" text-anchor="end">RNA splicing</text>
<text x="1663" y="1914.5" text-anchor="middle">0</text>
<text x="1697.9" y="1914.5" text-anchor="middle">20</text>
<text x="1732.8" y="1914.5" text-anchor="middle">40</text>
<text x="1767.3" y="1914.5" text-anchor="middle">60</text>
<text x="1802.2" y="1914.5" text-anchor="middle">80</text>
<text x="1663" y="2164.7" text-anchor="middle">0</text>
<text x="1696.1" y="2164.7" text-anchor="middle">4</text>
<text x="1729.3" y="2164.7" text-anchor="middle">8</text>
<text x="1762.7" y="2164.7" text-anchor="middle">12</text>
<text x="1796.6" y="2164.7" text-anchor="middle">16</text>
<text x="1750.8" y="1938.5">ONTOLOGY</text>
<rect x="1771.9" y="1947.2" width="17.3" height="16.2" fill="#4a71b5"/>
<text x="1795.5" y="1961">BP</text>
<rect x="1771.9" y="1966.3" width="17.3" height="16.2" fill="#c8475f"/>
<text x="1795.5" y="1980.1">CC</text>
<text x="1720.4" y="2188.9" text-anchor="middle">−log<tspan font-size="9" dy="4">10</tspan><tspan dy="-4" font-style="italic">P</tspan></text>
</g>
<text x="1727.1" y="1887.4" text-anchor="middle" font-size="19" fill="#111">Gene count</text>
</g>
</svg></body></html>
